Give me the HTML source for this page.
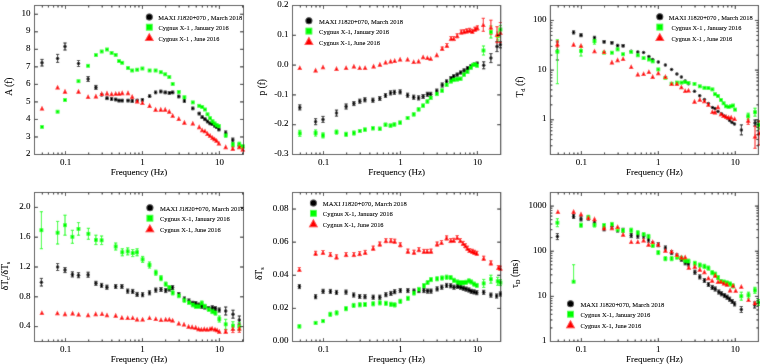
<!DOCTYPE html>
<html><head><meta charset="utf-8"><style>
html,body{margin:0;padding:0;background:#fff;}
svg{display:block;will-change:transform;}
text{font-family:"Liberation Serif", serif;fill:#000;stroke:#000;stroke-width:0.08px;}
</style></head><body>
<svg width="760" height="364" viewBox="0 0 760 364">
<defs><filter id="bl" x="0" y="0" width="760" height="364" filterUnits="userSpaceOnUse"><feConvolveMatrix order="3" kernelMatrix="0.02 0.07 0.02 0.07 0.64 0.07 0.02 0.07 0.02" edgeMode="duplicate" preserveAlpha="false"/></filter></defs>
<rect width="760" height="364" fill="#fff"/>
<g filter="url(#bl)"><rect width="760" height="364" fill="#fff"/>
<line x1="42.00" y1="59.40" x2="42.00" y2="66.00" stroke="#000" stroke-width="1"/>
<line x1="40.40" y1="59.40" x2="43.60" y2="59.40" stroke="#000" stroke-width="1"/>
<line x1="40.40" y1="66.00" x2="43.60" y2="66.00" stroke="#000" stroke-width="1"/>
<line x1="57.60" y1="54.40" x2="57.60" y2="62.40" stroke="#000" stroke-width="1"/>
<line x1="56.00" y1="54.40" x2="59.20" y2="54.40" stroke="#000" stroke-width="1"/>
<line x1="56.00" y1="62.40" x2="59.20" y2="62.40" stroke="#000" stroke-width="1"/>
<line x1="65.00" y1="43.00" x2="65.00" y2="50.00" stroke="#000" stroke-width="1"/>
<line x1="63.40" y1="43.00" x2="66.60" y2="43.00" stroke="#000" stroke-width="1"/>
<line x1="63.40" y1="50.00" x2="66.60" y2="50.00" stroke="#000" stroke-width="1"/>
<line x1="78.50" y1="60.50" x2="78.50" y2="66.50" stroke="#000" stroke-width="1"/>
<line x1="76.90" y1="60.50" x2="80.10" y2="60.50" stroke="#000" stroke-width="1"/>
<line x1="76.90" y1="66.50" x2="80.10" y2="66.50" stroke="#000" stroke-width="1"/>
<line x1="88.10" y1="76.50" x2="88.10" y2="81.50" stroke="#000" stroke-width="1"/>
<line x1="86.50" y1="76.50" x2="89.70" y2="76.50" stroke="#000" stroke-width="1"/>
<line x1="86.50" y1="81.50" x2="89.70" y2="81.50" stroke="#000" stroke-width="1"/>
<line x1="95.90" y1="85.40" x2="95.90" y2="89.40" stroke="#000" stroke-width="1"/>
<line x1="94.30" y1="85.40" x2="97.50" y2="85.40" stroke="#000" stroke-width="1"/>
<line x1="94.30" y1="89.40" x2="97.50" y2="89.40" stroke="#000" stroke-width="1"/>
<line x1="101.70" y1="93.80" x2="101.70" y2="95.80" stroke="#000" stroke-width="1"/>
<line x1="100.10" y1="93.80" x2="103.30" y2="93.80" stroke="#000" stroke-width="1"/>
<line x1="100.10" y1="95.80" x2="103.30" y2="95.80" stroke="#000" stroke-width="1"/>
<line x1="107.00" y1="97.00" x2="107.00" y2="99.60" stroke="#000" stroke-width="1"/>
<line x1="105.40" y1="97.00" x2="108.60" y2="97.00" stroke="#000" stroke-width="1"/>
<line x1="105.40" y1="99.60" x2="108.60" y2="99.60" stroke="#000" stroke-width="1"/>
<line x1="111.60" y1="97.70" x2="111.60" y2="100.30" stroke="#000" stroke-width="1"/>
<line x1="110.00" y1="97.70" x2="113.20" y2="97.70" stroke="#000" stroke-width="1"/>
<line x1="110.00" y1="100.30" x2="113.20" y2="100.30" stroke="#000" stroke-width="1"/>
<line x1="115.70" y1="98.20" x2="115.70" y2="100.80" stroke="#000" stroke-width="1"/>
<line x1="114.10" y1="98.20" x2="117.30" y2="98.20" stroke="#000" stroke-width="1"/>
<line x1="114.10" y1="100.80" x2="117.30" y2="100.80" stroke="#000" stroke-width="1"/>
<line x1="119.00" y1="99.30" x2="119.00" y2="101.90" stroke="#000" stroke-width="1"/>
<line x1="117.40" y1="99.30" x2="120.60" y2="99.30" stroke="#000" stroke-width="1"/>
<line x1="117.40" y1="101.90" x2="120.60" y2="101.90" stroke="#000" stroke-width="1"/>
<line x1="122.20" y1="99.30" x2="122.20" y2="101.90" stroke="#000" stroke-width="1"/>
<line x1="120.60" y1="99.30" x2="123.80" y2="99.30" stroke="#000" stroke-width="1"/>
<line x1="120.60" y1="101.90" x2="123.80" y2="101.90" stroke="#000" stroke-width="1"/>
<line x1="128.00" y1="99.30" x2="128.00" y2="101.90" stroke="#000" stroke-width="1"/>
<line x1="126.40" y1="99.30" x2="129.60" y2="99.30" stroke="#000" stroke-width="1"/>
<line x1="126.40" y1="101.90" x2="129.60" y2="101.90" stroke="#000" stroke-width="1"/>
<line x1="132.20" y1="99.80" x2="132.20" y2="102.40" stroke="#000" stroke-width="1"/>
<line x1="130.60" y1="99.80" x2="133.80" y2="99.80" stroke="#000" stroke-width="1"/>
<line x1="130.60" y1="102.40" x2="133.80" y2="102.40" stroke="#000" stroke-width="1"/>
<line x1="137.20" y1="99.30" x2="137.20" y2="101.90" stroke="#000" stroke-width="1"/>
<line x1="135.60" y1="99.30" x2="138.80" y2="99.30" stroke="#000" stroke-width="1"/>
<line x1="135.60" y1="101.90" x2="138.80" y2="101.90" stroke="#000" stroke-width="1"/>
<line x1="142.40" y1="98.50" x2="142.40" y2="101.10" stroke="#000" stroke-width="1"/>
<line x1="140.80" y1="98.50" x2="144.00" y2="98.50" stroke="#000" stroke-width="1"/>
<line x1="140.80" y1="101.10" x2="144.00" y2="101.10" stroke="#000" stroke-width="1"/>
<line x1="149.60" y1="94.90" x2="149.60" y2="97.50" stroke="#000" stroke-width="1"/>
<line x1="148.00" y1="94.90" x2="151.20" y2="94.90" stroke="#000" stroke-width="1"/>
<line x1="148.00" y1="97.50" x2="151.20" y2="97.50" stroke="#000" stroke-width="1"/>
<line x1="155.60" y1="91.10" x2="155.60" y2="93.70" stroke="#000" stroke-width="1"/>
<line x1="154.00" y1="91.10" x2="157.20" y2="91.10" stroke="#000" stroke-width="1"/>
<line x1="154.00" y1="93.70" x2="157.20" y2="93.70" stroke="#000" stroke-width="1"/>
<line x1="160.80" y1="90.20" x2="160.80" y2="92.80" stroke="#000" stroke-width="1"/>
<line x1="159.20" y1="90.20" x2="162.40" y2="90.20" stroke="#000" stroke-width="1"/>
<line x1="159.20" y1="92.80" x2="162.40" y2="92.80" stroke="#000" stroke-width="1"/>
<line x1="165.20" y1="91.10" x2="165.20" y2="93.70" stroke="#000" stroke-width="1"/>
<line x1="163.60" y1="91.10" x2="166.80" y2="91.10" stroke="#000" stroke-width="1"/>
<line x1="163.60" y1="93.70" x2="166.80" y2="93.70" stroke="#000" stroke-width="1"/>
<line x1="169.30" y1="91.60" x2="169.30" y2="94.20" stroke="#000" stroke-width="1"/>
<line x1="167.70" y1="91.60" x2="170.90" y2="91.60" stroke="#000" stroke-width="1"/>
<line x1="167.70" y1="94.20" x2="170.90" y2="94.20" stroke="#000" stroke-width="1"/>
<line x1="172.70" y1="91.10" x2="172.70" y2="93.70" stroke="#000" stroke-width="1"/>
<line x1="171.10" y1="91.10" x2="174.30" y2="91.10" stroke="#000" stroke-width="1"/>
<line x1="171.10" y1="93.70" x2="174.30" y2="93.70" stroke="#000" stroke-width="1"/>
<line x1="178.80" y1="95.20" x2="178.80" y2="97.80" stroke="#000" stroke-width="1"/>
<line x1="177.20" y1="95.20" x2="180.40" y2="95.20" stroke="#000" stroke-width="1"/>
<line x1="177.20" y1="97.80" x2="180.40" y2="97.80" stroke="#000" stroke-width="1"/>
<line x1="184.40" y1="99.70" x2="184.40" y2="102.30" stroke="#000" stroke-width="1"/>
<line x1="182.80" y1="99.70" x2="186.00" y2="99.70" stroke="#000" stroke-width="1"/>
<line x1="182.80" y1="102.30" x2="186.00" y2="102.30" stroke="#000" stroke-width="1"/>
<line x1="192.80" y1="107.10" x2="192.80" y2="109.70" stroke="#000" stroke-width="1"/>
<line x1="191.20" y1="107.10" x2="194.40" y2="107.10" stroke="#000" stroke-width="1"/>
<line x1="191.20" y1="109.70" x2="194.40" y2="109.70" stroke="#000" stroke-width="1"/>
<line x1="199.20" y1="112.30" x2="199.20" y2="114.90" stroke="#000" stroke-width="1"/>
<line x1="197.60" y1="112.30" x2="200.80" y2="112.30" stroke="#000" stroke-width="1"/>
<line x1="197.60" y1="114.90" x2="200.80" y2="114.90" stroke="#000" stroke-width="1"/>
<line x1="202.20" y1="115.90" x2="202.20" y2="118.50" stroke="#000" stroke-width="1"/>
<line x1="200.60" y1="115.90" x2="203.80" y2="115.90" stroke="#000" stroke-width="1"/>
<line x1="200.60" y1="118.50" x2="203.80" y2="118.50" stroke="#000" stroke-width="1"/>
<line x1="205.00" y1="118.00" x2="205.00" y2="120.60" stroke="#000" stroke-width="1"/>
<line x1="203.40" y1="118.00" x2="206.60" y2="118.00" stroke="#000" stroke-width="1"/>
<line x1="203.40" y1="120.60" x2="206.60" y2="120.60" stroke="#000" stroke-width="1"/>
<line x1="207.50" y1="120.20" x2="207.50" y2="122.80" stroke="#000" stroke-width="1"/>
<line x1="205.90" y1="120.20" x2="209.10" y2="120.20" stroke="#000" stroke-width="1"/>
<line x1="205.90" y1="122.80" x2="209.10" y2="122.80" stroke="#000" stroke-width="1"/>
<line x1="210.10" y1="122.10" x2="210.10" y2="124.70" stroke="#000" stroke-width="1"/>
<line x1="208.50" y1="122.10" x2="211.70" y2="122.10" stroke="#000" stroke-width="1"/>
<line x1="208.50" y1="124.70" x2="211.70" y2="124.70" stroke="#000" stroke-width="1"/>
<line x1="212.50" y1="122.90" x2="212.50" y2="125.50" stroke="#000" stroke-width="1"/>
<line x1="210.90" y1="122.90" x2="214.10" y2="122.90" stroke="#000" stroke-width="1"/>
<line x1="210.90" y1="125.50" x2="214.10" y2="125.50" stroke="#000" stroke-width="1"/>
<line x1="214.60" y1="124.40" x2="214.60" y2="127.00" stroke="#000" stroke-width="1"/>
<line x1="213.00" y1="124.40" x2="216.20" y2="124.40" stroke="#000" stroke-width="1"/>
<line x1="213.00" y1="127.00" x2="216.20" y2="127.00" stroke="#000" stroke-width="1"/>
<line x1="216.60" y1="125.90" x2="216.60" y2="128.50" stroke="#000" stroke-width="1"/>
<line x1="215.00" y1="125.90" x2="218.20" y2="125.90" stroke="#000" stroke-width="1"/>
<line x1="215.00" y1="128.50" x2="218.20" y2="128.50" stroke="#000" stroke-width="1"/>
<line x1="218.90" y1="128.20" x2="218.90" y2="130.80" stroke="#000" stroke-width="1"/>
<line x1="217.30" y1="128.20" x2="220.50" y2="128.20" stroke="#000" stroke-width="1"/>
<line x1="217.30" y1="130.80" x2="220.50" y2="130.80" stroke="#000" stroke-width="1"/>
<line x1="225.70" y1="131.00" x2="225.70" y2="135.00" stroke="#000" stroke-width="1"/>
<line x1="224.10" y1="131.00" x2="227.30" y2="131.00" stroke="#000" stroke-width="1"/>
<line x1="224.10" y1="135.00" x2="227.30" y2="135.00" stroke="#000" stroke-width="1"/>
<line x1="232.80" y1="138.10" x2="232.80" y2="142.10" stroke="#000" stroke-width="1"/>
<line x1="231.20" y1="138.10" x2="234.40" y2="138.10" stroke="#000" stroke-width="1"/>
<line x1="231.20" y1="142.10" x2="234.40" y2="142.10" stroke="#000" stroke-width="1"/>
<line x1="239.30" y1="143.90" x2="239.30" y2="146.90" stroke="#000" stroke-width="1"/>
<line x1="237.70" y1="143.90" x2="240.90" y2="143.90" stroke="#000" stroke-width="1"/>
<line x1="237.70" y1="146.90" x2="240.90" y2="146.90" stroke="#000" stroke-width="1"/>
<line x1="65.00" y1="98.50" x2="65.00" y2="101.50" stroke="#00ff00" stroke-width="1"/>
<line x1="63.40" y1="98.50" x2="66.60" y2="98.50" stroke="#00ff00" stroke-width="1"/>
<line x1="63.40" y1="101.50" x2="66.60" y2="101.50" stroke="#00ff00" stroke-width="1"/>
<line x1="225.70" y1="133.30" x2="225.70" y2="137.30" stroke="#00ff00" stroke-width="1"/>
<line x1="224.10" y1="133.30" x2="227.30" y2="133.30" stroke="#00ff00" stroke-width="1"/>
<line x1="224.10" y1="137.30" x2="227.30" y2="137.30" stroke="#00ff00" stroke-width="1"/>
<line x1="232.80" y1="142.70" x2="232.80" y2="146.70" stroke="#00ff00" stroke-width="1"/>
<line x1="231.20" y1="142.70" x2="234.40" y2="142.70" stroke="#00ff00" stroke-width="1"/>
<line x1="231.20" y1="146.70" x2="234.40" y2="146.70" stroke="#00ff00" stroke-width="1"/>
<line x1="239.30" y1="142.20" x2="239.30" y2="146.20" stroke="#00ff00" stroke-width="1"/>
<line x1="237.70" y1="142.20" x2="240.90" y2="142.20" stroke="#00ff00" stroke-width="1"/>
<line x1="237.70" y1="146.20" x2="240.90" y2="146.20" stroke="#00ff00" stroke-width="1"/>
<line x1="242.80" y1="145.00" x2="242.80" y2="148.00" stroke="#00ff00" stroke-width="1"/>
<line x1="241.20" y1="145.00" x2="244.40" y2="145.00" stroke="#00ff00" stroke-width="1"/>
<line x1="241.20" y1="148.00" x2="244.40" y2="148.00" stroke="#00ff00" stroke-width="1"/>
<line x1="232.80" y1="147.00" x2="232.80" y2="150.00" stroke="#ff0000" stroke-width="1"/>
<line x1="231.20" y1="147.00" x2="234.40" y2="147.00" stroke="#ff0000" stroke-width="1"/>
<line x1="231.20" y1="150.00" x2="234.40" y2="150.00" stroke="#ff0000" stroke-width="1"/>
<line x1="239.30" y1="145.50" x2="239.30" y2="148.50" stroke="#ff0000" stroke-width="1"/>
<line x1="237.70" y1="145.50" x2="240.90" y2="145.50" stroke="#ff0000" stroke-width="1"/>
<line x1="237.70" y1="148.50" x2="240.90" y2="148.50" stroke="#ff0000" stroke-width="1"/>
<line x1="242.80" y1="147.70" x2="242.80" y2="150.70" stroke="#ff0000" stroke-width="1"/>
<line x1="241.20" y1="147.70" x2="244.40" y2="147.70" stroke="#ff0000" stroke-width="1"/>
<line x1="241.20" y1="150.70" x2="244.40" y2="150.70" stroke="#ff0000" stroke-width="1"/>
<circle cx="42.00" cy="62.70" r="1.75" fill="#000"/>
<circle cx="57.60" cy="58.40" r="1.75" fill="#000"/>
<circle cx="65.00" cy="46.50" r="1.75" fill="#000"/>
<circle cx="78.50" cy="63.50" r="1.75" fill="#000"/>
<circle cx="88.10" cy="79.00" r="1.75" fill="#000"/>
<circle cx="95.90" cy="87.40" r="1.75" fill="#000"/>
<circle cx="101.70" cy="94.80" r="1.75" fill="#000"/>
<circle cx="107.00" cy="98.30" r="1.75" fill="#000"/>
<circle cx="111.60" cy="99.00" r="1.75" fill="#000"/>
<circle cx="115.70" cy="99.50" r="1.75" fill="#000"/>
<circle cx="119.00" cy="100.60" r="1.75" fill="#000"/>
<circle cx="122.20" cy="100.60" r="1.75" fill="#000"/>
<circle cx="128.00" cy="100.60" r="1.75" fill="#000"/>
<circle cx="132.20" cy="101.10" r="1.75" fill="#000"/>
<circle cx="137.20" cy="100.60" r="1.75" fill="#000"/>
<circle cx="142.40" cy="99.80" r="1.75" fill="#000"/>
<circle cx="149.60" cy="96.20" r="1.75" fill="#000"/>
<circle cx="155.60" cy="92.40" r="1.75" fill="#000"/>
<circle cx="160.80" cy="91.50" r="1.75" fill="#000"/>
<circle cx="165.20" cy="92.40" r="1.75" fill="#000"/>
<circle cx="169.30" cy="92.90" r="1.75" fill="#000"/>
<circle cx="172.70" cy="92.40" r="1.75" fill="#000"/>
<circle cx="178.80" cy="96.50" r="1.75" fill="#000"/>
<circle cx="184.40" cy="101.00" r="1.75" fill="#000"/>
<circle cx="192.80" cy="108.40" r="1.75" fill="#000"/>
<circle cx="199.20" cy="113.60" r="1.75" fill="#000"/>
<circle cx="202.20" cy="117.20" r="1.75" fill="#000"/>
<circle cx="205.00" cy="119.30" r="1.75" fill="#000"/>
<circle cx="207.50" cy="121.50" r="1.75" fill="#000"/>
<circle cx="210.10" cy="123.40" r="1.75" fill="#000"/>
<circle cx="212.50" cy="124.20" r="1.75" fill="#000"/>
<circle cx="214.60" cy="125.70" r="1.75" fill="#000"/>
<circle cx="216.60" cy="127.20" r="1.75" fill="#000"/>
<circle cx="218.90" cy="129.50" r="1.75" fill="#000"/>
<circle cx="225.70" cy="133.00" r="1.75" fill="#000"/>
<circle cx="232.80" cy="140.10" r="1.75" fill="#000"/>
<circle cx="239.30" cy="145.40" r="1.75" fill="#000"/>
<rect x="40.10" y="125.00" width="3.80" height="3.80" fill="#00ff00"/>
<rect x="55.70" y="109.80" width="3.80" height="3.80" fill="#00ff00"/>
<rect x="63.10" y="98.10" width="3.80" height="3.80" fill="#00ff00"/>
<rect x="76.60" y="79.30" width="3.80" height="3.80" fill="#00ff00"/>
<rect x="86.20" y="63.90" width="3.80" height="3.80" fill="#00ff00"/>
<rect x="94.00" y="53.20" width="3.80" height="3.80" fill="#00ff00"/>
<rect x="99.80" y="49.60" width="3.80" height="3.80" fill="#00ff00"/>
<rect x="105.10" y="47.60" width="3.80" height="3.80" fill="#00ff00"/>
<rect x="109.70" y="51.00" width="3.80" height="3.80" fill="#00ff00"/>
<rect x="113.80" y="53.00" width="3.80" height="3.80" fill="#00ff00"/>
<rect x="117.10" y="59.20" width="3.80" height="3.80" fill="#00ff00"/>
<rect x="120.30" y="60.90" width="3.80" height="3.80" fill="#00ff00"/>
<rect x="126.10" y="66.10" width="3.80" height="3.80" fill="#00ff00"/>
<rect x="130.30" y="68.60" width="3.80" height="3.80" fill="#00ff00"/>
<rect x="135.30" y="67.80" width="3.80" height="3.80" fill="#00ff00"/>
<rect x="140.50" y="66.60" width="3.80" height="3.80" fill="#00ff00"/>
<rect x="147.70" y="68.60" width="3.80" height="3.80" fill="#00ff00"/>
<rect x="153.70" y="68.60" width="3.80" height="3.80" fill="#00ff00"/>
<rect x="158.90" y="70.30" width="3.80" height="3.80" fill="#00ff00"/>
<rect x="163.30" y="72.40" width="3.80" height="3.80" fill="#00ff00"/>
<rect x="167.40" y="75.20" width="3.80" height="3.80" fill="#00ff00"/>
<rect x="170.80" y="82.10" width="3.80" height="3.80" fill="#00ff00"/>
<rect x="176.90" y="90.00" width="3.80" height="3.80" fill="#00ff00"/>
<rect x="182.50" y="95.30" width="3.80" height="3.80" fill="#00ff00"/>
<rect x="190.90" y="100.50" width="3.80" height="3.80" fill="#00ff00"/>
<rect x="197.30" y="103.90" width="3.80" height="3.80" fill="#00ff00"/>
<rect x="200.30" y="105.10" width="3.80" height="3.80" fill="#00ff00"/>
<rect x="203.10" y="107.60" width="3.80" height="3.80" fill="#00ff00"/>
<rect x="205.60" y="112.40" width="3.80" height="3.80" fill="#00ff00"/>
<rect x="208.20" y="116.30" width="3.80" height="3.80" fill="#00ff00"/>
<rect x="210.60" y="119.30" width="3.80" height="3.80" fill="#00ff00"/>
<rect x="212.70" y="121.50" width="3.80" height="3.80" fill="#00ff00"/>
<rect x="214.70" y="123.10" width="3.80" height="3.80" fill="#00ff00"/>
<rect x="217.00" y="124.10" width="3.80" height="3.80" fill="#00ff00"/>
<rect x="223.80" y="133.40" width="3.80" height="3.80" fill="#00ff00"/>
<rect x="230.90" y="142.80" width="3.80" height="3.80" fill="#00ff00"/>
<rect x="237.40" y="142.30" width="3.80" height="3.80" fill="#00ff00"/>
<rect x="240.90" y="144.60" width="3.80" height="3.80" fill="#00ff00"/>
<path d="M39.60,110.60L44.40,110.60L42.00,105.77Z" fill="#ff0000"/>
<path d="M55.20,89.60L60.00,89.60L57.60,84.77Z" fill="#ff0000"/>
<path d="M62.60,93.70L67.40,93.70L65.00,88.87Z" fill="#ff0000"/>
<path d="M76.10,93.70L80.90,93.70L78.50,88.87Z" fill="#ff0000"/>
<path d="M85.70,99.00L90.50,99.00L88.10,94.17Z" fill="#ff0000"/>
<path d="M93.50,98.40L98.30,98.40L95.90,93.57Z" fill="#ff0000"/>
<path d="M99.30,95.90L104.10,95.90L101.70,91.07Z" fill="#ff0000"/>
<path d="M104.60,95.40L109.40,95.40L107.00,90.57Z" fill="#ff0000"/>
<path d="M109.20,96.20L114.00,96.20L111.60,91.37Z" fill="#ff0000"/>
<path d="M113.30,95.80L118.10,95.80L115.70,90.97Z" fill="#ff0000"/>
<path d="M116.60,95.80L121.40,95.80L119.00,90.97Z" fill="#ff0000"/>
<path d="M119.80,95.20L124.60,95.20L122.20,90.37Z" fill="#ff0000"/>
<path d="M125.60,95.20L130.40,95.20L128.00,90.37Z" fill="#ff0000"/>
<path d="M129.80,98.80L134.60,98.80L132.20,93.97Z" fill="#ff0000"/>
<path d="M134.80,103.40L139.60,103.40L137.20,98.57Z" fill="#ff0000"/>
<path d="M140.00,105.10L144.80,105.10L142.40,100.27Z" fill="#ff0000"/>
<path d="M147.20,107.90L152.00,107.90L149.60,103.07Z" fill="#ff0000"/>
<path d="M153.20,111.70L158.00,111.70L155.60,106.87Z" fill="#ff0000"/>
<path d="M158.40,111.70L163.20,111.70L160.80,106.87Z" fill="#ff0000"/>
<path d="M162.80,111.70L167.60,111.70L165.20,106.87Z" fill="#ff0000"/>
<path d="M166.90,113.70L171.70,113.70L169.30,108.87Z" fill="#ff0000"/>
<path d="M170.30,117.80L175.10,117.80L172.70,112.97Z" fill="#ff0000"/>
<path d="M176.40,120.90L181.20,120.90L178.80,116.07Z" fill="#ff0000"/>
<path d="M182.00,124.70L186.80,124.70L184.40,119.87Z" fill="#ff0000"/>
<path d="M190.40,125.60L195.20,125.60L192.80,120.77Z" fill="#ff0000"/>
<path d="M196.80,129.20L201.60,129.20L199.20,124.37Z" fill="#ff0000"/>
<path d="M199.80,132.30L204.60,132.30L202.20,127.47Z" fill="#ff0000"/>
<path d="M202.60,133.30L207.40,133.30L205.00,128.47Z" fill="#ff0000"/>
<path d="M205.10,135.90L209.90,135.90L207.50,131.07Z" fill="#ff0000"/>
<path d="M207.70,137.80L212.50,137.80L210.10,132.97Z" fill="#ff0000"/>
<path d="M210.10,139.80L214.90,139.80L212.50,134.97Z" fill="#ff0000"/>
<path d="M212.20,141.30L217.00,141.30L214.60,136.47Z" fill="#ff0000"/>
<path d="M214.20,142.80L219.00,142.80L216.60,137.97Z" fill="#ff0000"/>
<path d="M216.50,145.40L221.30,145.40L218.90,140.57Z" fill="#ff0000"/>
<path d="M223.30,149.20L228.10,149.20L225.70,144.37Z" fill="#ff0000"/>
<path d="M230.40,150.80L235.20,150.80L232.80,145.97Z" fill="#ff0000"/>
<path d="M236.90,149.30L241.70,149.30L239.30,144.47Z" fill="#ff0000"/>
<path d="M240.40,151.50L245.20,151.50L242.80,146.67Z" fill="#ff0000"/>
<rect x="34.50" y="5.50" width="209.00" height="149.00" fill="none" stroke="#000" stroke-width="1"/>
<line x1="42.34" y1="154.50" x2="42.34" y2="152.50" stroke="#000" stroke-width="1"/>
<line x1="42.34" y1="5.50" x2="42.34" y2="7.50" stroke="#000" stroke-width="1"/>
<line x1="48.43" y1="154.50" x2="48.43" y2="152.50" stroke="#000" stroke-width="1"/>
<line x1="48.43" y1="5.50" x2="48.43" y2="7.50" stroke="#000" stroke-width="1"/>
<line x1="53.58" y1="154.50" x2="53.58" y2="152.50" stroke="#000" stroke-width="1"/>
<line x1="53.58" y1="5.50" x2="53.58" y2="7.50" stroke="#000" stroke-width="1"/>
<line x1="58.04" y1="154.50" x2="58.04" y2="152.50" stroke="#000" stroke-width="1"/>
<line x1="58.04" y1="5.50" x2="58.04" y2="7.50" stroke="#000" stroke-width="1"/>
<line x1="61.98" y1="154.50" x2="61.98" y2="152.50" stroke="#000" stroke-width="1"/>
<line x1="61.98" y1="5.50" x2="61.98" y2="7.50" stroke="#000" stroke-width="1"/>
<line x1="65.50" y1="154.50" x2="65.50" y2="151.00" stroke="#000" stroke-width="1"/>
<line x1="65.50" y1="5.50" x2="65.50" y2="9.00" stroke="#000" stroke-width="1"/>
<line x1="88.66" y1="154.50" x2="88.66" y2="152.50" stroke="#000" stroke-width="1"/>
<line x1="88.66" y1="5.50" x2="88.66" y2="7.50" stroke="#000" stroke-width="1"/>
<line x1="102.21" y1="154.50" x2="102.21" y2="152.50" stroke="#000" stroke-width="1"/>
<line x1="102.21" y1="5.50" x2="102.21" y2="7.50" stroke="#000" stroke-width="1"/>
<line x1="111.83" y1="154.50" x2="111.83" y2="152.50" stroke="#000" stroke-width="1"/>
<line x1="111.83" y1="5.50" x2="111.83" y2="7.50" stroke="#000" stroke-width="1"/>
<line x1="119.29" y1="154.50" x2="119.29" y2="152.50" stroke="#000" stroke-width="1"/>
<line x1="119.29" y1="5.50" x2="119.29" y2="7.50" stroke="#000" stroke-width="1"/>
<line x1="125.38" y1="154.50" x2="125.38" y2="152.50" stroke="#000" stroke-width="1"/>
<line x1="125.38" y1="5.50" x2="125.38" y2="7.50" stroke="#000" stroke-width="1"/>
<line x1="130.53" y1="154.50" x2="130.53" y2="152.50" stroke="#000" stroke-width="1"/>
<line x1="130.53" y1="5.50" x2="130.53" y2="7.50" stroke="#000" stroke-width="1"/>
<line x1="134.99" y1="154.50" x2="134.99" y2="152.50" stroke="#000" stroke-width="1"/>
<line x1="134.99" y1="5.50" x2="134.99" y2="7.50" stroke="#000" stroke-width="1"/>
<line x1="138.93" y1="154.50" x2="138.93" y2="152.50" stroke="#000" stroke-width="1"/>
<line x1="138.93" y1="5.50" x2="138.93" y2="7.50" stroke="#000" stroke-width="1"/>
<line x1="142.45" y1="154.50" x2="142.45" y2="151.00" stroke="#000" stroke-width="1"/>
<line x1="142.45" y1="5.50" x2="142.45" y2="9.00" stroke="#000" stroke-width="1"/>
<line x1="165.61" y1="154.50" x2="165.61" y2="152.50" stroke="#000" stroke-width="1"/>
<line x1="165.61" y1="5.50" x2="165.61" y2="7.50" stroke="#000" stroke-width="1"/>
<line x1="179.16" y1="154.50" x2="179.16" y2="152.50" stroke="#000" stroke-width="1"/>
<line x1="179.16" y1="5.50" x2="179.16" y2="7.50" stroke="#000" stroke-width="1"/>
<line x1="188.78" y1="154.50" x2="188.78" y2="152.50" stroke="#000" stroke-width="1"/>
<line x1="188.78" y1="5.50" x2="188.78" y2="7.50" stroke="#000" stroke-width="1"/>
<line x1="196.24" y1="154.50" x2="196.24" y2="152.50" stroke="#000" stroke-width="1"/>
<line x1="196.24" y1="5.50" x2="196.24" y2="7.50" stroke="#000" stroke-width="1"/>
<line x1="202.33" y1="154.50" x2="202.33" y2="152.50" stroke="#000" stroke-width="1"/>
<line x1="202.33" y1="5.50" x2="202.33" y2="7.50" stroke="#000" stroke-width="1"/>
<line x1="207.48" y1="154.50" x2="207.48" y2="152.50" stroke="#000" stroke-width="1"/>
<line x1="207.48" y1="5.50" x2="207.48" y2="7.50" stroke="#000" stroke-width="1"/>
<line x1="211.94" y1="154.50" x2="211.94" y2="152.50" stroke="#000" stroke-width="1"/>
<line x1="211.94" y1="5.50" x2="211.94" y2="7.50" stroke="#000" stroke-width="1"/>
<line x1="215.88" y1="154.50" x2="215.88" y2="152.50" stroke="#000" stroke-width="1"/>
<line x1="215.88" y1="5.50" x2="215.88" y2="7.50" stroke="#000" stroke-width="1"/>
<line x1="219.40" y1="154.50" x2="219.40" y2="151.00" stroke="#000" stroke-width="1"/>
<line x1="219.40" y1="5.50" x2="219.40" y2="9.00" stroke="#000" stroke-width="1"/>
<line x1="242.56" y1="154.50" x2="242.56" y2="152.50" stroke="#000" stroke-width="1"/>
<line x1="242.56" y1="5.50" x2="242.56" y2="7.50" stroke="#000" stroke-width="1"/>
<line x1="34.50" y1="154.50" x2="38.00" y2="154.50" stroke="#000" stroke-width="1"/>
<line x1="243.50" y1="154.50" x2="240.00" y2="154.50" stroke="#000" stroke-width="1"/>
<line x1="34.50" y1="136.97" x2="38.00" y2="136.97" stroke="#000" stroke-width="1"/>
<line x1="243.50" y1="136.97" x2="240.00" y2="136.97" stroke="#000" stroke-width="1"/>
<line x1="34.50" y1="119.44" x2="38.00" y2="119.44" stroke="#000" stroke-width="1"/>
<line x1="243.50" y1="119.44" x2="240.00" y2="119.44" stroke="#000" stroke-width="1"/>
<line x1="34.50" y1="101.91" x2="38.00" y2="101.91" stroke="#000" stroke-width="1"/>
<line x1="243.50" y1="101.91" x2="240.00" y2="101.91" stroke="#000" stroke-width="1"/>
<line x1="34.50" y1="84.38" x2="38.00" y2="84.38" stroke="#000" stroke-width="1"/>
<line x1="243.50" y1="84.38" x2="240.00" y2="84.38" stroke="#000" stroke-width="1"/>
<line x1="34.50" y1="66.85" x2="38.00" y2="66.85" stroke="#000" stroke-width="1"/>
<line x1="243.50" y1="66.85" x2="240.00" y2="66.85" stroke="#000" stroke-width="1"/>
<line x1="34.50" y1="49.32" x2="38.00" y2="49.32" stroke="#000" stroke-width="1"/>
<line x1="243.50" y1="49.32" x2="240.00" y2="49.32" stroke="#000" stroke-width="1"/>
<line x1="34.50" y1="31.79" x2="38.00" y2="31.79" stroke="#000" stroke-width="1"/>
<line x1="243.50" y1="31.79" x2="240.00" y2="31.79" stroke="#000" stroke-width="1"/>
<line x1="34.50" y1="14.26" x2="38.00" y2="14.26" stroke="#000" stroke-width="1"/>
<line x1="243.50" y1="14.26" x2="240.00" y2="14.26" stroke="#000" stroke-width="1"/>
<circle cx="149.30" cy="16.90" r="3.5" fill="#000"/>
<rect x="145.90" y="23.80" width="6.8" height="6.8" fill="#00ff00"/>
<path d="M144.60,41.10L154.00,41.10L149.30,32.70Z" fill="#ff0000"/>
<line x1="299.80" y1="104.90" x2="299.80" y2="109.90" stroke="#000" stroke-width="1"/>
<line x1="298.20" y1="104.90" x2="301.40" y2="104.90" stroke="#000" stroke-width="1"/>
<line x1="298.20" y1="109.90" x2="301.40" y2="109.90" stroke="#000" stroke-width="1"/>
<line x1="315.60" y1="118.70" x2="315.60" y2="124.70" stroke="#000" stroke-width="1"/>
<line x1="314.00" y1="118.70" x2="317.20" y2="118.70" stroke="#000" stroke-width="1"/>
<line x1="314.00" y1="124.70" x2="317.20" y2="124.70" stroke="#000" stroke-width="1"/>
<line x1="323.00" y1="116.40" x2="323.00" y2="122.40" stroke="#000" stroke-width="1"/>
<line x1="321.40" y1="116.40" x2="324.60" y2="116.40" stroke="#000" stroke-width="1"/>
<line x1="321.40" y1="122.40" x2="324.60" y2="122.40" stroke="#000" stroke-width="1"/>
<line x1="336.50" y1="110.10" x2="336.50" y2="116.10" stroke="#000" stroke-width="1"/>
<line x1="334.90" y1="110.10" x2="338.10" y2="110.10" stroke="#000" stroke-width="1"/>
<line x1="334.90" y1="116.10" x2="338.10" y2="116.10" stroke="#000" stroke-width="1"/>
<line x1="346.10" y1="104.00" x2="346.10" y2="109.00" stroke="#000" stroke-width="1"/>
<line x1="344.50" y1="104.00" x2="347.70" y2="104.00" stroke="#000" stroke-width="1"/>
<line x1="344.50" y1="109.00" x2="347.70" y2="109.00" stroke="#000" stroke-width="1"/>
<line x1="353.90" y1="101.60" x2="353.90" y2="105.60" stroke="#000" stroke-width="1"/>
<line x1="352.30" y1="101.60" x2="355.50" y2="101.60" stroke="#000" stroke-width="1"/>
<line x1="352.30" y1="105.60" x2="355.50" y2="105.60" stroke="#000" stroke-width="1"/>
<line x1="359.80" y1="99.20" x2="359.80" y2="103.20" stroke="#000" stroke-width="1"/>
<line x1="358.20" y1="99.20" x2="361.40" y2="99.20" stroke="#000" stroke-width="1"/>
<line x1="358.20" y1="103.20" x2="361.40" y2="103.20" stroke="#000" stroke-width="1"/>
<line x1="364.90" y1="97.80" x2="364.90" y2="101.80" stroke="#000" stroke-width="1"/>
<line x1="363.30" y1="97.80" x2="366.50" y2="97.80" stroke="#000" stroke-width="1"/>
<line x1="363.30" y1="101.80" x2="366.50" y2="101.80" stroke="#000" stroke-width="1"/>
<line x1="372.90" y1="98.20" x2="372.90" y2="102.20" stroke="#000" stroke-width="1"/>
<line x1="371.30" y1="98.20" x2="374.50" y2="98.20" stroke="#000" stroke-width="1"/>
<line x1="371.30" y1="102.20" x2="374.50" y2="102.20" stroke="#000" stroke-width="1"/>
<line x1="379.80" y1="96.50" x2="379.80" y2="100.50" stroke="#000" stroke-width="1"/>
<line x1="378.20" y1="96.50" x2="381.40" y2="96.50" stroke="#000" stroke-width="1"/>
<line x1="378.20" y1="100.50" x2="381.40" y2="100.50" stroke="#000" stroke-width="1"/>
<line x1="385.50" y1="93.50" x2="385.50" y2="97.50" stroke="#000" stroke-width="1"/>
<line x1="383.90" y1="93.50" x2="387.10" y2="93.50" stroke="#000" stroke-width="1"/>
<line x1="383.90" y1="97.50" x2="387.10" y2="97.50" stroke="#000" stroke-width="1"/>
<line x1="390.50" y1="90.90" x2="390.50" y2="94.90" stroke="#000" stroke-width="1"/>
<line x1="388.90" y1="90.90" x2="392.10" y2="90.90" stroke="#000" stroke-width="1"/>
<line x1="388.90" y1="94.90" x2="392.10" y2="94.90" stroke="#000" stroke-width="1"/>
<line x1="394.40" y1="90.30" x2="394.40" y2="94.30" stroke="#000" stroke-width="1"/>
<line x1="392.80" y1="90.30" x2="396.00" y2="90.30" stroke="#000" stroke-width="1"/>
<line x1="392.80" y1="94.30" x2="396.00" y2="94.30" stroke="#000" stroke-width="1"/>
<line x1="400.10" y1="89.90" x2="400.10" y2="93.90" stroke="#000" stroke-width="1"/>
<line x1="398.50" y1="89.90" x2="401.70" y2="89.90" stroke="#000" stroke-width="1"/>
<line x1="398.50" y1="93.90" x2="401.70" y2="93.90" stroke="#000" stroke-width="1"/>
<line x1="407.60" y1="93.20" x2="407.60" y2="97.20" stroke="#000" stroke-width="1"/>
<line x1="406.00" y1="93.20" x2="409.20" y2="93.20" stroke="#000" stroke-width="1"/>
<line x1="406.00" y1="97.20" x2="409.20" y2="97.20" stroke="#000" stroke-width="1"/>
<line x1="413.70" y1="95.20" x2="413.70" y2="99.20" stroke="#000" stroke-width="1"/>
<line x1="412.10" y1="95.20" x2="415.30" y2="95.20" stroke="#000" stroke-width="1"/>
<line x1="412.10" y1="99.20" x2="415.30" y2="99.20" stroke="#000" stroke-width="1"/>
<line x1="418.60" y1="95.90" x2="418.60" y2="99.90" stroke="#000" stroke-width="1"/>
<line x1="417.00" y1="95.90" x2="420.20" y2="95.90" stroke="#000" stroke-width="1"/>
<line x1="417.00" y1="99.90" x2="420.20" y2="99.90" stroke="#000" stroke-width="1"/>
<line x1="423.10" y1="94.50" x2="423.10" y2="98.50" stroke="#000" stroke-width="1"/>
<line x1="421.50" y1="94.50" x2="424.70" y2="94.50" stroke="#000" stroke-width="1"/>
<line x1="421.50" y1="98.50" x2="424.70" y2="98.50" stroke="#000" stroke-width="1"/>
<line x1="427.40" y1="92.30" x2="427.40" y2="96.30" stroke="#000" stroke-width="1"/>
<line x1="425.80" y1="92.30" x2="429.00" y2="92.30" stroke="#000" stroke-width="1"/>
<line x1="425.80" y1="96.30" x2="429.00" y2="96.30" stroke="#000" stroke-width="1"/>
<line x1="430.70" y1="92.30" x2="430.70" y2="96.30" stroke="#000" stroke-width="1"/>
<line x1="429.10" y1="92.30" x2="432.30" y2="92.30" stroke="#000" stroke-width="1"/>
<line x1="429.10" y1="96.30" x2="432.30" y2="96.30" stroke="#000" stroke-width="1"/>
<line x1="436.80" y1="89.10" x2="436.80" y2="93.10" stroke="#000" stroke-width="1"/>
<line x1="435.20" y1="89.10" x2="438.40" y2="89.10" stroke="#000" stroke-width="1"/>
<line x1="435.20" y1="93.10" x2="438.40" y2="93.10" stroke="#000" stroke-width="1"/>
<line x1="442.20" y1="83.00" x2="442.20" y2="87.00" stroke="#000" stroke-width="1"/>
<line x1="440.60" y1="83.00" x2="443.80" y2="83.00" stroke="#000" stroke-width="1"/>
<line x1="440.60" y1="87.00" x2="443.80" y2="87.00" stroke="#000" stroke-width="1"/>
<line x1="446.60" y1="79.90" x2="446.60" y2="82.90" stroke="#000" stroke-width="1"/>
<line x1="445.00" y1="79.90" x2="448.20" y2="79.90" stroke="#000" stroke-width="1"/>
<line x1="445.00" y1="82.90" x2="448.20" y2="82.90" stroke="#000" stroke-width="1"/>
<line x1="451.00" y1="76.50" x2="451.00" y2="79.50" stroke="#000" stroke-width="1"/>
<line x1="449.40" y1="76.50" x2="452.60" y2="76.50" stroke="#000" stroke-width="1"/>
<line x1="449.40" y1="79.50" x2="452.60" y2="79.50" stroke="#000" stroke-width="1"/>
<line x1="453.70" y1="74.80" x2="453.70" y2="77.80" stroke="#000" stroke-width="1"/>
<line x1="452.10" y1="74.80" x2="455.30" y2="74.80" stroke="#000" stroke-width="1"/>
<line x1="452.10" y1="77.80" x2="455.30" y2="77.80" stroke="#000" stroke-width="1"/>
<line x1="457.20" y1="73.10" x2="457.20" y2="76.10" stroke="#000" stroke-width="1"/>
<line x1="455.60" y1="73.10" x2="458.80" y2="73.10" stroke="#000" stroke-width="1"/>
<line x1="455.60" y1="76.10" x2="458.80" y2="76.10" stroke="#000" stroke-width="1"/>
<line x1="460.60" y1="71.00" x2="460.60" y2="74.00" stroke="#000" stroke-width="1"/>
<line x1="459.00" y1="71.00" x2="462.20" y2="71.00" stroke="#000" stroke-width="1"/>
<line x1="459.00" y1="74.00" x2="462.20" y2="74.00" stroke="#000" stroke-width="1"/>
<line x1="464.10" y1="68.90" x2="464.10" y2="71.90" stroke="#000" stroke-width="1"/>
<line x1="462.50" y1="68.90" x2="465.70" y2="68.90" stroke="#000" stroke-width="1"/>
<line x1="462.50" y1="71.90" x2="465.70" y2="71.90" stroke="#000" stroke-width="1"/>
<line x1="467.50" y1="66.60" x2="467.50" y2="69.60" stroke="#000" stroke-width="1"/>
<line x1="465.90" y1="66.60" x2="469.10" y2="66.60" stroke="#000" stroke-width="1"/>
<line x1="465.90" y1="69.60" x2="469.10" y2="69.60" stroke="#000" stroke-width="1"/>
<line x1="470.90" y1="64.80" x2="470.90" y2="67.80" stroke="#000" stroke-width="1"/>
<line x1="469.30" y1="64.80" x2="472.50" y2="64.80" stroke="#000" stroke-width="1"/>
<line x1="469.30" y1="67.80" x2="472.50" y2="67.80" stroke="#000" stroke-width="1"/>
<line x1="474.40" y1="62.70" x2="474.40" y2="65.70" stroke="#000" stroke-width="1"/>
<line x1="472.80" y1="62.70" x2="476.00" y2="62.70" stroke="#000" stroke-width="1"/>
<line x1="472.80" y1="65.70" x2="476.00" y2="65.70" stroke="#000" stroke-width="1"/>
<line x1="477.10" y1="62.10" x2="477.10" y2="65.10" stroke="#000" stroke-width="1"/>
<line x1="475.50" y1="62.10" x2="478.70" y2="62.10" stroke="#000" stroke-width="1"/>
<line x1="475.50" y1="65.10" x2="478.70" y2="65.10" stroke="#000" stroke-width="1"/>
<line x1="483.70" y1="61.80" x2="483.70" y2="68.80" stroke="#000" stroke-width="1"/>
<line x1="482.10" y1="61.80" x2="485.30" y2="61.80" stroke="#000" stroke-width="1"/>
<line x1="482.10" y1="68.80" x2="485.30" y2="68.80" stroke="#000" stroke-width="1"/>
<line x1="490.90" y1="53.60" x2="490.90" y2="62.60" stroke="#000" stroke-width="1"/>
<line x1="489.30" y1="53.60" x2="492.50" y2="53.60" stroke="#000" stroke-width="1"/>
<line x1="489.30" y1="62.60" x2="492.50" y2="62.60" stroke="#000" stroke-width="1"/>
<line x1="497.00" y1="41.60" x2="497.00" y2="51.60" stroke="#000" stroke-width="1"/>
<line x1="495.40" y1="41.60" x2="498.60" y2="41.60" stroke="#000" stroke-width="1"/>
<line x1="495.40" y1="51.60" x2="498.60" y2="51.60" stroke="#000" stroke-width="1"/>
<line x1="500.40" y1="41.80" x2="500.40" y2="47.80" stroke="#000" stroke-width="1"/>
<line x1="498.80" y1="41.80" x2="502.00" y2="41.80" stroke="#000" stroke-width="1"/>
<line x1="498.80" y1="47.80" x2="502.00" y2="47.80" stroke="#000" stroke-width="1"/>
<line x1="299.80" y1="130.30" x2="299.80" y2="136.30" stroke="#00ff00" stroke-width="1"/>
<line x1="298.20" y1="130.30" x2="301.40" y2="130.30" stroke="#00ff00" stroke-width="1"/>
<line x1="298.20" y1="136.30" x2="301.40" y2="136.30" stroke="#00ff00" stroke-width="1"/>
<line x1="315.60" y1="130.00" x2="315.60" y2="136.00" stroke="#00ff00" stroke-width="1"/>
<line x1="314.00" y1="130.00" x2="317.20" y2="130.00" stroke="#00ff00" stroke-width="1"/>
<line x1="314.00" y1="136.00" x2="317.20" y2="136.00" stroke="#00ff00" stroke-width="1"/>
<line x1="323.00" y1="132.90" x2="323.00" y2="137.90" stroke="#00ff00" stroke-width="1"/>
<line x1="321.40" y1="132.90" x2="324.60" y2="132.90" stroke="#00ff00" stroke-width="1"/>
<line x1="321.40" y1="137.90" x2="324.60" y2="137.90" stroke="#00ff00" stroke-width="1"/>
<line x1="336.50" y1="130.10" x2="336.50" y2="134.10" stroke="#00ff00" stroke-width="1"/>
<line x1="334.90" y1="130.10" x2="338.10" y2="130.10" stroke="#00ff00" stroke-width="1"/>
<line x1="334.90" y1="134.10" x2="338.10" y2="134.10" stroke="#00ff00" stroke-width="1"/>
<line x1="346.10" y1="132.30" x2="346.10" y2="136.30" stroke="#00ff00" stroke-width="1"/>
<line x1="344.50" y1="132.30" x2="347.70" y2="132.30" stroke="#00ff00" stroke-width="1"/>
<line x1="344.50" y1="136.30" x2="347.70" y2="136.30" stroke="#00ff00" stroke-width="1"/>
<line x1="353.90" y1="131.00" x2="353.90" y2="135.00" stroke="#00ff00" stroke-width="1"/>
<line x1="352.30" y1="131.00" x2="355.50" y2="131.00" stroke="#00ff00" stroke-width="1"/>
<line x1="352.30" y1="135.00" x2="355.50" y2="135.00" stroke="#00ff00" stroke-width="1"/>
<line x1="359.80" y1="129.50" x2="359.80" y2="132.50" stroke="#00ff00" stroke-width="1"/>
<line x1="358.20" y1="129.50" x2="361.40" y2="129.50" stroke="#00ff00" stroke-width="1"/>
<line x1="358.20" y1="132.50" x2="361.40" y2="132.50" stroke="#00ff00" stroke-width="1"/>
<line x1="364.90" y1="128.10" x2="364.90" y2="131.10" stroke="#00ff00" stroke-width="1"/>
<line x1="363.30" y1="128.10" x2="366.50" y2="128.10" stroke="#00ff00" stroke-width="1"/>
<line x1="363.30" y1="131.10" x2="366.50" y2="131.10" stroke="#00ff00" stroke-width="1"/>
<line x1="372.90" y1="126.80" x2="372.90" y2="129.80" stroke="#00ff00" stroke-width="1"/>
<line x1="371.30" y1="126.80" x2="374.50" y2="126.80" stroke="#00ff00" stroke-width="1"/>
<line x1="371.30" y1="129.80" x2="374.50" y2="129.80" stroke="#00ff00" stroke-width="1"/>
<line x1="379.80" y1="127.20" x2="379.80" y2="130.20" stroke="#00ff00" stroke-width="1"/>
<line x1="378.20" y1="127.20" x2="381.40" y2="127.20" stroke="#00ff00" stroke-width="1"/>
<line x1="378.20" y1="130.20" x2="381.40" y2="130.20" stroke="#00ff00" stroke-width="1"/>
<line x1="385.50" y1="123.20" x2="385.50" y2="126.20" stroke="#00ff00" stroke-width="1"/>
<line x1="383.90" y1="123.20" x2="387.10" y2="123.20" stroke="#00ff00" stroke-width="1"/>
<line x1="383.90" y1="126.20" x2="387.10" y2="126.20" stroke="#00ff00" stroke-width="1"/>
<line x1="390.50" y1="124.10" x2="390.50" y2="127.10" stroke="#00ff00" stroke-width="1"/>
<line x1="388.90" y1="124.10" x2="392.10" y2="124.10" stroke="#00ff00" stroke-width="1"/>
<line x1="388.90" y1="127.10" x2="392.10" y2="127.10" stroke="#00ff00" stroke-width="1"/>
<line x1="394.40" y1="123.00" x2="394.40" y2="126.00" stroke="#00ff00" stroke-width="1"/>
<line x1="392.80" y1="123.00" x2="396.00" y2="123.00" stroke="#00ff00" stroke-width="1"/>
<line x1="392.80" y1="126.00" x2="396.00" y2="126.00" stroke="#00ff00" stroke-width="1"/>
<line x1="400.10" y1="121.10" x2="400.10" y2="124.10" stroke="#00ff00" stroke-width="1"/>
<line x1="398.50" y1="121.10" x2="401.70" y2="121.10" stroke="#00ff00" stroke-width="1"/>
<line x1="398.50" y1="124.10" x2="401.70" y2="124.10" stroke="#00ff00" stroke-width="1"/>
<line x1="407.60" y1="116.50" x2="407.60" y2="119.50" stroke="#00ff00" stroke-width="1"/>
<line x1="406.00" y1="116.50" x2="409.20" y2="116.50" stroke="#00ff00" stroke-width="1"/>
<line x1="406.00" y1="119.50" x2="409.20" y2="119.50" stroke="#00ff00" stroke-width="1"/>
<line x1="413.70" y1="112.90" x2="413.70" y2="115.90" stroke="#00ff00" stroke-width="1"/>
<line x1="412.10" y1="112.90" x2="415.30" y2="112.90" stroke="#00ff00" stroke-width="1"/>
<line x1="412.10" y1="115.90" x2="415.30" y2="115.90" stroke="#00ff00" stroke-width="1"/>
<line x1="418.60" y1="107.90" x2="418.60" y2="110.90" stroke="#00ff00" stroke-width="1"/>
<line x1="417.00" y1="107.90" x2="420.20" y2="107.90" stroke="#00ff00" stroke-width="1"/>
<line x1="417.00" y1="110.90" x2="420.20" y2="110.90" stroke="#00ff00" stroke-width="1"/>
<line x1="423.10" y1="104.10" x2="423.10" y2="107.10" stroke="#00ff00" stroke-width="1"/>
<line x1="421.50" y1="104.10" x2="424.70" y2="104.10" stroke="#00ff00" stroke-width="1"/>
<line x1="421.50" y1="107.10" x2="424.70" y2="107.10" stroke="#00ff00" stroke-width="1"/>
<line x1="427.40" y1="100.00" x2="427.40" y2="103.00" stroke="#00ff00" stroke-width="1"/>
<line x1="425.80" y1="100.00" x2="429.00" y2="100.00" stroke="#00ff00" stroke-width="1"/>
<line x1="425.80" y1="103.00" x2="429.00" y2="103.00" stroke="#00ff00" stroke-width="1"/>
<line x1="430.70" y1="96.40" x2="430.70" y2="99.40" stroke="#00ff00" stroke-width="1"/>
<line x1="429.10" y1="96.40" x2="432.30" y2="96.40" stroke="#00ff00" stroke-width="1"/>
<line x1="429.10" y1="99.40" x2="432.30" y2="99.40" stroke="#00ff00" stroke-width="1"/>
<line x1="436.80" y1="92.60" x2="436.80" y2="95.60" stroke="#00ff00" stroke-width="1"/>
<line x1="435.20" y1="92.60" x2="438.40" y2="92.60" stroke="#00ff00" stroke-width="1"/>
<line x1="435.20" y1="95.60" x2="438.40" y2="95.60" stroke="#00ff00" stroke-width="1"/>
<line x1="442.10" y1="89.10" x2="442.10" y2="92.10" stroke="#00ff00" stroke-width="1"/>
<line x1="440.50" y1="89.10" x2="443.70" y2="89.10" stroke="#00ff00" stroke-width="1"/>
<line x1="440.50" y1="92.10" x2="443.70" y2="92.10" stroke="#00ff00" stroke-width="1"/>
<line x1="446.60" y1="83.40" x2="446.60" y2="86.40" stroke="#00ff00" stroke-width="1"/>
<line x1="445.00" y1="83.40" x2="448.20" y2="83.40" stroke="#00ff00" stroke-width="1"/>
<line x1="445.00" y1="86.40" x2="448.20" y2="86.40" stroke="#00ff00" stroke-width="1"/>
<line x1="451.00" y1="79.90" x2="451.00" y2="82.90" stroke="#00ff00" stroke-width="1"/>
<line x1="449.40" y1="79.90" x2="452.60" y2="79.90" stroke="#00ff00" stroke-width="1"/>
<line x1="449.40" y1="82.90" x2="452.60" y2="82.90" stroke="#00ff00" stroke-width="1"/>
<line x1="453.70" y1="78.60" x2="453.70" y2="81.60" stroke="#00ff00" stroke-width="1"/>
<line x1="452.10" y1="78.60" x2="455.30" y2="78.60" stroke="#00ff00" stroke-width="1"/>
<line x1="452.10" y1="81.60" x2="455.30" y2="81.60" stroke="#00ff00" stroke-width="1"/>
<line x1="457.20" y1="77.90" x2="457.20" y2="80.90" stroke="#00ff00" stroke-width="1"/>
<line x1="455.60" y1="77.90" x2="458.80" y2="77.90" stroke="#00ff00" stroke-width="1"/>
<line x1="455.60" y1="80.90" x2="458.80" y2="80.90" stroke="#00ff00" stroke-width="1"/>
<line x1="460.60" y1="77.20" x2="460.60" y2="80.20" stroke="#00ff00" stroke-width="1"/>
<line x1="459.00" y1="77.20" x2="462.20" y2="77.20" stroke="#00ff00" stroke-width="1"/>
<line x1="459.00" y1="80.20" x2="462.20" y2="80.20" stroke="#00ff00" stroke-width="1"/>
<line x1="464.10" y1="73.10" x2="464.10" y2="76.10" stroke="#00ff00" stroke-width="1"/>
<line x1="462.50" y1="73.10" x2="465.70" y2="73.10" stroke="#00ff00" stroke-width="1"/>
<line x1="462.50" y1="76.10" x2="465.70" y2="76.10" stroke="#00ff00" stroke-width="1"/>
<line x1="467.50" y1="70.30" x2="467.50" y2="73.30" stroke="#00ff00" stroke-width="1"/>
<line x1="465.90" y1="70.30" x2="469.10" y2="70.30" stroke="#00ff00" stroke-width="1"/>
<line x1="465.90" y1="73.30" x2="469.10" y2="73.30" stroke="#00ff00" stroke-width="1"/>
<line x1="470.90" y1="66.20" x2="470.90" y2="69.20" stroke="#00ff00" stroke-width="1"/>
<line x1="469.30" y1="66.20" x2="472.50" y2="66.20" stroke="#00ff00" stroke-width="1"/>
<line x1="469.30" y1="69.20" x2="472.50" y2="69.20" stroke="#00ff00" stroke-width="1"/>
<line x1="473.00" y1="63.40" x2="473.00" y2="66.40" stroke="#00ff00" stroke-width="1"/>
<line x1="471.40" y1="63.40" x2="474.60" y2="63.40" stroke="#00ff00" stroke-width="1"/>
<line x1="471.40" y1="66.40" x2="474.60" y2="66.40" stroke="#00ff00" stroke-width="1"/>
<line x1="475.00" y1="62.70" x2="475.00" y2="65.70" stroke="#00ff00" stroke-width="1"/>
<line x1="473.40" y1="62.70" x2="476.60" y2="62.70" stroke="#00ff00" stroke-width="1"/>
<line x1="473.40" y1="65.70" x2="476.60" y2="65.70" stroke="#00ff00" stroke-width="1"/>
<line x1="477.10" y1="64.10" x2="477.10" y2="67.10" stroke="#00ff00" stroke-width="1"/>
<line x1="475.50" y1="64.10" x2="478.70" y2="64.10" stroke="#00ff00" stroke-width="1"/>
<line x1="475.50" y1="67.10" x2="478.70" y2="67.10" stroke="#00ff00" stroke-width="1"/>
<line x1="483.50" y1="46.00" x2="483.50" y2="55.00" stroke="#00ff00" stroke-width="1"/>
<line x1="481.90" y1="46.00" x2="485.10" y2="46.00" stroke="#00ff00" stroke-width="1"/>
<line x1="481.90" y1="55.00" x2="485.10" y2="55.00" stroke="#00ff00" stroke-width="1"/>
<line x1="490.90" y1="26.00" x2="490.90" y2="38.00" stroke="#00ff00" stroke-width="1"/>
<line x1="489.30" y1="26.00" x2="492.50" y2="26.00" stroke="#00ff00" stroke-width="1"/>
<line x1="489.30" y1="38.00" x2="492.50" y2="38.00" stroke="#00ff00" stroke-width="1"/>
<line x1="497.70" y1="32.00" x2="497.70" y2="40.00" stroke="#00ff00" stroke-width="1"/>
<line x1="496.10" y1="32.00" x2="499.30" y2="32.00" stroke="#00ff00" stroke-width="1"/>
<line x1="496.10" y1="40.00" x2="499.30" y2="40.00" stroke="#00ff00" stroke-width="1"/>
<line x1="500.40" y1="25.50" x2="500.40" y2="33.50" stroke="#00ff00" stroke-width="1"/>
<line x1="498.80" y1="25.50" x2="502.00" y2="25.50" stroke="#00ff00" stroke-width="1"/>
<line x1="498.80" y1="33.50" x2="502.00" y2="33.50" stroke="#00ff00" stroke-width="1"/>
<line x1="442.20" y1="47.00" x2="442.20" y2="50.00" stroke="#ff0000" stroke-width="1"/>
<line x1="440.60" y1="47.00" x2="443.80" y2="47.00" stroke="#ff0000" stroke-width="1"/>
<line x1="440.60" y1="50.00" x2="443.80" y2="50.00" stroke="#ff0000" stroke-width="1"/>
<line x1="446.90" y1="43.50" x2="446.90" y2="47.50" stroke="#ff0000" stroke-width="1"/>
<line x1="445.30" y1="43.50" x2="448.50" y2="43.50" stroke="#ff0000" stroke-width="1"/>
<line x1="445.30" y1="47.50" x2="448.50" y2="47.50" stroke="#ff0000" stroke-width="1"/>
<line x1="451.00" y1="36.60" x2="451.00" y2="40.60" stroke="#ff0000" stroke-width="1"/>
<line x1="449.40" y1="36.60" x2="452.60" y2="36.60" stroke="#ff0000" stroke-width="1"/>
<line x1="449.40" y1="40.60" x2="452.60" y2="40.60" stroke="#ff0000" stroke-width="1"/>
<line x1="453.70" y1="36.60" x2="453.70" y2="40.60" stroke="#ff0000" stroke-width="1"/>
<line x1="452.10" y1="36.60" x2="455.30" y2="36.60" stroke="#ff0000" stroke-width="1"/>
<line x1="452.10" y1="40.60" x2="455.30" y2="40.60" stroke="#ff0000" stroke-width="1"/>
<line x1="457.20" y1="33.80" x2="457.20" y2="37.80" stroke="#ff0000" stroke-width="1"/>
<line x1="455.60" y1="33.80" x2="458.80" y2="33.80" stroke="#ff0000" stroke-width="1"/>
<line x1="455.60" y1="37.80" x2="458.80" y2="37.80" stroke="#ff0000" stroke-width="1"/>
<line x1="461.30" y1="30.00" x2="461.30" y2="34.00" stroke="#ff0000" stroke-width="1"/>
<line x1="459.70" y1="30.00" x2="462.90" y2="30.00" stroke="#ff0000" stroke-width="1"/>
<line x1="459.70" y1="34.00" x2="462.90" y2="34.00" stroke="#ff0000" stroke-width="1"/>
<line x1="464.10" y1="29.70" x2="464.10" y2="33.70" stroke="#ff0000" stroke-width="1"/>
<line x1="462.50" y1="29.70" x2="465.70" y2="29.70" stroke="#ff0000" stroke-width="1"/>
<line x1="462.50" y1="33.70" x2="465.70" y2="33.70" stroke="#ff0000" stroke-width="1"/>
<line x1="466.80" y1="28.90" x2="466.80" y2="32.90" stroke="#ff0000" stroke-width="1"/>
<line x1="465.20" y1="28.90" x2="468.40" y2="28.90" stroke="#ff0000" stroke-width="1"/>
<line x1="465.20" y1="32.90" x2="468.40" y2="32.90" stroke="#ff0000" stroke-width="1"/>
<line x1="469.60" y1="28.30" x2="469.60" y2="32.30" stroke="#ff0000" stroke-width="1"/>
<line x1="468.00" y1="28.30" x2="471.20" y2="28.30" stroke="#ff0000" stroke-width="1"/>
<line x1="468.00" y1="32.30" x2="471.20" y2="32.30" stroke="#ff0000" stroke-width="1"/>
<line x1="472.30" y1="29.30" x2="472.30" y2="33.30" stroke="#ff0000" stroke-width="1"/>
<line x1="470.70" y1="29.30" x2="473.90" y2="29.30" stroke="#ff0000" stroke-width="1"/>
<line x1="470.70" y1="33.30" x2="473.90" y2="33.30" stroke="#ff0000" stroke-width="1"/>
<line x1="475.00" y1="27.20" x2="475.00" y2="31.20" stroke="#ff0000" stroke-width="1"/>
<line x1="473.40" y1="27.20" x2="476.60" y2="27.20" stroke="#ff0000" stroke-width="1"/>
<line x1="473.40" y1="31.20" x2="476.60" y2="31.20" stroke="#ff0000" stroke-width="1"/>
<line x1="477.40" y1="25.90" x2="477.40" y2="29.90" stroke="#ff0000" stroke-width="1"/>
<line x1="475.80" y1="25.90" x2="479.00" y2="25.90" stroke="#ff0000" stroke-width="1"/>
<line x1="475.80" y1="29.90" x2="479.00" y2="29.90" stroke="#ff0000" stroke-width="1"/>
<line x1="483.30" y1="18.30" x2="483.30" y2="31.30" stroke="#ff0000" stroke-width="1"/>
<line x1="481.70" y1="18.30" x2="484.90" y2="18.30" stroke="#ff0000" stroke-width="1"/>
<line x1="481.70" y1="31.30" x2="484.90" y2="31.30" stroke="#ff0000" stroke-width="1"/>
<line x1="490.90" y1="20.20" x2="490.90" y2="34.20" stroke="#ff0000" stroke-width="1"/>
<line x1="489.30" y1="20.20" x2="492.50" y2="20.20" stroke="#ff0000" stroke-width="1"/>
<line x1="489.30" y1="34.20" x2="492.50" y2="34.20" stroke="#ff0000" stroke-width="1"/>
<line x1="497.00" y1="26.70" x2="497.00" y2="42.70" stroke="#ff0000" stroke-width="1"/>
<line x1="495.40" y1="26.70" x2="498.60" y2="26.70" stroke="#ff0000" stroke-width="1"/>
<line x1="495.40" y1="42.70" x2="498.60" y2="42.70" stroke="#ff0000" stroke-width="1"/>
<line x1="500.40" y1="22.50" x2="500.40" y2="42.50" stroke="#ff0000" stroke-width="1"/>
<line x1="498.80" y1="22.50" x2="502.00" y2="22.50" stroke="#ff0000" stroke-width="1"/>
<line x1="498.80" y1="42.50" x2="502.00" y2="42.50" stroke="#ff0000" stroke-width="1"/>
<circle cx="299.80" cy="107.40" r="1.75" fill="#000"/>
<circle cx="315.60" cy="121.70" r="1.75" fill="#000"/>
<circle cx="323.00" cy="119.40" r="1.75" fill="#000"/>
<circle cx="336.50" cy="113.10" r="1.75" fill="#000"/>
<circle cx="346.10" cy="106.50" r="1.75" fill="#000"/>
<circle cx="353.90" cy="103.60" r="1.75" fill="#000"/>
<circle cx="359.80" cy="101.20" r="1.75" fill="#000"/>
<circle cx="364.90" cy="99.80" r="1.75" fill="#000"/>
<circle cx="372.90" cy="100.20" r="1.75" fill="#000"/>
<circle cx="379.80" cy="98.50" r="1.75" fill="#000"/>
<circle cx="385.50" cy="95.50" r="1.75" fill="#000"/>
<circle cx="390.50" cy="92.90" r="1.75" fill="#000"/>
<circle cx="394.40" cy="92.30" r="1.75" fill="#000"/>
<circle cx="400.10" cy="91.90" r="1.75" fill="#000"/>
<circle cx="407.60" cy="95.20" r="1.75" fill="#000"/>
<circle cx="413.70" cy="97.20" r="1.75" fill="#000"/>
<circle cx="418.60" cy="97.90" r="1.75" fill="#000"/>
<circle cx="423.10" cy="96.50" r="1.75" fill="#000"/>
<circle cx="427.40" cy="94.30" r="1.75" fill="#000"/>
<circle cx="430.70" cy="94.30" r="1.75" fill="#000"/>
<circle cx="436.80" cy="91.10" r="1.75" fill="#000"/>
<circle cx="442.20" cy="85.00" r="1.75" fill="#000"/>
<circle cx="446.60" cy="81.40" r="1.75" fill="#000"/>
<circle cx="451.00" cy="78.00" r="1.75" fill="#000"/>
<circle cx="453.70" cy="76.30" r="1.75" fill="#000"/>
<circle cx="457.20" cy="74.60" r="1.75" fill="#000"/>
<circle cx="460.60" cy="72.50" r="1.75" fill="#000"/>
<circle cx="464.10" cy="70.40" r="1.75" fill="#000"/>
<circle cx="467.50" cy="68.10" r="1.75" fill="#000"/>
<circle cx="470.90" cy="66.30" r="1.75" fill="#000"/>
<circle cx="474.40" cy="64.20" r="1.75" fill="#000"/>
<circle cx="477.10" cy="63.60" r="1.75" fill="#000"/>
<circle cx="483.70" cy="65.30" r="1.75" fill="#000"/>
<circle cx="490.90" cy="58.10" r="1.75" fill="#000"/>
<circle cx="497.00" cy="46.60" r="1.75" fill="#000"/>
<circle cx="500.40" cy="44.80" r="1.75" fill="#000"/>
<rect x="297.90" y="131.40" width="3.80" height="3.80" fill="#00ff00"/>
<rect x="313.70" y="131.10" width="3.80" height="3.80" fill="#00ff00"/>
<rect x="321.10" y="133.50" width="3.80" height="3.80" fill="#00ff00"/>
<rect x="334.60" y="130.20" width="3.80" height="3.80" fill="#00ff00"/>
<rect x="344.20" y="132.40" width="3.80" height="3.80" fill="#00ff00"/>
<rect x="352.00" y="131.10" width="3.80" height="3.80" fill="#00ff00"/>
<rect x="357.90" y="129.10" width="3.80" height="3.80" fill="#00ff00"/>
<rect x="363.00" y="127.70" width="3.80" height="3.80" fill="#00ff00"/>
<rect x="371.00" y="126.40" width="3.80" height="3.80" fill="#00ff00"/>
<rect x="377.90" y="126.80" width="3.80" height="3.80" fill="#00ff00"/>
<rect x="383.60" y="122.80" width="3.80" height="3.80" fill="#00ff00"/>
<rect x="388.60" y="123.70" width="3.80" height="3.80" fill="#00ff00"/>
<rect x="392.50" y="122.60" width="3.80" height="3.80" fill="#00ff00"/>
<rect x="398.20" y="120.70" width="3.80" height="3.80" fill="#00ff00"/>
<rect x="405.70" y="116.10" width="3.80" height="3.80" fill="#00ff00"/>
<rect x="411.80" y="112.50" width="3.80" height="3.80" fill="#00ff00"/>
<rect x="416.70" y="107.50" width="3.80" height="3.80" fill="#00ff00"/>
<rect x="421.20" y="103.70" width="3.80" height="3.80" fill="#00ff00"/>
<rect x="425.50" y="99.60" width="3.80" height="3.80" fill="#00ff00"/>
<rect x="428.80" y="96.00" width="3.80" height="3.80" fill="#00ff00"/>
<rect x="434.90" y="92.20" width="3.80" height="3.80" fill="#00ff00"/>
<rect x="440.20" y="88.70" width="3.80" height="3.80" fill="#00ff00"/>
<rect x="444.70" y="83.00" width="3.80" height="3.80" fill="#00ff00"/>
<rect x="449.10" y="79.50" width="3.80" height="3.80" fill="#00ff00"/>
<rect x="451.80" y="78.20" width="3.80" height="3.80" fill="#00ff00"/>
<rect x="455.30" y="77.50" width="3.80" height="3.80" fill="#00ff00"/>
<rect x="458.70" y="76.80" width="3.80" height="3.80" fill="#00ff00"/>
<rect x="462.20" y="72.70" width="3.80" height="3.80" fill="#00ff00"/>
<rect x="465.60" y="69.90" width="3.80" height="3.80" fill="#00ff00"/>
<rect x="469.00" y="65.80" width="3.80" height="3.80" fill="#00ff00"/>
<rect x="471.10" y="63.00" width="3.80" height="3.80" fill="#00ff00"/>
<rect x="473.10" y="62.30" width="3.80" height="3.80" fill="#00ff00"/>
<rect x="475.20" y="63.70" width="3.80" height="3.80" fill="#00ff00"/>
<rect x="481.60" y="48.60" width="3.80" height="3.80" fill="#00ff00"/>
<rect x="489.00" y="30.10" width="3.80" height="3.80" fill="#00ff00"/>
<rect x="495.80" y="34.10" width="3.80" height="3.80" fill="#00ff00"/>
<rect x="498.50" y="27.60" width="3.80" height="3.80" fill="#00ff00"/>
<path d="M297.40,70.10L302.20,70.10L299.80,65.27Z" fill="#ff0000"/>
<path d="M313.20,72.40L318.00,72.40L315.60,67.57Z" fill="#ff0000"/>
<path d="M320.60,69.30L325.40,69.30L323.00,64.47Z" fill="#ff0000"/>
<path d="M334.10,70.90L338.90,70.90L336.50,66.07Z" fill="#ff0000"/>
<path d="M343.70,70.10L348.50,70.10L346.10,65.27Z" fill="#ff0000"/>
<path d="M351.50,68.50L356.30,68.50L353.90,63.67Z" fill="#ff0000"/>
<path d="M357.30,70.10L362.10,70.10L359.70,65.27Z" fill="#ff0000"/>
<path d="M362.70,70.10L367.50,70.10L365.10,65.27Z" fill="#ff0000"/>
<path d="M371.20,68.40L376.00,68.40L373.60,63.57Z" fill="#ff0000"/>
<path d="M377.50,66.70L382.30,66.70L379.90,61.87Z" fill="#ff0000"/>
<path d="M383.20,64.60L388.00,64.60L385.60,59.77Z" fill="#ff0000"/>
<path d="M388.20,63.40L393.00,63.40L390.60,58.57Z" fill="#ff0000"/>
<path d="M392.30,62.90L397.10,62.90L394.70,58.07Z" fill="#ff0000"/>
<path d="M397.70,61.60L402.50,61.60L400.10,56.77Z" fill="#ff0000"/>
<path d="M405.20,61.60L410.00,61.60L407.60,56.77Z" fill="#ff0000"/>
<path d="M411.30,64.10L416.10,64.10L413.70,59.27Z" fill="#ff0000"/>
<path d="M416.20,63.40L421.00,63.40L418.60,58.57Z" fill="#ff0000"/>
<path d="M420.70,59.30L425.50,59.30L423.10,54.47Z" fill="#ff0000"/>
<path d="M425.00,60.10L429.80,60.10L427.40,55.27Z" fill="#ff0000"/>
<path d="M428.30,60.80L433.10,60.80L430.70,55.97Z" fill="#ff0000"/>
<path d="M434.40,57.20L439.20,57.20L436.80,52.37Z" fill="#ff0000"/>
<path d="M439.80,50.80L444.60,50.80L442.20,45.97Z" fill="#ff0000"/>
<path d="M444.50,47.80L449.30,47.80L446.90,42.97Z" fill="#ff0000"/>
<path d="M448.60,40.90L453.40,40.90L451.00,36.07Z" fill="#ff0000"/>
<path d="M451.30,40.90L456.10,40.90L453.70,36.07Z" fill="#ff0000"/>
<path d="M454.80,38.10L459.60,38.10L457.20,33.27Z" fill="#ff0000"/>
<path d="M458.90,34.30L463.70,34.30L461.30,29.47Z" fill="#ff0000"/>
<path d="M461.70,34.00L466.50,34.00L464.10,29.17Z" fill="#ff0000"/>
<path d="M464.40,33.20L469.20,33.20L466.80,28.37Z" fill="#ff0000"/>
<path d="M467.20,32.60L472.00,32.60L469.60,27.77Z" fill="#ff0000"/>
<path d="M469.90,33.60L474.70,33.60L472.30,28.77Z" fill="#ff0000"/>
<path d="M472.60,31.50L477.40,31.50L475.00,26.67Z" fill="#ff0000"/>
<path d="M475.00,30.20L479.80,30.20L477.40,25.37Z" fill="#ff0000"/>
<path d="M480.90,27.10L485.70,27.10L483.30,22.27Z" fill="#ff0000"/>
<path d="M488.50,29.50L493.30,29.50L490.90,24.67Z" fill="#ff0000"/>
<path d="M494.60,37.00L499.40,37.00L497.00,32.17Z" fill="#ff0000"/>
<path d="M498.00,34.80L502.80,34.80L500.40,29.97Z" fill="#ff0000"/>
<rect x="292.50" y="5.50" width="208.20" height="149.00" fill="none" stroke="#000" stroke-width="1"/>
<line x1="300.34" y1="154.50" x2="300.34" y2="152.50" stroke="#000" stroke-width="1"/>
<line x1="300.34" y1="5.50" x2="300.34" y2="7.50" stroke="#000" stroke-width="1"/>
<line x1="306.43" y1="154.50" x2="306.43" y2="152.50" stroke="#000" stroke-width="1"/>
<line x1="306.43" y1="5.50" x2="306.43" y2="7.50" stroke="#000" stroke-width="1"/>
<line x1="311.58" y1="154.50" x2="311.58" y2="152.50" stroke="#000" stroke-width="1"/>
<line x1="311.58" y1="5.50" x2="311.58" y2="7.50" stroke="#000" stroke-width="1"/>
<line x1="316.04" y1="154.50" x2="316.04" y2="152.50" stroke="#000" stroke-width="1"/>
<line x1="316.04" y1="5.50" x2="316.04" y2="7.50" stroke="#000" stroke-width="1"/>
<line x1="319.98" y1="154.50" x2="319.98" y2="152.50" stroke="#000" stroke-width="1"/>
<line x1="319.98" y1="5.50" x2="319.98" y2="7.50" stroke="#000" stroke-width="1"/>
<line x1="323.50" y1="154.50" x2="323.50" y2="151.00" stroke="#000" stroke-width="1"/>
<line x1="323.50" y1="5.50" x2="323.50" y2="9.00" stroke="#000" stroke-width="1"/>
<line x1="346.66" y1="154.50" x2="346.66" y2="152.50" stroke="#000" stroke-width="1"/>
<line x1="346.66" y1="5.50" x2="346.66" y2="7.50" stroke="#000" stroke-width="1"/>
<line x1="360.21" y1="154.50" x2="360.21" y2="152.50" stroke="#000" stroke-width="1"/>
<line x1="360.21" y1="5.50" x2="360.21" y2="7.50" stroke="#000" stroke-width="1"/>
<line x1="369.83" y1="154.50" x2="369.83" y2="152.50" stroke="#000" stroke-width="1"/>
<line x1="369.83" y1="5.50" x2="369.83" y2="7.50" stroke="#000" stroke-width="1"/>
<line x1="377.29" y1="154.50" x2="377.29" y2="152.50" stroke="#000" stroke-width="1"/>
<line x1="377.29" y1="5.50" x2="377.29" y2="7.50" stroke="#000" stroke-width="1"/>
<line x1="383.38" y1="154.50" x2="383.38" y2="152.50" stroke="#000" stroke-width="1"/>
<line x1="383.38" y1="5.50" x2="383.38" y2="7.50" stroke="#000" stroke-width="1"/>
<line x1="388.53" y1="154.50" x2="388.53" y2="152.50" stroke="#000" stroke-width="1"/>
<line x1="388.53" y1="5.50" x2="388.53" y2="7.50" stroke="#000" stroke-width="1"/>
<line x1="392.99" y1="154.50" x2="392.99" y2="152.50" stroke="#000" stroke-width="1"/>
<line x1="392.99" y1="5.50" x2="392.99" y2="7.50" stroke="#000" stroke-width="1"/>
<line x1="396.93" y1="154.50" x2="396.93" y2="152.50" stroke="#000" stroke-width="1"/>
<line x1="396.93" y1="5.50" x2="396.93" y2="7.50" stroke="#000" stroke-width="1"/>
<line x1="400.45" y1="154.50" x2="400.45" y2="151.00" stroke="#000" stroke-width="1"/>
<line x1="400.45" y1="5.50" x2="400.45" y2="9.00" stroke="#000" stroke-width="1"/>
<line x1="423.61" y1="154.50" x2="423.61" y2="152.50" stroke="#000" stroke-width="1"/>
<line x1="423.61" y1="5.50" x2="423.61" y2="7.50" stroke="#000" stroke-width="1"/>
<line x1="437.16" y1="154.50" x2="437.16" y2="152.50" stroke="#000" stroke-width="1"/>
<line x1="437.16" y1="5.50" x2="437.16" y2="7.50" stroke="#000" stroke-width="1"/>
<line x1="446.78" y1="154.50" x2="446.78" y2="152.50" stroke="#000" stroke-width="1"/>
<line x1="446.78" y1="5.50" x2="446.78" y2="7.50" stroke="#000" stroke-width="1"/>
<line x1="454.24" y1="154.50" x2="454.24" y2="152.50" stroke="#000" stroke-width="1"/>
<line x1="454.24" y1="5.50" x2="454.24" y2="7.50" stroke="#000" stroke-width="1"/>
<line x1="460.33" y1="154.50" x2="460.33" y2="152.50" stroke="#000" stroke-width="1"/>
<line x1="460.33" y1="5.50" x2="460.33" y2="7.50" stroke="#000" stroke-width="1"/>
<line x1="465.48" y1="154.50" x2="465.48" y2="152.50" stroke="#000" stroke-width="1"/>
<line x1="465.48" y1="5.50" x2="465.48" y2="7.50" stroke="#000" stroke-width="1"/>
<line x1="469.94" y1="154.50" x2="469.94" y2="152.50" stroke="#000" stroke-width="1"/>
<line x1="469.94" y1="5.50" x2="469.94" y2="7.50" stroke="#000" stroke-width="1"/>
<line x1="473.88" y1="154.50" x2="473.88" y2="152.50" stroke="#000" stroke-width="1"/>
<line x1="473.88" y1="5.50" x2="473.88" y2="7.50" stroke="#000" stroke-width="1"/>
<line x1="477.40" y1="154.50" x2="477.40" y2="151.00" stroke="#000" stroke-width="1"/>
<line x1="477.40" y1="5.50" x2="477.40" y2="9.00" stroke="#000" stroke-width="1"/>
<line x1="292.50" y1="5.50" x2="296.00" y2="5.50" stroke="#000" stroke-width="1"/>
<line x1="500.70" y1="5.50" x2="497.20" y2="5.50" stroke="#000" stroke-width="1"/>
<line x1="292.50" y1="35.30" x2="296.00" y2="35.30" stroke="#000" stroke-width="1"/>
<line x1="500.70" y1="35.30" x2="497.20" y2="35.30" stroke="#000" stroke-width="1"/>
<line x1="292.50" y1="65.10" x2="296.00" y2="65.10" stroke="#000" stroke-width="1"/>
<line x1="500.70" y1="65.10" x2="497.20" y2="65.10" stroke="#000" stroke-width="1"/>
<line x1="292.50" y1="94.90" x2="296.00" y2="94.90" stroke="#000" stroke-width="1"/>
<line x1="500.70" y1="94.90" x2="497.20" y2="94.90" stroke="#000" stroke-width="1"/>
<line x1="292.50" y1="124.70" x2="296.00" y2="124.70" stroke="#000" stroke-width="1"/>
<line x1="500.70" y1="124.70" x2="497.20" y2="124.70" stroke="#000" stroke-width="1"/>
<line x1="292.50" y1="154.50" x2="296.00" y2="154.50" stroke="#000" stroke-width="1"/>
<line x1="500.70" y1="154.50" x2="497.20" y2="154.50" stroke="#000" stroke-width="1"/>
<circle cx="308.90" cy="20.80" r="3.5" fill="#000"/>
<rect x="305.50" y="27.70" width="6.8" height="6.8" fill="#00ff00"/>
<path d="M304.20,45.00L313.60,45.00L308.90,36.60Z" fill="#ff0000"/>
<line x1="557.40" y1="42.00" x2="557.40" y2="60.00" stroke="#000" stroke-width="1"/>
<line x1="555.80" y1="42.00" x2="559.00" y2="42.00" stroke="#000" stroke-width="1"/>
<line x1="555.80" y1="60.00" x2="559.00" y2="60.00" stroke="#000" stroke-width="1"/>
<line x1="573.60" y1="30.90" x2="573.60" y2="33.90" stroke="#000" stroke-width="1"/>
<line x1="572.00" y1="30.90" x2="575.20" y2="30.90" stroke="#000" stroke-width="1"/>
<line x1="572.00" y1="33.90" x2="575.20" y2="33.90" stroke="#000" stroke-width="1"/>
<line x1="581.00" y1="33.70" x2="581.00" y2="36.70" stroke="#000" stroke-width="1"/>
<line x1="579.40" y1="33.70" x2="582.60" y2="33.70" stroke="#000" stroke-width="1"/>
<line x1="579.40" y1="36.70" x2="582.60" y2="36.70" stroke="#000" stroke-width="1"/>
<line x1="594.50" y1="36.30" x2="594.50" y2="39.30" stroke="#000" stroke-width="1"/>
<line x1="592.90" y1="36.30" x2="596.10" y2="36.30" stroke="#000" stroke-width="1"/>
<line x1="592.90" y1="39.30" x2="596.10" y2="39.30" stroke="#000" stroke-width="1"/>
<line x1="604.10" y1="40.60" x2="604.10" y2="43.00" stroke="#000" stroke-width="1"/>
<line x1="602.50" y1="40.60" x2="605.70" y2="40.60" stroke="#000" stroke-width="1"/>
<line x1="602.50" y1="43.00" x2="605.70" y2="43.00" stroke="#000" stroke-width="1"/>
<line x1="611.90" y1="41.60" x2="611.90" y2="44.00" stroke="#000" stroke-width="1"/>
<line x1="610.30" y1="41.60" x2="613.50" y2="41.60" stroke="#000" stroke-width="1"/>
<line x1="610.30" y1="44.00" x2="613.50" y2="44.00" stroke="#000" stroke-width="1"/>
<line x1="617.60" y1="44.40" x2="617.60" y2="46.80" stroke="#000" stroke-width="1"/>
<line x1="616.00" y1="44.40" x2="619.20" y2="44.40" stroke="#000" stroke-width="1"/>
<line x1="616.00" y1="46.80" x2="619.20" y2="46.80" stroke="#000" stroke-width="1"/>
<line x1="623.10" y1="44.50" x2="623.10" y2="46.90" stroke="#000" stroke-width="1"/>
<line x1="621.50" y1="44.50" x2="624.70" y2="44.50" stroke="#000" stroke-width="1"/>
<line x1="621.50" y1="46.90" x2="624.70" y2="46.90" stroke="#000" stroke-width="1"/>
<line x1="741.40" y1="124.90" x2="741.40" y2="134.90" stroke="#000" stroke-width="1"/>
<line x1="739.80" y1="124.90" x2="743.00" y2="124.90" stroke="#000" stroke-width="1"/>
<line x1="739.80" y1="134.90" x2="743.00" y2="134.90" stroke="#000" stroke-width="1"/>
<line x1="755.00" y1="120.00" x2="755.00" y2="126.00" stroke="#000" stroke-width="1"/>
<line x1="753.40" y1="120.00" x2="756.60" y2="120.00" stroke="#000" stroke-width="1"/>
<line x1="753.40" y1="126.00" x2="756.60" y2="126.00" stroke="#000" stroke-width="1"/>
<line x1="557.40" y1="39.70" x2="557.40" y2="83.70" stroke="#00ff00" stroke-width="1"/>
<line x1="555.80" y1="39.70" x2="559.00" y2="39.70" stroke="#00ff00" stroke-width="1"/>
<line x1="555.80" y1="83.70" x2="559.00" y2="83.70" stroke="#00ff00" stroke-width="1"/>
<line x1="581.00" y1="46.00" x2="581.00" y2="56.00" stroke="#00ff00" stroke-width="1"/>
<line x1="579.40" y1="46.00" x2="582.60" y2="46.00" stroke="#00ff00" stroke-width="1"/>
<line x1="579.40" y1="56.00" x2="582.60" y2="56.00" stroke="#00ff00" stroke-width="1"/>
<line x1="594.50" y1="38.10" x2="594.50" y2="44.10" stroke="#00ff00" stroke-width="1"/>
<line x1="592.90" y1="38.10" x2="596.10" y2="38.10" stroke="#00ff00" stroke-width="1"/>
<line x1="592.90" y1="44.10" x2="596.10" y2="44.10" stroke="#00ff00" stroke-width="1"/>
<line x1="748.20" y1="113.20" x2="748.20" y2="119.20" stroke="#00ff00" stroke-width="1"/>
<line x1="746.60" y1="113.20" x2="749.80" y2="113.20" stroke="#00ff00" stroke-width="1"/>
<line x1="746.60" y1="119.20" x2="749.80" y2="119.20" stroke="#00ff00" stroke-width="1"/>
<line x1="755.00" y1="108.20" x2="755.00" y2="116.20" stroke="#00ff00" stroke-width="1"/>
<line x1="753.40" y1="108.20" x2="756.60" y2="108.20" stroke="#00ff00" stroke-width="1"/>
<line x1="753.40" y1="116.20" x2="756.60" y2="116.20" stroke="#00ff00" stroke-width="1"/>
<line x1="758.80" y1="121.00" x2="758.80" y2="129.00" stroke="#00ff00" stroke-width="1"/>
<line x1="757.20" y1="121.00" x2="760.40" y2="121.00" stroke="#00ff00" stroke-width="1"/>
<line x1="757.20" y1="129.00" x2="760.40" y2="129.00" stroke="#00ff00" stroke-width="1"/>
<line x1="557.40" y1="40.90" x2="557.40" y2="46.90" stroke="#ff0000" stroke-width="1"/>
<line x1="555.80" y1="40.90" x2="559.00" y2="40.90" stroke="#ff0000" stroke-width="1"/>
<line x1="555.80" y1="46.90" x2="559.00" y2="46.90" stroke="#ff0000" stroke-width="1"/>
<line x1="748.20" y1="116.40" x2="748.20" y2="124.40" stroke="#ff0000" stroke-width="1"/>
<line x1="746.60" y1="116.40" x2="749.80" y2="116.40" stroke="#ff0000" stroke-width="1"/>
<line x1="746.60" y1="124.40" x2="749.80" y2="124.40" stroke="#ff0000" stroke-width="1"/>
<line x1="755.00" y1="126.30" x2="755.00" y2="148.30" stroke="#ff0000" stroke-width="1"/>
<line x1="753.40" y1="126.30" x2="756.60" y2="126.30" stroke="#ff0000" stroke-width="1"/>
<line x1="753.40" y1="148.30" x2="756.60" y2="148.30" stroke="#ff0000" stroke-width="1"/>
<line x1="758.80" y1="121.00" x2="758.80" y2="145.00" stroke="#ff0000" stroke-width="1"/>
<line x1="757.20" y1="121.00" x2="760.40" y2="121.00" stroke="#ff0000" stroke-width="1"/>
<line x1="757.20" y1="145.00" x2="760.40" y2="145.00" stroke="#ff0000" stroke-width="1"/>
<circle cx="557.40" cy="51.00" r="1.75" fill="#000"/>
<circle cx="573.60" cy="32.40" r="1.75" fill="#000"/>
<circle cx="581.00" cy="35.20" r="1.75" fill="#000"/>
<circle cx="594.50" cy="37.80" r="1.75" fill="#000"/>
<circle cx="604.10" cy="41.80" r="1.75" fill="#000"/>
<circle cx="611.90" cy="42.80" r="1.75" fill="#000"/>
<circle cx="617.60" cy="45.60" r="1.75" fill="#000"/>
<circle cx="623.10" cy="45.70" r="1.75" fill="#000"/>
<circle cx="631.20" cy="51.20" r="1.75" fill="#000"/>
<circle cx="637.80" cy="52.00" r="1.75" fill="#000"/>
<circle cx="643.60" cy="52.40" r="1.75" fill="#000"/>
<circle cx="648.90" cy="56.50" r="1.75" fill="#000"/>
<circle cx="652.70" cy="59.50" r="1.75" fill="#000"/>
<circle cx="658.30" cy="61.90" r="1.75" fill="#000"/>
<circle cx="665.40" cy="65.10" r="1.75" fill="#000"/>
<circle cx="671.60" cy="69.40" r="1.75" fill="#000"/>
<circle cx="676.90" cy="74.10" r="1.75" fill="#000"/>
<circle cx="681.40" cy="77.10" r="1.75" fill="#000"/>
<circle cx="685.20" cy="80.90" r="1.75" fill="#000"/>
<circle cx="688.50" cy="83.70" r="1.75" fill="#000"/>
<circle cx="694.50" cy="91.20" r="1.75" fill="#000"/>
<circle cx="699.70" cy="95.80" r="1.75" fill="#000"/>
<circle cx="704.40" cy="99.50" r="1.75" fill="#000"/>
<circle cx="708.40" cy="103.60" r="1.75" fill="#000"/>
<circle cx="712.50" cy="107.40" r="1.75" fill="#000"/>
<circle cx="715.00" cy="108.50" r="1.75" fill="#000"/>
<circle cx="718.00" cy="111.50" r="1.75" fill="#000"/>
<circle cx="721.40" cy="113.80" r="1.75" fill="#000"/>
<circle cx="724.20" cy="116.00" r="1.75" fill="#000"/>
<circle cx="727.00" cy="118.00" r="1.75" fill="#000"/>
<circle cx="729.60" cy="120.40" r="1.75" fill="#000"/>
<circle cx="732.00" cy="122.50" r="1.75" fill="#000"/>
<circle cx="734.50" cy="124.00" r="1.75" fill="#000"/>
<circle cx="741.40" cy="129.90" r="1.75" fill="#000"/>
<circle cx="755.00" cy="123.00" r="1.75" fill="#000"/>
<rect x="555.50" y="49.80" width="3.80" height="3.80" fill="#00ff00"/>
<rect x="579.10" y="49.10" width="3.80" height="3.80" fill="#00ff00"/>
<rect x="592.60" y="39.20" width="3.80" height="3.80" fill="#00ff00"/>
<rect x="602.20" y="50.80" width="3.80" height="3.80" fill="#00ff00"/>
<rect x="610.00" y="50.80" width="3.80" height="3.80" fill="#00ff00"/>
<rect x="615.70" y="47.50" width="3.80" height="3.80" fill="#00ff00"/>
<rect x="621.20" y="52.30" width="3.80" height="3.80" fill="#00ff00"/>
<rect x="629.30" y="50.00" width="3.80" height="3.80" fill="#00ff00"/>
<rect x="635.90" y="53.40" width="3.80" height="3.80" fill="#00ff00"/>
<rect x="641.70" y="56.20" width="3.80" height="3.80" fill="#00ff00"/>
<rect x="647.00" y="57.60" width="3.80" height="3.80" fill="#00ff00"/>
<rect x="650.80" y="59.50" width="3.80" height="3.80" fill="#00ff00"/>
<rect x="656.40" y="67.50" width="3.80" height="3.80" fill="#00ff00"/>
<rect x="663.50" y="76.00" width="3.80" height="3.80" fill="#00ff00"/>
<rect x="669.70" y="81.80" width="3.80" height="3.80" fill="#00ff00"/>
<rect x="675.00" y="80.70" width="3.80" height="3.80" fill="#00ff00"/>
<rect x="679.50" y="80.70" width="3.80" height="3.80" fill="#00ff00"/>
<rect x="683.30" y="80.20" width="3.80" height="3.80" fill="#00ff00"/>
<rect x="686.60" y="81.00" width="3.80" height="3.80" fill="#00ff00"/>
<rect x="692.60" y="82.00" width="3.80" height="3.80" fill="#00ff00"/>
<rect x="697.90" y="84.40" width="3.80" height="3.80" fill="#00ff00"/>
<rect x="702.50" y="85.90" width="3.80" height="3.80" fill="#00ff00"/>
<rect x="706.50" y="86.20" width="3.80" height="3.80" fill="#00ff00"/>
<rect x="710.50" y="87.50" width="3.80" height="3.80" fill="#00ff00"/>
<rect x="713.10" y="92.30" width="3.80" height="3.80" fill="#00ff00"/>
<rect x="716.10" y="94.10" width="3.80" height="3.80" fill="#00ff00"/>
<rect x="719.10" y="98.00" width="3.80" height="3.80" fill="#00ff00"/>
<rect x="721.70" y="101.40" width="3.80" height="3.80" fill="#00ff00"/>
<rect x="724.10" y="104.40" width="3.80" height="3.80" fill="#00ff00"/>
<rect x="726.70" y="105.10" width="3.80" height="3.80" fill="#00ff00"/>
<rect x="728.90" y="104.40" width="3.80" height="3.80" fill="#00ff00"/>
<rect x="731.20" y="103.60" width="3.80" height="3.80" fill="#00ff00"/>
<rect x="733.20" y="107.70" width="3.80" height="3.80" fill="#00ff00"/>
<rect x="746.30" y="114.30" width="3.80" height="3.80" fill="#00ff00"/>
<rect x="753.10" y="110.30" width="3.80" height="3.80" fill="#00ff00"/>
<rect x="756.90" y="123.10" width="3.80" height="3.80" fill="#00ff00"/>
<path d="M555.00,46.20L559.80,46.20L557.40,41.37Z" fill="#ff0000"/>
<path d="M571.20,46.70L576.00,46.70L573.60,41.87Z" fill="#ff0000"/>
<path d="M578.60,47.90L583.40,47.90L581.00,43.07Z" fill="#ff0000"/>
<path d="M592.10,53.30L596.90,53.30L594.50,48.47Z" fill="#ff0000"/>
<path d="M601.70,54.00L606.50,54.00L604.10,49.17Z" fill="#ff0000"/>
<path d="M609.50,64.40L614.30,64.40L611.90,59.57Z" fill="#ff0000"/>
<path d="M615.20,62.20L620.00,62.20L617.60,57.37Z" fill="#ff0000"/>
<path d="M620.70,61.10L625.50,61.10L623.10,56.27Z" fill="#ff0000"/>
<path d="M628.80,69.00L633.60,69.00L631.20,64.17Z" fill="#ff0000"/>
<path d="M635.40,76.60L640.20,76.60L637.80,71.77Z" fill="#ff0000"/>
<path d="M641.20,76.10L646.00,76.10L643.60,71.27Z" fill="#ff0000"/>
<path d="M646.50,74.00L651.30,74.00L648.90,69.17Z" fill="#ff0000"/>
<path d="M650.30,78.90L655.10,78.90L652.70,74.07Z" fill="#ff0000"/>
<path d="M655.90,75.30L660.70,75.30L658.30,70.47Z" fill="#ff0000"/>
<path d="M663.00,78.90L667.80,78.90L665.40,74.07Z" fill="#ff0000"/>
<path d="M669.20,86.00L674.00,86.00L671.60,81.17Z" fill="#ff0000"/>
<path d="M674.50,86.00L679.30,86.00L676.90,81.17Z" fill="#ff0000"/>
<path d="M679.00,89.30L683.80,89.30L681.40,84.47Z" fill="#ff0000"/>
<path d="M682.80,93.10L687.60,93.10L685.20,88.27Z" fill="#ff0000"/>
<path d="M686.10,92.60L690.90,92.60L688.50,87.77Z" fill="#ff0000"/>
<path d="M692.10,103.70L696.90,103.70L694.50,98.87Z" fill="#ff0000"/>
<path d="M697.40,101.80L702.20,101.80L699.80,96.97Z" fill="#ff0000"/>
<path d="M702.00,103.30L706.80,103.30L704.40,98.47Z" fill="#ff0000"/>
<path d="M706.00,106.80L710.80,106.80L708.40,101.97Z" fill="#ff0000"/>
<path d="M710.00,114.00L714.80,114.00L712.40,109.17Z" fill="#ff0000"/>
<path d="M712.60,114.60L717.40,114.60L715.00,109.77Z" fill="#ff0000"/>
<path d="M715.60,109.30L720.40,109.30L718.00,104.47Z" fill="#ff0000"/>
<path d="M718.60,116.30L723.40,116.30L721.00,111.47Z" fill="#ff0000"/>
<path d="M721.20,118.10L726.00,118.10L723.60,113.27Z" fill="#ff0000"/>
<path d="M723.80,118.90L728.60,118.90L726.20,114.07Z" fill="#ff0000"/>
<path d="M726.20,119.60L731.00,119.60L728.60,114.77Z" fill="#ff0000"/>
<path d="M728.80,119.50L733.60,119.50L731.20,114.67Z" fill="#ff0000"/>
<path d="M732.20,121.00L737.00,121.00L734.60,116.17Z" fill="#ff0000"/>
<path d="M745.80,122.70L750.60,122.70L748.20,117.87Z" fill="#ff0000"/>
<path d="M752.60,138.60L757.40,138.60L755.00,133.77Z" fill="#ff0000"/>
<path d="M756.40,135.30L761.20,135.30L758.80,130.47Z" fill="#ff0000"/>
<rect x="550.40" y="5.50" width="208.00" height="149.00" fill="none" stroke="#000" stroke-width="1"/>
<line x1="558.24" y1="154.50" x2="558.24" y2="152.50" stroke="#000" stroke-width="1"/>
<line x1="558.24" y1="5.50" x2="558.24" y2="7.50" stroke="#000" stroke-width="1"/>
<line x1="564.33" y1="154.50" x2="564.33" y2="152.50" stroke="#000" stroke-width="1"/>
<line x1="564.33" y1="5.50" x2="564.33" y2="7.50" stroke="#000" stroke-width="1"/>
<line x1="569.48" y1="154.50" x2="569.48" y2="152.50" stroke="#000" stroke-width="1"/>
<line x1="569.48" y1="5.50" x2="569.48" y2="7.50" stroke="#000" stroke-width="1"/>
<line x1="573.94" y1="154.50" x2="573.94" y2="152.50" stroke="#000" stroke-width="1"/>
<line x1="573.94" y1="5.50" x2="573.94" y2="7.50" stroke="#000" stroke-width="1"/>
<line x1="577.88" y1="154.50" x2="577.88" y2="152.50" stroke="#000" stroke-width="1"/>
<line x1="577.88" y1="5.50" x2="577.88" y2="7.50" stroke="#000" stroke-width="1"/>
<line x1="581.40" y1="154.50" x2="581.40" y2="151.00" stroke="#000" stroke-width="1"/>
<line x1="581.40" y1="5.50" x2="581.40" y2="9.00" stroke="#000" stroke-width="1"/>
<line x1="604.56" y1="154.50" x2="604.56" y2="152.50" stroke="#000" stroke-width="1"/>
<line x1="604.56" y1="5.50" x2="604.56" y2="7.50" stroke="#000" stroke-width="1"/>
<line x1="618.11" y1="154.50" x2="618.11" y2="152.50" stroke="#000" stroke-width="1"/>
<line x1="618.11" y1="5.50" x2="618.11" y2="7.50" stroke="#000" stroke-width="1"/>
<line x1="627.73" y1="154.50" x2="627.73" y2="152.50" stroke="#000" stroke-width="1"/>
<line x1="627.73" y1="5.50" x2="627.73" y2="7.50" stroke="#000" stroke-width="1"/>
<line x1="635.19" y1="154.50" x2="635.19" y2="152.50" stroke="#000" stroke-width="1"/>
<line x1="635.19" y1="5.50" x2="635.19" y2="7.50" stroke="#000" stroke-width="1"/>
<line x1="641.28" y1="154.50" x2="641.28" y2="152.50" stroke="#000" stroke-width="1"/>
<line x1="641.28" y1="5.50" x2="641.28" y2="7.50" stroke="#000" stroke-width="1"/>
<line x1="646.43" y1="154.50" x2="646.43" y2="152.50" stroke="#000" stroke-width="1"/>
<line x1="646.43" y1="5.50" x2="646.43" y2="7.50" stroke="#000" stroke-width="1"/>
<line x1="650.89" y1="154.50" x2="650.89" y2="152.50" stroke="#000" stroke-width="1"/>
<line x1="650.89" y1="5.50" x2="650.89" y2="7.50" stroke="#000" stroke-width="1"/>
<line x1="654.83" y1="154.50" x2="654.83" y2="152.50" stroke="#000" stroke-width="1"/>
<line x1="654.83" y1="5.50" x2="654.83" y2="7.50" stroke="#000" stroke-width="1"/>
<line x1="658.35" y1="154.50" x2="658.35" y2="151.00" stroke="#000" stroke-width="1"/>
<line x1="658.35" y1="5.50" x2="658.35" y2="9.00" stroke="#000" stroke-width="1"/>
<line x1="681.51" y1="154.50" x2="681.51" y2="152.50" stroke="#000" stroke-width="1"/>
<line x1="681.51" y1="5.50" x2="681.51" y2="7.50" stroke="#000" stroke-width="1"/>
<line x1="695.06" y1="154.50" x2="695.06" y2="152.50" stroke="#000" stroke-width="1"/>
<line x1="695.06" y1="5.50" x2="695.06" y2="7.50" stroke="#000" stroke-width="1"/>
<line x1="704.68" y1="154.50" x2="704.68" y2="152.50" stroke="#000" stroke-width="1"/>
<line x1="704.68" y1="5.50" x2="704.68" y2="7.50" stroke="#000" stroke-width="1"/>
<line x1="712.14" y1="154.50" x2="712.14" y2="152.50" stroke="#000" stroke-width="1"/>
<line x1="712.14" y1="5.50" x2="712.14" y2="7.50" stroke="#000" stroke-width="1"/>
<line x1="718.23" y1="154.50" x2="718.23" y2="152.50" stroke="#000" stroke-width="1"/>
<line x1="718.23" y1="5.50" x2="718.23" y2="7.50" stroke="#000" stroke-width="1"/>
<line x1="723.38" y1="154.50" x2="723.38" y2="152.50" stroke="#000" stroke-width="1"/>
<line x1="723.38" y1="5.50" x2="723.38" y2="7.50" stroke="#000" stroke-width="1"/>
<line x1="727.84" y1="154.50" x2="727.84" y2="152.50" stroke="#000" stroke-width="1"/>
<line x1="727.84" y1="5.50" x2="727.84" y2="7.50" stroke="#000" stroke-width="1"/>
<line x1="731.78" y1="154.50" x2="731.78" y2="152.50" stroke="#000" stroke-width="1"/>
<line x1="731.78" y1="5.50" x2="731.78" y2="7.50" stroke="#000" stroke-width="1"/>
<line x1="735.30" y1="154.50" x2="735.30" y2="151.00" stroke="#000" stroke-width="1"/>
<line x1="735.30" y1="5.50" x2="735.30" y2="9.00" stroke="#000" stroke-width="1"/>
<line x1="550.40" y1="154.50" x2="552.40" y2="154.50" stroke="#000" stroke-width="1"/>
<line x1="758.40" y1="154.50" x2="756.40" y2="154.50" stroke="#000" stroke-width="1"/>
<line x1="550.40" y1="145.75" x2="552.40" y2="145.75" stroke="#000" stroke-width="1"/>
<line x1="758.40" y1="145.75" x2="756.40" y2="145.75" stroke="#000" stroke-width="1"/>
<line x1="550.40" y1="139.55" x2="552.40" y2="139.55" stroke="#000" stroke-width="1"/>
<line x1="758.40" y1="139.55" x2="756.40" y2="139.55" stroke="#000" stroke-width="1"/>
<line x1="550.40" y1="134.74" x2="552.40" y2="134.74" stroke="#000" stroke-width="1"/>
<line x1="758.40" y1="134.74" x2="756.40" y2="134.74" stroke="#000" stroke-width="1"/>
<line x1="550.40" y1="130.80" x2="552.40" y2="130.80" stroke="#000" stroke-width="1"/>
<line x1="758.40" y1="130.80" x2="756.40" y2="130.80" stroke="#000" stroke-width="1"/>
<line x1="550.40" y1="127.48" x2="552.40" y2="127.48" stroke="#000" stroke-width="1"/>
<line x1="758.40" y1="127.48" x2="756.40" y2="127.48" stroke="#000" stroke-width="1"/>
<line x1="550.40" y1="124.60" x2="552.40" y2="124.60" stroke="#000" stroke-width="1"/>
<line x1="758.40" y1="124.60" x2="756.40" y2="124.60" stroke="#000" stroke-width="1"/>
<line x1="550.40" y1="122.06" x2="552.40" y2="122.06" stroke="#000" stroke-width="1"/>
<line x1="758.40" y1="122.06" x2="756.40" y2="122.06" stroke="#000" stroke-width="1"/>
<line x1="550.40" y1="119.78" x2="553.90" y2="119.78" stroke="#000" stroke-width="1"/>
<line x1="758.40" y1="119.78" x2="754.90" y2="119.78" stroke="#000" stroke-width="1"/>
<line x1="550.40" y1="104.83" x2="552.40" y2="104.83" stroke="#000" stroke-width="1"/>
<line x1="758.40" y1="104.83" x2="756.40" y2="104.83" stroke="#000" stroke-width="1"/>
<line x1="550.40" y1="96.09" x2="552.40" y2="96.09" stroke="#000" stroke-width="1"/>
<line x1="758.40" y1="96.09" x2="756.40" y2="96.09" stroke="#000" stroke-width="1"/>
<line x1="550.40" y1="89.88" x2="552.40" y2="89.88" stroke="#000" stroke-width="1"/>
<line x1="758.40" y1="89.88" x2="756.40" y2="89.88" stroke="#000" stroke-width="1"/>
<line x1="550.40" y1="85.07" x2="552.40" y2="85.07" stroke="#000" stroke-width="1"/>
<line x1="758.40" y1="85.07" x2="756.40" y2="85.07" stroke="#000" stroke-width="1"/>
<line x1="550.40" y1="81.14" x2="552.40" y2="81.14" stroke="#000" stroke-width="1"/>
<line x1="758.40" y1="81.14" x2="756.40" y2="81.14" stroke="#000" stroke-width="1"/>
<line x1="550.40" y1="77.81" x2="552.40" y2="77.81" stroke="#000" stroke-width="1"/>
<line x1="758.40" y1="77.81" x2="756.40" y2="77.81" stroke="#000" stroke-width="1"/>
<line x1="550.40" y1="74.93" x2="552.40" y2="74.93" stroke="#000" stroke-width="1"/>
<line x1="758.40" y1="74.93" x2="756.40" y2="74.93" stroke="#000" stroke-width="1"/>
<line x1="550.40" y1="72.39" x2="552.40" y2="72.39" stroke="#000" stroke-width="1"/>
<line x1="758.40" y1="72.39" x2="756.40" y2="72.39" stroke="#000" stroke-width="1"/>
<line x1="550.40" y1="70.12" x2="553.90" y2="70.12" stroke="#000" stroke-width="1"/>
<line x1="758.40" y1="70.12" x2="754.90" y2="70.12" stroke="#000" stroke-width="1"/>
<line x1="550.40" y1="55.17" x2="552.40" y2="55.17" stroke="#000" stroke-width="1"/>
<line x1="758.40" y1="55.17" x2="756.40" y2="55.17" stroke="#000" stroke-width="1"/>
<line x1="550.40" y1="46.42" x2="552.40" y2="46.42" stroke="#000" stroke-width="1"/>
<line x1="758.40" y1="46.42" x2="756.40" y2="46.42" stroke="#000" stroke-width="1"/>
<line x1="550.40" y1="40.22" x2="552.40" y2="40.22" stroke="#000" stroke-width="1"/>
<line x1="758.40" y1="40.22" x2="756.40" y2="40.22" stroke="#000" stroke-width="1"/>
<line x1="550.40" y1="35.40" x2="552.40" y2="35.40" stroke="#000" stroke-width="1"/>
<line x1="758.40" y1="35.40" x2="756.40" y2="35.40" stroke="#000" stroke-width="1"/>
<line x1="550.40" y1="31.47" x2="552.40" y2="31.47" stroke="#000" stroke-width="1"/>
<line x1="758.40" y1="31.47" x2="756.40" y2="31.47" stroke="#000" stroke-width="1"/>
<line x1="550.40" y1="28.14" x2="552.40" y2="28.14" stroke="#000" stroke-width="1"/>
<line x1="758.40" y1="28.14" x2="756.40" y2="28.14" stroke="#000" stroke-width="1"/>
<line x1="550.40" y1="25.26" x2="552.40" y2="25.26" stroke="#000" stroke-width="1"/>
<line x1="758.40" y1="25.26" x2="756.40" y2="25.26" stroke="#000" stroke-width="1"/>
<line x1="550.40" y1="22.72" x2="552.40" y2="22.72" stroke="#000" stroke-width="1"/>
<line x1="758.40" y1="22.72" x2="756.40" y2="22.72" stroke="#000" stroke-width="1"/>
<line x1="550.40" y1="20.45" x2="553.90" y2="20.45" stroke="#000" stroke-width="1"/>
<line x1="758.40" y1="20.45" x2="754.90" y2="20.45" stroke="#000" stroke-width="1"/>
<line x1="550.40" y1="5.50" x2="552.40" y2="5.50" stroke="#000" stroke-width="1"/>
<line x1="758.40" y1="5.50" x2="756.40" y2="5.50" stroke="#000" stroke-width="1"/>
<circle cx="659.80" cy="16.70" r="3.5" fill="#000"/>
<rect x="656.40" y="23.70" width="6.8" height="6.8" fill="#00ff00"/>
<path d="M655.10,41.10L664.50,41.10L659.80,32.70Z" fill="#ff0000"/>
<line x1="41.40" y1="278.40" x2="41.40" y2="286.00" stroke="#000" stroke-width="1"/>
<line x1="39.80" y1="278.40" x2="43.00" y2="278.40" stroke="#000" stroke-width="1"/>
<line x1="39.80" y1="286.00" x2="43.00" y2="286.00" stroke="#000" stroke-width="1"/>
<line x1="57.60" y1="263.50" x2="57.60" y2="270.50" stroke="#000" stroke-width="1"/>
<line x1="56.00" y1="263.50" x2="59.20" y2="263.50" stroke="#000" stroke-width="1"/>
<line x1="56.00" y1="270.50" x2="59.20" y2="270.50" stroke="#000" stroke-width="1"/>
<line x1="65.00" y1="267.60" x2="65.00" y2="272.60" stroke="#000" stroke-width="1"/>
<line x1="63.40" y1="267.60" x2="66.60" y2="267.60" stroke="#000" stroke-width="1"/>
<line x1="63.40" y1="272.60" x2="66.60" y2="272.60" stroke="#000" stroke-width="1"/>
<line x1="72.40" y1="271.90" x2="72.40" y2="276.90" stroke="#000" stroke-width="1"/>
<line x1="70.80" y1="271.90" x2="74.00" y2="271.90" stroke="#000" stroke-width="1"/>
<line x1="70.80" y1="276.90" x2="74.00" y2="276.90" stroke="#000" stroke-width="1"/>
<line x1="78.50" y1="272.70" x2="78.50" y2="277.70" stroke="#000" stroke-width="1"/>
<line x1="76.90" y1="272.70" x2="80.10" y2="272.70" stroke="#000" stroke-width="1"/>
<line x1="76.90" y1="277.70" x2="80.10" y2="277.70" stroke="#000" stroke-width="1"/>
<line x1="88.10" y1="272.20" x2="88.10" y2="277.20" stroke="#000" stroke-width="1"/>
<line x1="86.50" y1="272.20" x2="89.70" y2="272.20" stroke="#000" stroke-width="1"/>
<line x1="86.50" y1="277.20" x2="89.70" y2="277.20" stroke="#000" stroke-width="1"/>
<line x1="95.90" y1="281.30" x2="95.90" y2="285.30" stroke="#000" stroke-width="1"/>
<line x1="94.30" y1="281.30" x2="97.50" y2="281.30" stroke="#000" stroke-width="1"/>
<line x1="94.30" y1="285.30" x2="97.50" y2="285.30" stroke="#000" stroke-width="1"/>
<line x1="101.60" y1="283.40" x2="101.60" y2="287.40" stroke="#000" stroke-width="1"/>
<line x1="100.00" y1="283.40" x2="103.20" y2="283.40" stroke="#000" stroke-width="1"/>
<line x1="100.00" y1="287.40" x2="103.20" y2="287.40" stroke="#000" stroke-width="1"/>
<line x1="106.90" y1="285.20" x2="106.90" y2="289.20" stroke="#000" stroke-width="1"/>
<line x1="105.30" y1="285.20" x2="108.50" y2="285.20" stroke="#000" stroke-width="1"/>
<line x1="105.30" y1="289.20" x2="108.50" y2="289.20" stroke="#000" stroke-width="1"/>
<line x1="115.70" y1="284.50" x2="115.70" y2="288.50" stroke="#000" stroke-width="1"/>
<line x1="114.10" y1="284.50" x2="117.30" y2="284.50" stroke="#000" stroke-width="1"/>
<line x1="114.10" y1="288.50" x2="117.30" y2="288.50" stroke="#000" stroke-width="1"/>
<line x1="121.90" y1="284.50" x2="121.90" y2="288.50" stroke="#000" stroke-width="1"/>
<line x1="120.30" y1="284.50" x2="123.50" y2="284.50" stroke="#000" stroke-width="1"/>
<line x1="120.30" y1="288.50" x2="123.50" y2="288.50" stroke="#000" stroke-width="1"/>
<line x1="127.70" y1="289.10" x2="127.70" y2="293.10" stroke="#000" stroke-width="1"/>
<line x1="126.10" y1="289.10" x2="129.30" y2="289.10" stroke="#000" stroke-width="1"/>
<line x1="126.10" y1="293.10" x2="129.30" y2="293.10" stroke="#000" stroke-width="1"/>
<line x1="132.70" y1="289.40" x2="132.70" y2="293.40" stroke="#000" stroke-width="1"/>
<line x1="131.10" y1="289.40" x2="134.30" y2="289.40" stroke="#000" stroke-width="1"/>
<line x1="131.10" y1="293.40" x2="134.30" y2="293.40" stroke="#000" stroke-width="1"/>
<line x1="137.10" y1="292.40" x2="137.10" y2="296.40" stroke="#000" stroke-width="1"/>
<line x1="135.50" y1="292.40" x2="138.70" y2="292.40" stroke="#000" stroke-width="1"/>
<line x1="135.50" y1="296.40" x2="138.70" y2="296.40" stroke="#000" stroke-width="1"/>
<line x1="142.60" y1="292.70" x2="142.60" y2="296.70" stroke="#000" stroke-width="1"/>
<line x1="141.00" y1="292.70" x2="144.20" y2="292.70" stroke="#000" stroke-width="1"/>
<line x1="141.00" y1="296.70" x2="144.20" y2="296.70" stroke="#000" stroke-width="1"/>
<line x1="149.50" y1="290.80" x2="149.50" y2="294.80" stroke="#000" stroke-width="1"/>
<line x1="147.90" y1="290.80" x2="151.10" y2="290.80" stroke="#000" stroke-width="1"/>
<line x1="147.90" y1="294.80" x2="151.10" y2="294.80" stroke="#000" stroke-width="1"/>
<line x1="155.80" y1="288.10" x2="155.80" y2="292.10" stroke="#000" stroke-width="1"/>
<line x1="154.20" y1="288.10" x2="157.40" y2="288.10" stroke="#000" stroke-width="1"/>
<line x1="154.20" y1="292.10" x2="157.40" y2="292.10" stroke="#000" stroke-width="1"/>
<line x1="161.00" y1="287.50" x2="161.00" y2="291.50" stroke="#000" stroke-width="1"/>
<line x1="159.40" y1="287.50" x2="162.60" y2="287.50" stroke="#000" stroke-width="1"/>
<line x1="159.40" y1="291.50" x2="162.60" y2="291.50" stroke="#000" stroke-width="1"/>
<line x1="165.70" y1="288.60" x2="165.70" y2="292.60" stroke="#000" stroke-width="1"/>
<line x1="164.10" y1="288.60" x2="167.30" y2="288.60" stroke="#000" stroke-width="1"/>
<line x1="164.10" y1="292.60" x2="167.30" y2="292.60" stroke="#000" stroke-width="1"/>
<line x1="169.30" y1="287.00" x2="169.30" y2="291.00" stroke="#000" stroke-width="1"/>
<line x1="167.70" y1="287.00" x2="170.90" y2="287.00" stroke="#000" stroke-width="1"/>
<line x1="167.70" y1="291.00" x2="170.90" y2="291.00" stroke="#000" stroke-width="1"/>
<line x1="172.60" y1="285.50" x2="172.60" y2="289.50" stroke="#000" stroke-width="1"/>
<line x1="171.00" y1="285.50" x2="174.20" y2="285.50" stroke="#000" stroke-width="1"/>
<line x1="171.00" y1="289.50" x2="174.20" y2="289.50" stroke="#000" stroke-width="1"/>
<line x1="178.80" y1="292.50" x2="178.80" y2="296.50" stroke="#000" stroke-width="1"/>
<line x1="177.20" y1="292.50" x2="180.40" y2="292.50" stroke="#000" stroke-width="1"/>
<line x1="177.20" y1="296.50" x2="180.40" y2="296.50" stroke="#000" stroke-width="1"/>
<line x1="184.40" y1="297.00" x2="184.40" y2="301.00" stroke="#000" stroke-width="1"/>
<line x1="182.80" y1="297.00" x2="186.00" y2="297.00" stroke="#000" stroke-width="1"/>
<line x1="182.80" y1="301.00" x2="186.00" y2="301.00" stroke="#000" stroke-width="1"/>
<line x1="188.90" y1="299.00" x2="188.90" y2="303.00" stroke="#000" stroke-width="1"/>
<line x1="187.30" y1="299.00" x2="190.50" y2="299.00" stroke="#000" stroke-width="1"/>
<line x1="187.30" y1="303.00" x2="190.50" y2="303.00" stroke="#000" stroke-width="1"/>
<line x1="192.70" y1="301.30" x2="192.70" y2="305.30" stroke="#000" stroke-width="1"/>
<line x1="191.10" y1="301.30" x2="194.30" y2="301.30" stroke="#000" stroke-width="1"/>
<line x1="191.10" y1="305.30" x2="194.30" y2="305.30" stroke="#000" stroke-width="1"/>
<line x1="195.70" y1="301.60" x2="195.70" y2="305.60" stroke="#000" stroke-width="1"/>
<line x1="194.10" y1="301.60" x2="197.30" y2="301.60" stroke="#000" stroke-width="1"/>
<line x1="194.10" y1="305.60" x2="197.30" y2="305.60" stroke="#000" stroke-width="1"/>
<line x1="198.70" y1="303.10" x2="198.70" y2="307.10" stroke="#000" stroke-width="1"/>
<line x1="197.10" y1="303.10" x2="200.30" y2="303.10" stroke="#000" stroke-width="1"/>
<line x1="197.10" y1="307.10" x2="200.30" y2="307.10" stroke="#000" stroke-width="1"/>
<line x1="201.80" y1="304.30" x2="201.80" y2="308.30" stroke="#000" stroke-width="1"/>
<line x1="200.20" y1="304.30" x2="203.40" y2="304.30" stroke="#000" stroke-width="1"/>
<line x1="200.20" y1="308.30" x2="203.40" y2="308.30" stroke="#000" stroke-width="1"/>
<line x1="204.80" y1="305.00" x2="204.80" y2="309.00" stroke="#000" stroke-width="1"/>
<line x1="203.20" y1="305.00" x2="206.40" y2="305.00" stroke="#000" stroke-width="1"/>
<line x1="203.20" y1="309.00" x2="206.40" y2="309.00" stroke="#000" stroke-width="1"/>
<line x1="208.60" y1="306.60" x2="208.60" y2="310.60" stroke="#000" stroke-width="1"/>
<line x1="207.00" y1="306.60" x2="210.20" y2="306.60" stroke="#000" stroke-width="1"/>
<line x1="207.00" y1="310.60" x2="210.20" y2="310.60" stroke="#000" stroke-width="1"/>
<line x1="212.30" y1="305.80" x2="212.30" y2="309.80" stroke="#000" stroke-width="1"/>
<line x1="210.70" y1="305.80" x2="213.90" y2="305.80" stroke="#000" stroke-width="1"/>
<line x1="210.70" y1="309.80" x2="213.90" y2="309.80" stroke="#000" stroke-width="1"/>
<line x1="215.40" y1="306.60" x2="215.40" y2="310.60" stroke="#000" stroke-width="1"/>
<line x1="213.80" y1="306.60" x2="217.00" y2="306.60" stroke="#000" stroke-width="1"/>
<line x1="213.80" y1="310.60" x2="217.00" y2="310.60" stroke="#000" stroke-width="1"/>
<line x1="219.20" y1="308.00" x2="219.20" y2="312.00" stroke="#000" stroke-width="1"/>
<line x1="217.60" y1="308.00" x2="220.80" y2="308.00" stroke="#000" stroke-width="1"/>
<line x1="217.60" y1="312.00" x2="220.80" y2="312.00" stroke="#000" stroke-width="1"/>
<line x1="225.70" y1="307.00" x2="225.70" y2="315.00" stroke="#000" stroke-width="1"/>
<line x1="224.10" y1="307.00" x2="227.30" y2="307.00" stroke="#000" stroke-width="1"/>
<line x1="224.10" y1="315.00" x2="227.30" y2="315.00" stroke="#000" stroke-width="1"/>
<line x1="233.00" y1="310.20" x2="233.00" y2="318.20" stroke="#000" stroke-width="1"/>
<line x1="231.40" y1="310.20" x2="234.60" y2="310.20" stroke="#000" stroke-width="1"/>
<line x1="231.40" y1="318.20" x2="234.60" y2="318.20" stroke="#000" stroke-width="1"/>
<line x1="239.30" y1="316.00" x2="239.30" y2="324.00" stroke="#000" stroke-width="1"/>
<line x1="237.70" y1="316.00" x2="240.90" y2="316.00" stroke="#000" stroke-width="1"/>
<line x1="237.70" y1="324.00" x2="240.90" y2="324.00" stroke="#000" stroke-width="1"/>
<line x1="41.40" y1="211.70" x2="41.40" y2="248.70" stroke="#00ff00" stroke-width="1"/>
<line x1="39.80" y1="211.70" x2="43.00" y2="211.70" stroke="#00ff00" stroke-width="1"/>
<line x1="39.80" y1="248.70" x2="43.00" y2="248.70" stroke="#00ff00" stroke-width="1"/>
<line x1="57.60" y1="221.40" x2="57.60" y2="244.00" stroke="#00ff00" stroke-width="1"/>
<line x1="56.00" y1="221.40" x2="59.20" y2="221.40" stroke="#00ff00" stroke-width="1"/>
<line x1="56.00" y1="244.00" x2="59.20" y2="244.00" stroke="#00ff00" stroke-width="1"/>
<line x1="65.00" y1="215.20" x2="65.00" y2="235.20" stroke="#00ff00" stroke-width="1"/>
<line x1="63.40" y1="215.20" x2="66.60" y2="215.20" stroke="#00ff00" stroke-width="1"/>
<line x1="63.40" y1="235.20" x2="66.60" y2="235.20" stroke="#00ff00" stroke-width="1"/>
<line x1="72.40" y1="230.30" x2="72.40" y2="243.30" stroke="#00ff00" stroke-width="1"/>
<line x1="70.80" y1="230.30" x2="74.00" y2="230.30" stroke="#00ff00" stroke-width="1"/>
<line x1="70.80" y1="243.30" x2="74.00" y2="243.30" stroke="#00ff00" stroke-width="1"/>
<line x1="78.50" y1="222.60" x2="78.50" y2="235.20" stroke="#00ff00" stroke-width="1"/>
<line x1="76.90" y1="222.60" x2="80.10" y2="222.60" stroke="#00ff00" stroke-width="1"/>
<line x1="76.90" y1="235.20" x2="80.10" y2="235.20" stroke="#00ff00" stroke-width="1"/>
<line x1="88.40" y1="228.30" x2="88.40" y2="239.30" stroke="#00ff00" stroke-width="1"/>
<line x1="86.80" y1="228.30" x2="90.00" y2="228.30" stroke="#00ff00" stroke-width="1"/>
<line x1="86.80" y1="239.30" x2="90.00" y2="239.30" stroke="#00ff00" stroke-width="1"/>
<line x1="95.90" y1="235.20" x2="95.90" y2="244.60" stroke="#00ff00" stroke-width="1"/>
<line x1="94.30" y1="235.20" x2="97.50" y2="235.20" stroke="#00ff00" stroke-width="1"/>
<line x1="94.30" y1="244.60" x2="97.50" y2="244.60" stroke="#00ff00" stroke-width="1"/>
<line x1="101.60" y1="236.00" x2="101.60" y2="244.60" stroke="#00ff00" stroke-width="1"/>
<line x1="100.00" y1="236.00" x2="103.20" y2="236.00" stroke="#00ff00" stroke-width="1"/>
<line x1="100.00" y1="244.60" x2="103.20" y2="244.60" stroke="#00ff00" stroke-width="1"/>
<line x1="115.70" y1="243.00" x2="115.70" y2="250.00" stroke="#00ff00" stroke-width="1"/>
<line x1="114.10" y1="243.00" x2="117.30" y2="243.00" stroke="#00ff00" stroke-width="1"/>
<line x1="114.10" y1="250.00" x2="117.30" y2="250.00" stroke="#00ff00" stroke-width="1"/>
<line x1="122.30" y1="248.80" x2="122.30" y2="255.80" stroke="#00ff00" stroke-width="1"/>
<line x1="120.70" y1="248.80" x2="123.90" y2="248.80" stroke="#00ff00" stroke-width="1"/>
<line x1="120.70" y1="255.80" x2="123.90" y2="255.80" stroke="#00ff00" stroke-width="1"/>
<line x1="127.70" y1="247.90" x2="127.70" y2="254.90" stroke="#00ff00" stroke-width="1"/>
<line x1="126.10" y1="247.90" x2="129.30" y2="247.90" stroke="#00ff00" stroke-width="1"/>
<line x1="126.10" y1="254.90" x2="129.30" y2="254.90" stroke="#00ff00" stroke-width="1"/>
<line x1="132.70" y1="249.60" x2="132.70" y2="256.60" stroke="#00ff00" stroke-width="1"/>
<line x1="131.10" y1="249.60" x2="134.30" y2="249.60" stroke="#00ff00" stroke-width="1"/>
<line x1="131.10" y1="256.60" x2="134.30" y2="256.60" stroke="#00ff00" stroke-width="1"/>
<line x1="137.10" y1="248.80" x2="137.10" y2="255.80" stroke="#00ff00" stroke-width="1"/>
<line x1="135.50" y1="248.80" x2="138.70" y2="248.80" stroke="#00ff00" stroke-width="1"/>
<line x1="135.50" y1="255.80" x2="138.70" y2="255.80" stroke="#00ff00" stroke-width="1"/>
<line x1="142.60" y1="256.40" x2="142.60" y2="262.40" stroke="#00ff00" stroke-width="1"/>
<line x1="141.00" y1="256.40" x2="144.20" y2="256.40" stroke="#00ff00" stroke-width="1"/>
<line x1="141.00" y1="262.40" x2="144.20" y2="262.40" stroke="#00ff00" stroke-width="1"/>
<line x1="149.50" y1="262.00" x2="149.50" y2="268.00" stroke="#00ff00" stroke-width="1"/>
<line x1="147.90" y1="262.00" x2="151.10" y2="262.00" stroke="#00ff00" stroke-width="1"/>
<line x1="147.90" y1="268.00" x2="151.10" y2="268.00" stroke="#00ff00" stroke-width="1"/>
<line x1="155.80" y1="270.20" x2="155.80" y2="275.20" stroke="#00ff00" stroke-width="1"/>
<line x1="154.20" y1="270.20" x2="157.40" y2="270.20" stroke="#00ff00" stroke-width="1"/>
<line x1="154.20" y1="275.20" x2="157.40" y2="275.20" stroke="#00ff00" stroke-width="1"/>
<line x1="161.00" y1="275.70" x2="161.00" y2="280.70" stroke="#00ff00" stroke-width="1"/>
<line x1="159.40" y1="275.70" x2="162.60" y2="275.70" stroke="#00ff00" stroke-width="1"/>
<line x1="159.40" y1="280.70" x2="162.60" y2="280.70" stroke="#00ff00" stroke-width="1"/>
<line x1="165.70" y1="282.10" x2="165.70" y2="286.10" stroke="#00ff00" stroke-width="1"/>
<line x1="164.10" y1="282.10" x2="167.30" y2="282.10" stroke="#00ff00" stroke-width="1"/>
<line x1="164.10" y1="286.10" x2="167.30" y2="286.10" stroke="#00ff00" stroke-width="1"/>
<line x1="169.30" y1="285.60" x2="169.30" y2="289.60" stroke="#00ff00" stroke-width="1"/>
<line x1="167.70" y1="285.60" x2="170.90" y2="285.60" stroke="#00ff00" stroke-width="1"/>
<line x1="167.70" y1="289.60" x2="170.90" y2="289.60" stroke="#00ff00" stroke-width="1"/>
<line x1="172.70" y1="290.90" x2="172.70" y2="294.90" stroke="#00ff00" stroke-width="1"/>
<line x1="171.10" y1="290.90" x2="174.30" y2="290.90" stroke="#00ff00" stroke-width="1"/>
<line x1="171.10" y1="294.90" x2="174.30" y2="294.90" stroke="#00ff00" stroke-width="1"/>
<line x1="178.80" y1="293.70" x2="178.80" y2="297.70" stroke="#00ff00" stroke-width="1"/>
<line x1="177.20" y1="293.70" x2="180.40" y2="293.70" stroke="#00ff00" stroke-width="1"/>
<line x1="177.20" y1="297.70" x2="180.40" y2="297.70" stroke="#00ff00" stroke-width="1"/>
<line x1="184.40" y1="298.20" x2="184.40" y2="302.20" stroke="#00ff00" stroke-width="1"/>
<line x1="182.80" y1="298.20" x2="186.00" y2="298.20" stroke="#00ff00" stroke-width="1"/>
<line x1="182.80" y1="302.20" x2="186.00" y2="302.20" stroke="#00ff00" stroke-width="1"/>
<line x1="188.90" y1="300.50" x2="188.90" y2="304.50" stroke="#00ff00" stroke-width="1"/>
<line x1="187.30" y1="300.50" x2="190.50" y2="300.50" stroke="#00ff00" stroke-width="1"/>
<line x1="187.30" y1="304.50" x2="190.50" y2="304.50" stroke="#00ff00" stroke-width="1"/>
<line x1="192.70" y1="302.80" x2="192.70" y2="306.80" stroke="#00ff00" stroke-width="1"/>
<line x1="191.10" y1="302.80" x2="194.30" y2="302.80" stroke="#00ff00" stroke-width="1"/>
<line x1="191.10" y1="306.80" x2="194.30" y2="306.80" stroke="#00ff00" stroke-width="1"/>
<line x1="195.70" y1="304.30" x2="195.70" y2="308.30" stroke="#00ff00" stroke-width="1"/>
<line x1="194.10" y1="304.30" x2="197.30" y2="304.30" stroke="#00ff00" stroke-width="1"/>
<line x1="194.10" y1="308.30" x2="197.30" y2="308.30" stroke="#00ff00" stroke-width="1"/>
<line x1="198.70" y1="304.30" x2="198.70" y2="308.30" stroke="#00ff00" stroke-width="1"/>
<line x1="197.10" y1="304.30" x2="200.30" y2="304.30" stroke="#00ff00" stroke-width="1"/>
<line x1="197.10" y1="308.30" x2="200.30" y2="308.30" stroke="#00ff00" stroke-width="1"/>
<line x1="201.80" y1="301.00" x2="201.80" y2="305.00" stroke="#00ff00" stroke-width="1"/>
<line x1="200.20" y1="301.00" x2="203.40" y2="301.00" stroke="#00ff00" stroke-width="1"/>
<line x1="200.20" y1="305.00" x2="203.40" y2="305.00" stroke="#00ff00" stroke-width="1"/>
<line x1="204.80" y1="304.30" x2="204.80" y2="308.30" stroke="#00ff00" stroke-width="1"/>
<line x1="203.20" y1="304.30" x2="206.40" y2="304.30" stroke="#00ff00" stroke-width="1"/>
<line x1="203.20" y1="308.30" x2="206.40" y2="308.30" stroke="#00ff00" stroke-width="1"/>
<line x1="208.60" y1="307.30" x2="208.60" y2="311.30" stroke="#00ff00" stroke-width="1"/>
<line x1="207.00" y1="307.30" x2="210.20" y2="307.30" stroke="#00ff00" stroke-width="1"/>
<line x1="207.00" y1="311.30" x2="210.20" y2="311.30" stroke="#00ff00" stroke-width="1"/>
<line x1="212.30" y1="309.60" x2="212.30" y2="313.60" stroke="#00ff00" stroke-width="1"/>
<line x1="210.70" y1="309.60" x2="213.90" y2="309.60" stroke="#00ff00" stroke-width="1"/>
<line x1="210.70" y1="313.60" x2="213.90" y2="313.60" stroke="#00ff00" stroke-width="1"/>
<line x1="215.40" y1="311.10" x2="215.40" y2="315.10" stroke="#00ff00" stroke-width="1"/>
<line x1="213.80" y1="311.10" x2="217.00" y2="311.10" stroke="#00ff00" stroke-width="1"/>
<line x1="213.80" y1="315.10" x2="217.00" y2="315.10" stroke="#00ff00" stroke-width="1"/>
<line x1="219.30" y1="316.00" x2="219.30" y2="322.00" stroke="#00ff00" stroke-width="1"/>
<line x1="217.70" y1="316.00" x2="220.90" y2="316.00" stroke="#00ff00" stroke-width="1"/>
<line x1="217.70" y1="322.00" x2="220.90" y2="322.00" stroke="#00ff00" stroke-width="1"/>
<line x1="225.70" y1="319.30" x2="225.70" y2="329.30" stroke="#00ff00" stroke-width="1"/>
<line x1="224.10" y1="319.30" x2="227.30" y2="319.30" stroke="#00ff00" stroke-width="1"/>
<line x1="224.10" y1="329.30" x2="227.30" y2="329.30" stroke="#00ff00" stroke-width="1"/>
<line x1="232.90" y1="321.70" x2="232.90" y2="329.70" stroke="#00ff00" stroke-width="1"/>
<line x1="231.30" y1="321.70" x2="234.50" y2="321.70" stroke="#00ff00" stroke-width="1"/>
<line x1="231.30" y1="329.70" x2="234.50" y2="329.70" stroke="#00ff00" stroke-width="1"/>
<line x1="239.30" y1="322.40" x2="239.30" y2="330.40" stroke="#00ff00" stroke-width="1"/>
<line x1="237.70" y1="322.40" x2="240.90" y2="322.40" stroke="#00ff00" stroke-width="1"/>
<line x1="237.70" y1="330.40" x2="240.90" y2="330.40" stroke="#00ff00" stroke-width="1"/>
<line x1="225.70" y1="329.90" x2="225.70" y2="332.90" stroke="#ff0000" stroke-width="1"/>
<line x1="224.10" y1="329.90" x2="227.30" y2="329.90" stroke="#ff0000" stroke-width="1"/>
<line x1="224.10" y1="332.90" x2="227.30" y2="332.90" stroke="#ff0000" stroke-width="1"/>
<line x1="232.90" y1="324.60" x2="232.90" y2="332.60" stroke="#ff0000" stroke-width="1"/>
<line x1="231.30" y1="324.60" x2="234.50" y2="324.60" stroke="#ff0000" stroke-width="1"/>
<line x1="231.30" y1="332.60" x2="234.50" y2="332.60" stroke="#ff0000" stroke-width="1"/>
<line x1="239.30" y1="324.30" x2="239.30" y2="332.30" stroke="#ff0000" stroke-width="1"/>
<line x1="237.70" y1="324.30" x2="240.90" y2="324.30" stroke="#ff0000" stroke-width="1"/>
<line x1="237.70" y1="332.30" x2="240.90" y2="332.30" stroke="#ff0000" stroke-width="1"/>
<circle cx="41.40" cy="282.20" r="1.75" fill="#000"/>
<circle cx="57.60" cy="267.00" r="1.75" fill="#000"/>
<circle cx="65.00" cy="270.10" r="1.75" fill="#000"/>
<circle cx="72.40" cy="274.40" r="1.75" fill="#000"/>
<circle cx="78.50" cy="275.20" r="1.75" fill="#000"/>
<circle cx="88.10" cy="274.70" r="1.75" fill="#000"/>
<circle cx="95.90" cy="283.30" r="1.75" fill="#000"/>
<circle cx="101.60" cy="285.40" r="1.75" fill="#000"/>
<circle cx="106.90" cy="287.20" r="1.75" fill="#000"/>
<circle cx="115.70" cy="286.50" r="1.75" fill="#000"/>
<circle cx="121.90" cy="286.50" r="1.75" fill="#000"/>
<circle cx="127.70" cy="291.10" r="1.75" fill="#000"/>
<circle cx="132.70" cy="291.40" r="1.75" fill="#000"/>
<circle cx="137.10" cy="294.40" r="1.75" fill="#000"/>
<circle cx="142.60" cy="294.70" r="1.75" fill="#000"/>
<circle cx="149.50" cy="292.80" r="1.75" fill="#000"/>
<circle cx="155.80" cy="290.10" r="1.75" fill="#000"/>
<circle cx="161.00" cy="289.50" r="1.75" fill="#000"/>
<circle cx="165.70" cy="290.60" r="1.75" fill="#000"/>
<circle cx="169.30" cy="289.00" r="1.75" fill="#000"/>
<circle cx="172.60" cy="287.50" r="1.75" fill="#000"/>
<circle cx="178.80" cy="294.50" r="1.75" fill="#000"/>
<circle cx="184.40" cy="299.00" r="1.75" fill="#000"/>
<circle cx="188.90" cy="301.00" r="1.75" fill="#000"/>
<circle cx="192.70" cy="303.30" r="1.75" fill="#000"/>
<circle cx="195.70" cy="303.60" r="1.75" fill="#000"/>
<circle cx="198.70" cy="305.10" r="1.75" fill="#000"/>
<circle cx="201.80" cy="306.30" r="1.75" fill="#000"/>
<circle cx="204.80" cy="307.00" r="1.75" fill="#000"/>
<circle cx="208.60" cy="308.60" r="1.75" fill="#000"/>
<circle cx="212.30" cy="307.80" r="1.75" fill="#000"/>
<circle cx="215.40" cy="308.60" r="1.75" fill="#000"/>
<circle cx="219.20" cy="310.00" r="1.75" fill="#000"/>
<circle cx="225.70" cy="311.00" r="1.75" fill="#000"/>
<circle cx="233.00" cy="314.20" r="1.75" fill="#000"/>
<circle cx="239.30" cy="320.00" r="1.75" fill="#000"/>
<rect x="39.50" y="228.30" width="3.80" height="3.80" fill="#00ff00"/>
<rect x="55.70" y="230.80" width="3.80" height="3.80" fill="#00ff00"/>
<rect x="63.10" y="223.30" width="3.80" height="3.80" fill="#00ff00"/>
<rect x="70.50" y="234.90" width="3.80" height="3.80" fill="#00ff00"/>
<rect x="76.60" y="227.00" width="3.80" height="3.80" fill="#00ff00"/>
<rect x="86.50" y="231.90" width="3.80" height="3.80" fill="#00ff00"/>
<rect x="94.00" y="238.00" width="3.80" height="3.80" fill="#00ff00"/>
<rect x="99.70" y="238.40" width="3.80" height="3.80" fill="#00ff00"/>
<rect x="113.80" y="244.60" width="3.80" height="3.80" fill="#00ff00"/>
<rect x="120.40" y="250.40" width="3.80" height="3.80" fill="#00ff00"/>
<rect x="125.80" y="249.50" width="3.80" height="3.80" fill="#00ff00"/>
<rect x="130.80" y="251.20" width="3.80" height="3.80" fill="#00ff00"/>
<rect x="135.20" y="250.40" width="3.80" height="3.80" fill="#00ff00"/>
<rect x="140.70" y="257.50" width="3.80" height="3.80" fill="#00ff00"/>
<rect x="147.60" y="263.10" width="3.80" height="3.80" fill="#00ff00"/>
<rect x="153.90" y="270.80" width="3.80" height="3.80" fill="#00ff00"/>
<rect x="159.10" y="276.30" width="3.80" height="3.80" fill="#00ff00"/>
<rect x="163.80" y="282.20" width="3.80" height="3.80" fill="#00ff00"/>
<rect x="167.40" y="285.70" width="3.80" height="3.80" fill="#00ff00"/>
<rect x="170.80" y="291.00" width="3.80" height="3.80" fill="#00ff00"/>
<rect x="176.90" y="293.80" width="3.80" height="3.80" fill="#00ff00"/>
<rect x="182.50" y="298.30" width="3.80" height="3.80" fill="#00ff00"/>
<rect x="187.00" y="300.60" width="3.80" height="3.80" fill="#00ff00"/>
<rect x="190.80" y="302.90" width="3.80" height="3.80" fill="#00ff00"/>
<rect x="193.80" y="304.40" width="3.80" height="3.80" fill="#00ff00"/>
<rect x="196.80" y="304.40" width="3.80" height="3.80" fill="#00ff00"/>
<rect x="199.90" y="301.10" width="3.80" height="3.80" fill="#00ff00"/>
<rect x="202.90" y="304.40" width="3.80" height="3.80" fill="#00ff00"/>
<rect x="206.70" y="307.40" width="3.80" height="3.80" fill="#00ff00"/>
<rect x="210.40" y="309.70" width="3.80" height="3.80" fill="#00ff00"/>
<rect x="213.50" y="311.20" width="3.80" height="3.80" fill="#00ff00"/>
<rect x="217.40" y="317.10" width="3.80" height="3.80" fill="#00ff00"/>
<rect x="223.80" y="322.40" width="3.80" height="3.80" fill="#00ff00"/>
<rect x="231.00" y="323.80" width="3.80" height="3.80" fill="#00ff00"/>
<rect x="237.40" y="324.50" width="3.80" height="3.80" fill="#00ff00"/>
<path d="M39.50,315.00L44.30,315.00L41.90,310.17Z" fill="#ff0000"/>
<path d="M55.00,315.30L59.80,315.30L57.40,310.47Z" fill="#ff0000"/>
<path d="M62.60,316.20L67.40,316.20L65.00,311.37Z" fill="#ff0000"/>
<path d="M70.20,315.40L75.00,315.40L72.60,310.57Z" fill="#ff0000"/>
<path d="M76.20,316.50L81.00,316.50L78.60,311.67Z" fill="#ff0000"/>
<path d="M85.70,317.30L90.50,317.30L88.10,312.47Z" fill="#ff0000"/>
<path d="M93.30,316.20L98.10,316.20L95.70,311.37Z" fill="#ff0000"/>
<path d="M99.60,316.10L104.40,316.10L102.00,311.27Z" fill="#ff0000"/>
<path d="M104.60,317.30L109.40,317.30L107.00,312.47Z" fill="#ff0000"/>
<path d="M113.30,317.70L118.10,317.70L115.70,312.87Z" fill="#ff0000"/>
<path d="M119.50,319.80L124.30,319.80L121.90,314.97Z" fill="#ff0000"/>
<path d="M125.30,320.10L130.10,320.10L127.70,315.27Z" fill="#ff0000"/>
<path d="M130.30,320.10L135.10,320.10L132.70,315.27Z" fill="#ff0000"/>
<path d="M134.70,321.50L139.50,321.50L137.10,316.67Z" fill="#ff0000"/>
<path d="M140.20,321.50L145.00,321.50L142.60,316.67Z" fill="#ff0000"/>
<path d="M147.10,320.10L151.90,320.10L149.50,315.27Z" fill="#ff0000"/>
<path d="M153.40,321.00L158.20,321.00L155.80,316.17Z" fill="#ff0000"/>
<path d="M158.60,322.10L163.40,322.10L161.00,317.27Z" fill="#ff0000"/>
<path d="M163.30,321.50L168.10,321.50L165.70,316.67Z" fill="#ff0000"/>
<path d="M166.90,321.50L171.70,321.50L169.30,316.67Z" fill="#ff0000"/>
<path d="M170.20,322.50L175.00,322.50L172.60,317.67Z" fill="#ff0000"/>
<path d="M176.40,325.60L181.20,325.60L178.80,320.77Z" fill="#ff0000"/>
<path d="M181.60,326.60L186.40,326.60L184.00,321.77Z" fill="#ff0000"/>
<path d="M186.20,328.70L191.00,328.70L188.60,323.87Z" fill="#ff0000"/>
<path d="M189.70,329.20L194.50,329.20L192.10,324.37Z" fill="#ff0000"/>
<path d="M193.30,329.70L198.10,329.70L195.70,324.87Z" fill="#ff0000"/>
<path d="M196.20,331.20L201.00,331.20L198.60,326.37Z" fill="#ff0000"/>
<path d="M199.00,331.60L203.80,331.60L201.40,326.77Z" fill="#ff0000"/>
<path d="M201.90,331.20L206.70,331.20L204.30,326.37Z" fill="#ff0000"/>
<path d="M204.70,331.60L209.50,331.60L207.10,326.77Z" fill="#ff0000"/>
<path d="M207.60,331.20L212.40,331.20L210.00,326.37Z" fill="#ff0000"/>
<path d="M209.70,330.60L214.50,330.60L212.10,325.77Z" fill="#ff0000"/>
<path d="M212.60,331.60L217.40,331.60L215.00,326.77Z" fill="#ff0000"/>
<path d="M214.70,332.30L219.50,332.30L217.10,327.47Z" fill="#ff0000"/>
<path d="M216.90,333.70L221.70,333.70L219.30,328.87Z" fill="#ff0000"/>
<path d="M223.30,333.70L228.10,333.70L225.70,328.87Z" fill="#ff0000"/>
<path d="M230.50,330.90L235.30,330.90L232.90,326.07Z" fill="#ff0000"/>
<path d="M236.90,330.60L241.70,330.60L239.30,325.77Z" fill="#ff0000"/>
<rect x="34.50" y="192.50" width="209.00" height="149.00" fill="none" stroke="#000" stroke-width="1"/>
<line x1="42.34" y1="341.50" x2="42.34" y2="339.50" stroke="#000" stroke-width="1"/>
<line x1="42.34" y1="192.50" x2="42.34" y2="194.50" stroke="#000" stroke-width="1"/>
<line x1="48.43" y1="341.50" x2="48.43" y2="339.50" stroke="#000" stroke-width="1"/>
<line x1="48.43" y1="192.50" x2="48.43" y2="194.50" stroke="#000" stroke-width="1"/>
<line x1="53.58" y1="341.50" x2="53.58" y2="339.50" stroke="#000" stroke-width="1"/>
<line x1="53.58" y1="192.50" x2="53.58" y2="194.50" stroke="#000" stroke-width="1"/>
<line x1="58.04" y1="341.50" x2="58.04" y2="339.50" stroke="#000" stroke-width="1"/>
<line x1="58.04" y1="192.50" x2="58.04" y2="194.50" stroke="#000" stroke-width="1"/>
<line x1="61.98" y1="341.50" x2="61.98" y2="339.50" stroke="#000" stroke-width="1"/>
<line x1="61.98" y1="192.50" x2="61.98" y2="194.50" stroke="#000" stroke-width="1"/>
<line x1="65.50" y1="341.50" x2="65.50" y2="338.00" stroke="#000" stroke-width="1"/>
<line x1="65.50" y1="192.50" x2="65.50" y2="196.00" stroke="#000" stroke-width="1"/>
<line x1="88.66" y1="341.50" x2="88.66" y2="339.50" stroke="#000" stroke-width="1"/>
<line x1="88.66" y1="192.50" x2="88.66" y2="194.50" stroke="#000" stroke-width="1"/>
<line x1="102.21" y1="341.50" x2="102.21" y2="339.50" stroke="#000" stroke-width="1"/>
<line x1="102.21" y1="192.50" x2="102.21" y2="194.50" stroke="#000" stroke-width="1"/>
<line x1="111.83" y1="341.50" x2="111.83" y2="339.50" stroke="#000" stroke-width="1"/>
<line x1="111.83" y1="192.50" x2="111.83" y2="194.50" stroke="#000" stroke-width="1"/>
<line x1="119.29" y1="341.50" x2="119.29" y2="339.50" stroke="#000" stroke-width="1"/>
<line x1="119.29" y1="192.50" x2="119.29" y2="194.50" stroke="#000" stroke-width="1"/>
<line x1="125.38" y1="341.50" x2="125.38" y2="339.50" stroke="#000" stroke-width="1"/>
<line x1="125.38" y1="192.50" x2="125.38" y2="194.50" stroke="#000" stroke-width="1"/>
<line x1="130.53" y1="341.50" x2="130.53" y2="339.50" stroke="#000" stroke-width="1"/>
<line x1="130.53" y1="192.50" x2="130.53" y2="194.50" stroke="#000" stroke-width="1"/>
<line x1="134.99" y1="341.50" x2="134.99" y2="339.50" stroke="#000" stroke-width="1"/>
<line x1="134.99" y1="192.50" x2="134.99" y2="194.50" stroke="#000" stroke-width="1"/>
<line x1="138.93" y1="341.50" x2="138.93" y2="339.50" stroke="#000" stroke-width="1"/>
<line x1="138.93" y1="192.50" x2="138.93" y2="194.50" stroke="#000" stroke-width="1"/>
<line x1="142.45" y1="341.50" x2="142.45" y2="338.00" stroke="#000" stroke-width="1"/>
<line x1="142.45" y1="192.50" x2="142.45" y2="196.00" stroke="#000" stroke-width="1"/>
<line x1="165.61" y1="341.50" x2="165.61" y2="339.50" stroke="#000" stroke-width="1"/>
<line x1="165.61" y1="192.50" x2="165.61" y2="194.50" stroke="#000" stroke-width="1"/>
<line x1="179.16" y1="341.50" x2="179.16" y2="339.50" stroke="#000" stroke-width="1"/>
<line x1="179.16" y1="192.50" x2="179.16" y2="194.50" stroke="#000" stroke-width="1"/>
<line x1="188.78" y1="341.50" x2="188.78" y2="339.50" stroke="#000" stroke-width="1"/>
<line x1="188.78" y1="192.50" x2="188.78" y2="194.50" stroke="#000" stroke-width="1"/>
<line x1="196.24" y1="341.50" x2="196.24" y2="339.50" stroke="#000" stroke-width="1"/>
<line x1="196.24" y1="192.50" x2="196.24" y2="194.50" stroke="#000" stroke-width="1"/>
<line x1="202.33" y1="341.50" x2="202.33" y2="339.50" stroke="#000" stroke-width="1"/>
<line x1="202.33" y1="192.50" x2="202.33" y2="194.50" stroke="#000" stroke-width="1"/>
<line x1="207.48" y1="341.50" x2="207.48" y2="339.50" stroke="#000" stroke-width="1"/>
<line x1="207.48" y1="192.50" x2="207.48" y2="194.50" stroke="#000" stroke-width="1"/>
<line x1="211.94" y1="341.50" x2="211.94" y2="339.50" stroke="#000" stroke-width="1"/>
<line x1="211.94" y1="192.50" x2="211.94" y2="194.50" stroke="#000" stroke-width="1"/>
<line x1="215.88" y1="341.50" x2="215.88" y2="339.50" stroke="#000" stroke-width="1"/>
<line x1="215.88" y1="192.50" x2="215.88" y2="194.50" stroke="#000" stroke-width="1"/>
<line x1="219.40" y1="341.50" x2="219.40" y2="338.00" stroke="#000" stroke-width="1"/>
<line x1="219.40" y1="192.50" x2="219.40" y2="196.00" stroke="#000" stroke-width="1"/>
<line x1="242.56" y1="341.50" x2="242.56" y2="339.50" stroke="#000" stroke-width="1"/>
<line x1="242.56" y1="192.50" x2="242.56" y2="194.50" stroke="#000" stroke-width="1"/>
<line x1="34.50" y1="326.60" x2="38.00" y2="326.60" stroke="#000" stroke-width="1"/>
<line x1="243.50" y1="326.60" x2="240.00" y2="326.60" stroke="#000" stroke-width="1"/>
<line x1="34.50" y1="296.80" x2="38.00" y2="296.80" stroke="#000" stroke-width="1"/>
<line x1="243.50" y1="296.80" x2="240.00" y2="296.80" stroke="#000" stroke-width="1"/>
<line x1="34.50" y1="267.00" x2="38.00" y2="267.00" stroke="#000" stroke-width="1"/>
<line x1="243.50" y1="267.00" x2="240.00" y2="267.00" stroke="#000" stroke-width="1"/>
<line x1="34.50" y1="237.20" x2="38.00" y2="237.20" stroke="#000" stroke-width="1"/>
<line x1="243.50" y1="237.20" x2="240.00" y2="237.20" stroke="#000" stroke-width="1"/>
<line x1="34.50" y1="207.40" x2="38.00" y2="207.40" stroke="#000" stroke-width="1"/>
<line x1="243.50" y1="207.40" x2="240.00" y2="207.40" stroke="#000" stroke-width="1"/>
<circle cx="149.90" cy="207.70" r="3.5" fill="#000"/>
<rect x="146.50" y="214.80" width="6.8" height="6.8" fill="#00ff00"/>
<path d="M145.20,232.30L154.60,232.30L149.90,223.90Z" fill="#ff0000"/>
<line x1="299.40" y1="284.60" x2="299.40" y2="288.60" stroke="#000" stroke-width="1"/>
<line x1="297.80" y1="284.60" x2="301.00" y2="284.60" stroke="#000" stroke-width="1"/>
<line x1="297.80" y1="288.60" x2="301.00" y2="288.60" stroke="#000" stroke-width="1"/>
<line x1="315.60" y1="294.70" x2="315.60" y2="298.70" stroke="#000" stroke-width="1"/>
<line x1="314.00" y1="294.70" x2="317.20" y2="294.70" stroke="#000" stroke-width="1"/>
<line x1="314.00" y1="298.70" x2="317.20" y2="298.70" stroke="#000" stroke-width="1"/>
<line x1="323.10" y1="289.30" x2="323.10" y2="293.30" stroke="#000" stroke-width="1"/>
<line x1="321.50" y1="289.30" x2="324.70" y2="289.30" stroke="#000" stroke-width="1"/>
<line x1="321.50" y1="293.30" x2="324.70" y2="293.30" stroke="#000" stroke-width="1"/>
<line x1="330.40" y1="289.40" x2="330.40" y2="293.40" stroke="#000" stroke-width="1"/>
<line x1="328.80" y1="289.40" x2="332.00" y2="289.40" stroke="#000" stroke-width="1"/>
<line x1="328.80" y1="293.40" x2="332.00" y2="293.40" stroke="#000" stroke-width="1"/>
<line x1="336.50" y1="290.40" x2="336.50" y2="294.40" stroke="#000" stroke-width="1"/>
<line x1="334.90" y1="290.40" x2="338.10" y2="290.40" stroke="#000" stroke-width="1"/>
<line x1="334.90" y1="294.40" x2="338.10" y2="294.40" stroke="#000" stroke-width="1"/>
<line x1="346.00" y1="290.10" x2="346.00" y2="294.10" stroke="#000" stroke-width="1"/>
<line x1="344.40" y1="290.10" x2="347.60" y2="290.10" stroke="#000" stroke-width="1"/>
<line x1="344.40" y1="294.10" x2="347.60" y2="294.10" stroke="#000" stroke-width="1"/>
<line x1="353.70" y1="293.00" x2="353.70" y2="297.00" stroke="#000" stroke-width="1"/>
<line x1="352.10" y1="293.00" x2="355.30" y2="293.00" stroke="#000" stroke-width="1"/>
<line x1="352.10" y1="297.00" x2="355.30" y2="297.00" stroke="#000" stroke-width="1"/>
<line x1="359.70" y1="294.50" x2="359.70" y2="298.50" stroke="#000" stroke-width="1"/>
<line x1="358.10" y1="294.50" x2="361.30" y2="294.50" stroke="#000" stroke-width="1"/>
<line x1="358.10" y1="298.50" x2="361.30" y2="298.50" stroke="#000" stroke-width="1"/>
<line x1="365.00" y1="294.70" x2="365.00" y2="298.70" stroke="#000" stroke-width="1"/>
<line x1="363.40" y1="294.70" x2="366.60" y2="294.70" stroke="#000" stroke-width="1"/>
<line x1="363.40" y1="298.70" x2="366.60" y2="298.70" stroke="#000" stroke-width="1"/>
<line x1="373.20" y1="295.20" x2="373.20" y2="299.20" stroke="#000" stroke-width="1"/>
<line x1="371.60" y1="295.20" x2="374.80" y2="295.20" stroke="#000" stroke-width="1"/>
<line x1="371.60" y1="299.20" x2="374.80" y2="299.20" stroke="#000" stroke-width="1"/>
<line x1="379.80" y1="295.20" x2="379.80" y2="299.20" stroke="#000" stroke-width="1"/>
<line x1="378.20" y1="295.20" x2="381.40" y2="295.20" stroke="#000" stroke-width="1"/>
<line x1="378.20" y1="299.20" x2="381.40" y2="299.20" stroke="#000" stroke-width="1"/>
<line x1="385.90" y1="292.70" x2="385.90" y2="296.70" stroke="#000" stroke-width="1"/>
<line x1="384.30" y1="292.70" x2="387.50" y2="292.70" stroke="#000" stroke-width="1"/>
<line x1="384.30" y1="296.70" x2="387.50" y2="296.70" stroke="#000" stroke-width="1"/>
<line x1="390.90" y1="291.40" x2="390.90" y2="295.40" stroke="#000" stroke-width="1"/>
<line x1="389.30" y1="291.40" x2="392.50" y2="291.40" stroke="#000" stroke-width="1"/>
<line x1="389.30" y1="295.40" x2="392.50" y2="295.40" stroke="#000" stroke-width="1"/>
<line x1="394.70" y1="289.70" x2="394.70" y2="293.70" stroke="#000" stroke-width="1"/>
<line x1="393.10" y1="289.70" x2="396.30" y2="289.70" stroke="#000" stroke-width="1"/>
<line x1="393.10" y1="293.70" x2="396.30" y2="293.70" stroke="#000" stroke-width="1"/>
<line x1="400.30" y1="288.60" x2="400.30" y2="292.60" stroke="#000" stroke-width="1"/>
<line x1="398.70" y1="288.60" x2="401.90" y2="288.60" stroke="#000" stroke-width="1"/>
<line x1="398.70" y1="292.60" x2="401.90" y2="292.60" stroke="#000" stroke-width="1"/>
<line x1="407.90" y1="288.60" x2="407.90" y2="292.60" stroke="#000" stroke-width="1"/>
<line x1="406.30" y1="288.60" x2="409.50" y2="288.60" stroke="#000" stroke-width="1"/>
<line x1="406.30" y1="292.60" x2="409.50" y2="292.60" stroke="#000" stroke-width="1"/>
<line x1="414.00" y1="289.10" x2="414.00" y2="293.10" stroke="#000" stroke-width="1"/>
<line x1="412.40" y1="289.10" x2="415.60" y2="289.10" stroke="#000" stroke-width="1"/>
<line x1="412.40" y1="293.10" x2="415.60" y2="293.10" stroke="#000" stroke-width="1"/>
<line x1="418.90" y1="288.60" x2="418.90" y2="292.60" stroke="#000" stroke-width="1"/>
<line x1="417.30" y1="288.60" x2="420.50" y2="288.60" stroke="#000" stroke-width="1"/>
<line x1="417.30" y1="292.60" x2="420.50" y2="292.60" stroke="#000" stroke-width="1"/>
<line x1="423.90" y1="288.60" x2="423.90" y2="292.60" stroke="#000" stroke-width="1"/>
<line x1="422.30" y1="288.60" x2="425.50" y2="288.60" stroke="#000" stroke-width="1"/>
<line x1="422.30" y1="292.60" x2="425.50" y2="292.60" stroke="#000" stroke-width="1"/>
<line x1="427.60" y1="289.10" x2="427.60" y2="293.10" stroke="#000" stroke-width="1"/>
<line x1="426.00" y1="289.10" x2="429.20" y2="289.10" stroke="#000" stroke-width="1"/>
<line x1="426.00" y1="293.10" x2="429.20" y2="293.10" stroke="#000" stroke-width="1"/>
<line x1="431.00" y1="289.10" x2="431.00" y2="293.10" stroke="#000" stroke-width="1"/>
<line x1="429.40" y1="289.10" x2="432.60" y2="289.10" stroke="#000" stroke-width="1"/>
<line x1="429.40" y1="293.10" x2="432.60" y2="293.10" stroke="#000" stroke-width="1"/>
<line x1="437.10" y1="286.90" x2="437.10" y2="290.90" stroke="#000" stroke-width="1"/>
<line x1="435.50" y1="286.90" x2="438.70" y2="286.90" stroke="#000" stroke-width="1"/>
<line x1="435.50" y1="290.90" x2="438.70" y2="290.90" stroke="#000" stroke-width="1"/>
<line x1="441.80" y1="285.20" x2="441.80" y2="289.20" stroke="#000" stroke-width="1"/>
<line x1="440.20" y1="285.20" x2="443.40" y2="285.20" stroke="#000" stroke-width="1"/>
<line x1="440.20" y1="289.20" x2="443.40" y2="289.20" stroke="#000" stroke-width="1"/>
<line x1="446.60" y1="283.40" x2="446.60" y2="287.40" stroke="#000" stroke-width="1"/>
<line x1="445.00" y1="283.40" x2="448.20" y2="283.40" stroke="#000" stroke-width="1"/>
<line x1="445.00" y1="287.40" x2="448.20" y2="287.40" stroke="#000" stroke-width="1"/>
<line x1="450.70" y1="283.80" x2="450.70" y2="287.80" stroke="#000" stroke-width="1"/>
<line x1="449.10" y1="283.80" x2="452.30" y2="283.80" stroke="#000" stroke-width="1"/>
<line x1="449.10" y1="287.80" x2="452.30" y2="287.80" stroke="#000" stroke-width="1"/>
<line x1="454.00" y1="285.20" x2="454.00" y2="289.20" stroke="#000" stroke-width="1"/>
<line x1="452.40" y1="285.20" x2="455.60" y2="285.20" stroke="#000" stroke-width="1"/>
<line x1="452.40" y1="289.20" x2="455.60" y2="289.20" stroke="#000" stroke-width="1"/>
<line x1="457.60" y1="284.40" x2="457.60" y2="288.40" stroke="#000" stroke-width="1"/>
<line x1="456.00" y1="284.40" x2="459.20" y2="284.40" stroke="#000" stroke-width="1"/>
<line x1="456.00" y1="288.40" x2="459.20" y2="288.40" stroke="#000" stroke-width="1"/>
<line x1="460.60" y1="285.20" x2="460.60" y2="289.20" stroke="#000" stroke-width="1"/>
<line x1="459.00" y1="285.20" x2="462.20" y2="285.20" stroke="#000" stroke-width="1"/>
<line x1="459.00" y1="289.20" x2="462.20" y2="289.20" stroke="#000" stroke-width="1"/>
<line x1="463.40" y1="286.20" x2="463.40" y2="290.20" stroke="#000" stroke-width="1"/>
<line x1="461.80" y1="286.20" x2="465.00" y2="286.20" stroke="#000" stroke-width="1"/>
<line x1="461.80" y1="290.20" x2="465.00" y2="290.20" stroke="#000" stroke-width="1"/>
<line x1="466.10" y1="287.10" x2="466.10" y2="291.10" stroke="#000" stroke-width="1"/>
<line x1="464.50" y1="287.10" x2="467.70" y2="287.10" stroke="#000" stroke-width="1"/>
<line x1="464.50" y1="291.10" x2="467.70" y2="291.10" stroke="#000" stroke-width="1"/>
<line x1="468.90" y1="288.00" x2="468.90" y2="292.00" stroke="#000" stroke-width="1"/>
<line x1="467.30" y1="288.00" x2="470.50" y2="288.00" stroke="#000" stroke-width="1"/>
<line x1="467.30" y1="292.00" x2="470.50" y2="292.00" stroke="#000" stroke-width="1"/>
<line x1="471.30" y1="289.30" x2="471.30" y2="293.30" stroke="#000" stroke-width="1"/>
<line x1="469.70" y1="289.30" x2="472.90" y2="289.30" stroke="#000" stroke-width="1"/>
<line x1="469.70" y1="293.30" x2="472.90" y2="293.30" stroke="#000" stroke-width="1"/>
<line x1="474.10" y1="289.90" x2="474.10" y2="293.90" stroke="#000" stroke-width="1"/>
<line x1="472.50" y1="289.90" x2="475.70" y2="289.90" stroke="#000" stroke-width="1"/>
<line x1="472.50" y1="293.90" x2="475.70" y2="293.90" stroke="#000" stroke-width="1"/>
<line x1="476.80" y1="290.70" x2="476.80" y2="294.70" stroke="#000" stroke-width="1"/>
<line x1="475.20" y1="290.70" x2="478.40" y2="290.70" stroke="#000" stroke-width="1"/>
<line x1="475.20" y1="294.70" x2="478.40" y2="294.70" stroke="#000" stroke-width="1"/>
<line x1="483.70" y1="290.30" x2="483.70" y2="294.30" stroke="#000" stroke-width="1"/>
<line x1="482.10" y1="290.30" x2="485.30" y2="290.30" stroke="#000" stroke-width="1"/>
<line x1="482.10" y1="294.30" x2="485.30" y2="294.30" stroke="#000" stroke-width="1"/>
<line x1="490.90" y1="293.10" x2="490.90" y2="297.10" stroke="#000" stroke-width="1"/>
<line x1="489.30" y1="293.10" x2="492.50" y2="293.10" stroke="#000" stroke-width="1"/>
<line x1="489.30" y1="297.10" x2="492.50" y2="297.10" stroke="#000" stroke-width="1"/>
<line x1="496.60" y1="294.00" x2="496.60" y2="298.00" stroke="#000" stroke-width="1"/>
<line x1="495.00" y1="294.00" x2="498.20" y2="294.00" stroke="#000" stroke-width="1"/>
<line x1="495.00" y1="298.00" x2="498.20" y2="298.00" stroke="#000" stroke-width="1"/>
<line x1="500.40" y1="292.00" x2="500.40" y2="296.00" stroke="#000" stroke-width="1"/>
<line x1="498.80" y1="292.00" x2="502.00" y2="292.00" stroke="#000" stroke-width="1"/>
<line x1="498.80" y1="296.00" x2="502.00" y2="296.00" stroke="#000" stroke-width="1"/>
<line x1="299.40" y1="324.90" x2="299.40" y2="327.90" stroke="#00ff00" stroke-width="1"/>
<line x1="297.80" y1="324.90" x2="301.00" y2="324.90" stroke="#00ff00" stroke-width="1"/>
<line x1="297.80" y1="327.90" x2="301.00" y2="327.90" stroke="#00ff00" stroke-width="1"/>
<line x1="315.60" y1="321.40" x2="315.60" y2="324.40" stroke="#00ff00" stroke-width="1"/>
<line x1="314.00" y1="321.40" x2="317.20" y2="321.40" stroke="#00ff00" stroke-width="1"/>
<line x1="314.00" y1="324.40" x2="317.20" y2="324.40" stroke="#00ff00" stroke-width="1"/>
<line x1="323.10" y1="319.60" x2="323.10" y2="322.60" stroke="#00ff00" stroke-width="1"/>
<line x1="321.50" y1="319.60" x2="324.70" y2="319.60" stroke="#00ff00" stroke-width="1"/>
<line x1="321.50" y1="322.60" x2="324.70" y2="322.60" stroke="#00ff00" stroke-width="1"/>
<line x1="330.30" y1="312.30" x2="330.30" y2="316.30" stroke="#00ff00" stroke-width="1"/>
<line x1="328.70" y1="312.30" x2="331.90" y2="312.30" stroke="#00ff00" stroke-width="1"/>
<line x1="328.70" y1="316.30" x2="331.90" y2="316.30" stroke="#00ff00" stroke-width="1"/>
<line x1="336.60" y1="310.90" x2="336.60" y2="314.90" stroke="#00ff00" stroke-width="1"/>
<line x1="335.00" y1="310.90" x2="338.20" y2="310.90" stroke="#00ff00" stroke-width="1"/>
<line x1="335.00" y1="314.90" x2="338.20" y2="314.90" stroke="#00ff00" stroke-width="1"/>
<line x1="346.00" y1="306.70" x2="346.00" y2="310.70" stroke="#00ff00" stroke-width="1"/>
<line x1="344.40" y1="306.70" x2="347.60" y2="306.70" stroke="#00ff00" stroke-width="1"/>
<line x1="344.40" y1="310.70" x2="347.60" y2="310.70" stroke="#00ff00" stroke-width="1"/>
<line x1="353.60" y1="303.40" x2="353.60" y2="307.40" stroke="#00ff00" stroke-width="1"/>
<line x1="352.00" y1="303.40" x2="355.20" y2="303.40" stroke="#00ff00" stroke-width="1"/>
<line x1="352.00" y1="307.40" x2="355.20" y2="307.40" stroke="#00ff00" stroke-width="1"/>
<line x1="359.80" y1="302.80" x2="359.80" y2="306.80" stroke="#00ff00" stroke-width="1"/>
<line x1="358.20" y1="302.80" x2="361.40" y2="302.80" stroke="#00ff00" stroke-width="1"/>
<line x1="358.20" y1="306.80" x2="361.40" y2="306.80" stroke="#00ff00" stroke-width="1"/>
<line x1="365.00" y1="302.50" x2="365.00" y2="306.50" stroke="#00ff00" stroke-width="1"/>
<line x1="363.40" y1="302.50" x2="366.60" y2="302.50" stroke="#00ff00" stroke-width="1"/>
<line x1="363.40" y1="306.50" x2="366.60" y2="306.50" stroke="#00ff00" stroke-width="1"/>
<line x1="373.20" y1="301.80" x2="373.20" y2="305.80" stroke="#00ff00" stroke-width="1"/>
<line x1="371.60" y1="301.80" x2="374.80" y2="301.80" stroke="#00ff00" stroke-width="1"/>
<line x1="371.60" y1="305.80" x2="374.80" y2="305.80" stroke="#00ff00" stroke-width="1"/>
<line x1="379.80" y1="300.90" x2="379.80" y2="304.90" stroke="#00ff00" stroke-width="1"/>
<line x1="378.20" y1="300.90" x2="381.40" y2="300.90" stroke="#00ff00" stroke-width="1"/>
<line x1="378.20" y1="304.90" x2="381.40" y2="304.90" stroke="#00ff00" stroke-width="1"/>
<line x1="385.90" y1="301.30" x2="385.90" y2="305.30" stroke="#00ff00" stroke-width="1"/>
<line x1="384.30" y1="301.30" x2="387.50" y2="301.30" stroke="#00ff00" stroke-width="1"/>
<line x1="384.30" y1="305.30" x2="387.50" y2="305.30" stroke="#00ff00" stroke-width="1"/>
<line x1="390.90" y1="302.30" x2="390.90" y2="306.30" stroke="#00ff00" stroke-width="1"/>
<line x1="389.30" y1="302.30" x2="392.50" y2="302.30" stroke="#00ff00" stroke-width="1"/>
<line x1="389.30" y1="306.30" x2="392.50" y2="306.30" stroke="#00ff00" stroke-width="1"/>
<line x1="394.70" y1="302.90" x2="394.70" y2="306.90" stroke="#00ff00" stroke-width="1"/>
<line x1="393.10" y1="302.90" x2="396.30" y2="302.90" stroke="#00ff00" stroke-width="1"/>
<line x1="393.10" y1="306.90" x2="396.30" y2="306.90" stroke="#00ff00" stroke-width="1"/>
<line x1="400.30" y1="299.30" x2="400.30" y2="303.30" stroke="#00ff00" stroke-width="1"/>
<line x1="398.70" y1="299.30" x2="401.90" y2="299.30" stroke="#00ff00" stroke-width="1"/>
<line x1="398.70" y1="303.30" x2="401.90" y2="303.30" stroke="#00ff00" stroke-width="1"/>
<line x1="407.90" y1="296.30" x2="407.90" y2="300.30" stroke="#00ff00" stroke-width="1"/>
<line x1="406.30" y1="296.30" x2="409.50" y2="296.30" stroke="#00ff00" stroke-width="1"/>
<line x1="406.30" y1="300.30" x2="409.50" y2="300.30" stroke="#00ff00" stroke-width="1"/>
<line x1="414.00" y1="291.00" x2="414.00" y2="295.00" stroke="#00ff00" stroke-width="1"/>
<line x1="412.40" y1="291.00" x2="415.60" y2="291.00" stroke="#00ff00" stroke-width="1"/>
<line x1="412.40" y1="295.00" x2="415.60" y2="295.00" stroke="#00ff00" stroke-width="1"/>
<line x1="418.90" y1="287.40" x2="418.90" y2="291.40" stroke="#00ff00" stroke-width="1"/>
<line x1="417.30" y1="287.40" x2="420.50" y2="287.40" stroke="#00ff00" stroke-width="1"/>
<line x1="417.30" y1="291.40" x2="420.50" y2="291.40" stroke="#00ff00" stroke-width="1"/>
<line x1="423.90" y1="283.60" x2="423.90" y2="287.60" stroke="#00ff00" stroke-width="1"/>
<line x1="422.30" y1="283.60" x2="425.50" y2="283.60" stroke="#00ff00" stroke-width="1"/>
<line x1="422.30" y1="287.60" x2="425.50" y2="287.60" stroke="#00ff00" stroke-width="1"/>
<line x1="427.60" y1="280.50" x2="427.60" y2="284.50" stroke="#00ff00" stroke-width="1"/>
<line x1="426.00" y1="280.50" x2="429.20" y2="280.50" stroke="#00ff00" stroke-width="1"/>
<line x1="426.00" y1="284.50" x2="429.20" y2="284.50" stroke="#00ff00" stroke-width="1"/>
<line x1="431.00" y1="277.60" x2="431.00" y2="281.60" stroke="#00ff00" stroke-width="1"/>
<line x1="429.40" y1="277.60" x2="432.60" y2="277.60" stroke="#00ff00" stroke-width="1"/>
<line x1="429.40" y1="281.60" x2="432.60" y2="281.60" stroke="#00ff00" stroke-width="1"/>
<line x1="437.10" y1="276.80" x2="437.10" y2="280.80" stroke="#00ff00" stroke-width="1"/>
<line x1="435.50" y1="276.80" x2="438.70" y2="276.80" stroke="#00ff00" stroke-width="1"/>
<line x1="435.50" y1="280.80" x2="438.70" y2="280.80" stroke="#00ff00" stroke-width="1"/>
<line x1="442.00" y1="276.00" x2="442.00" y2="280.00" stroke="#00ff00" stroke-width="1"/>
<line x1="440.40" y1="276.00" x2="443.60" y2="276.00" stroke="#00ff00" stroke-width="1"/>
<line x1="440.40" y1="280.00" x2="443.60" y2="280.00" stroke="#00ff00" stroke-width="1"/>
<line x1="446.60" y1="275.20" x2="446.60" y2="279.20" stroke="#00ff00" stroke-width="1"/>
<line x1="445.00" y1="275.20" x2="448.20" y2="275.20" stroke="#00ff00" stroke-width="1"/>
<line x1="445.00" y1="279.20" x2="448.20" y2="279.20" stroke="#00ff00" stroke-width="1"/>
<line x1="450.70" y1="275.60" x2="450.70" y2="279.60" stroke="#00ff00" stroke-width="1"/>
<line x1="449.10" y1="275.60" x2="452.30" y2="275.60" stroke="#00ff00" stroke-width="1"/>
<line x1="449.10" y1="279.60" x2="452.30" y2="279.60" stroke="#00ff00" stroke-width="1"/>
<line x1="454.00" y1="278.30" x2="454.00" y2="282.30" stroke="#00ff00" stroke-width="1"/>
<line x1="452.40" y1="278.30" x2="455.60" y2="278.30" stroke="#00ff00" stroke-width="1"/>
<line x1="452.40" y1="282.30" x2="455.60" y2="282.30" stroke="#00ff00" stroke-width="1"/>
<line x1="457.60" y1="280.00" x2="457.60" y2="284.00" stroke="#00ff00" stroke-width="1"/>
<line x1="456.00" y1="280.00" x2="459.20" y2="280.00" stroke="#00ff00" stroke-width="1"/>
<line x1="456.00" y1="284.00" x2="459.20" y2="284.00" stroke="#00ff00" stroke-width="1"/>
<line x1="460.60" y1="280.70" x2="460.60" y2="284.70" stroke="#00ff00" stroke-width="1"/>
<line x1="459.00" y1="280.70" x2="462.20" y2="280.70" stroke="#00ff00" stroke-width="1"/>
<line x1="459.00" y1="284.70" x2="462.20" y2="284.70" stroke="#00ff00" stroke-width="1"/>
<line x1="463.40" y1="280.70" x2="463.40" y2="284.70" stroke="#00ff00" stroke-width="1"/>
<line x1="461.80" y1="280.70" x2="465.00" y2="280.70" stroke="#00ff00" stroke-width="1"/>
<line x1="461.80" y1="284.70" x2="465.00" y2="284.70" stroke="#00ff00" stroke-width="1"/>
<line x1="466.10" y1="280.30" x2="466.10" y2="284.30" stroke="#00ff00" stroke-width="1"/>
<line x1="464.50" y1="280.30" x2="467.70" y2="280.30" stroke="#00ff00" stroke-width="1"/>
<line x1="464.50" y1="284.30" x2="467.70" y2="284.30" stroke="#00ff00" stroke-width="1"/>
<line x1="468.90" y1="278.90" x2="468.90" y2="282.90" stroke="#00ff00" stroke-width="1"/>
<line x1="467.30" y1="278.90" x2="470.50" y2="278.90" stroke="#00ff00" stroke-width="1"/>
<line x1="467.30" y1="282.90" x2="470.50" y2="282.90" stroke="#00ff00" stroke-width="1"/>
<line x1="471.30" y1="280.00" x2="471.30" y2="284.00" stroke="#00ff00" stroke-width="1"/>
<line x1="469.70" y1="280.00" x2="472.90" y2="280.00" stroke="#00ff00" stroke-width="1"/>
<line x1="469.70" y1="284.00" x2="472.90" y2="284.00" stroke="#00ff00" stroke-width="1"/>
<line x1="474.10" y1="282.10" x2="474.10" y2="286.10" stroke="#00ff00" stroke-width="1"/>
<line x1="472.50" y1="282.10" x2="475.70" y2="282.10" stroke="#00ff00" stroke-width="1"/>
<line x1="472.50" y1="286.10" x2="475.70" y2="286.10" stroke="#00ff00" stroke-width="1"/>
<line x1="476.80" y1="283.40" x2="476.80" y2="287.40" stroke="#00ff00" stroke-width="1"/>
<line x1="475.20" y1="283.40" x2="478.40" y2="283.40" stroke="#00ff00" stroke-width="1"/>
<line x1="475.20" y1="287.40" x2="478.40" y2="287.40" stroke="#00ff00" stroke-width="1"/>
<line x1="483.70" y1="279.40" x2="483.70" y2="287.40" stroke="#00ff00" stroke-width="1"/>
<line x1="482.10" y1="279.40" x2="485.30" y2="279.40" stroke="#00ff00" stroke-width="1"/>
<line x1="482.10" y1="287.40" x2="485.30" y2="287.40" stroke="#00ff00" stroke-width="1"/>
<line x1="490.90" y1="275.20" x2="490.90" y2="283.20" stroke="#00ff00" stroke-width="1"/>
<line x1="489.30" y1="275.20" x2="492.50" y2="275.20" stroke="#00ff00" stroke-width="1"/>
<line x1="489.30" y1="283.20" x2="492.50" y2="283.20" stroke="#00ff00" stroke-width="1"/>
<line x1="497.70" y1="277.30" x2="497.70" y2="285.30" stroke="#00ff00" stroke-width="1"/>
<line x1="496.10" y1="277.30" x2="499.30" y2="277.30" stroke="#00ff00" stroke-width="1"/>
<line x1="496.10" y1="285.30" x2="499.30" y2="285.30" stroke="#00ff00" stroke-width="1"/>
<line x1="500.40" y1="279.60" x2="500.40" y2="285.60" stroke="#00ff00" stroke-width="1"/>
<line x1="498.80" y1="279.60" x2="502.00" y2="279.60" stroke="#00ff00" stroke-width="1"/>
<line x1="498.80" y1="285.60" x2="502.00" y2="285.60" stroke="#00ff00" stroke-width="1"/>
<line x1="299.40" y1="267.50" x2="299.40" y2="271.50" stroke="#ff0000" stroke-width="1"/>
<line x1="297.80" y1="267.50" x2="301.00" y2="267.50" stroke="#ff0000" stroke-width="1"/>
<line x1="297.80" y1="271.50" x2="301.00" y2="271.50" stroke="#ff0000" stroke-width="1"/>
<line x1="315.60" y1="251.30" x2="315.60" y2="255.30" stroke="#ff0000" stroke-width="1"/>
<line x1="314.00" y1="251.30" x2="317.20" y2="251.30" stroke="#ff0000" stroke-width="1"/>
<line x1="314.00" y1="255.30" x2="317.20" y2="255.30" stroke="#ff0000" stroke-width="1"/>
<line x1="323.00" y1="250.50" x2="323.00" y2="254.50" stroke="#ff0000" stroke-width="1"/>
<line x1="321.40" y1="250.50" x2="324.60" y2="250.50" stroke="#ff0000" stroke-width="1"/>
<line x1="321.40" y1="254.50" x2="324.60" y2="254.50" stroke="#ff0000" stroke-width="1"/>
<line x1="330.40" y1="252.60" x2="330.40" y2="256.60" stroke="#ff0000" stroke-width="1"/>
<line x1="328.80" y1="252.60" x2="332.00" y2="252.60" stroke="#ff0000" stroke-width="1"/>
<line x1="328.80" y1="256.60" x2="332.00" y2="256.60" stroke="#ff0000" stroke-width="1"/>
<line x1="336.50" y1="254.90" x2="336.50" y2="258.90" stroke="#ff0000" stroke-width="1"/>
<line x1="334.90" y1="254.90" x2="338.10" y2="254.90" stroke="#ff0000" stroke-width="1"/>
<line x1="334.90" y1="258.90" x2="338.10" y2="258.90" stroke="#ff0000" stroke-width="1"/>
<line x1="346.10" y1="252.60" x2="346.10" y2="256.60" stroke="#ff0000" stroke-width="1"/>
<line x1="344.50" y1="252.60" x2="347.70" y2="252.60" stroke="#ff0000" stroke-width="1"/>
<line x1="344.50" y1="256.60" x2="347.70" y2="256.60" stroke="#ff0000" stroke-width="1"/>
<line x1="353.90" y1="252.60" x2="353.90" y2="256.60" stroke="#ff0000" stroke-width="1"/>
<line x1="352.30" y1="252.60" x2="355.50" y2="252.60" stroke="#ff0000" stroke-width="1"/>
<line x1="352.30" y1="256.60" x2="355.50" y2="256.60" stroke="#ff0000" stroke-width="1"/>
<line x1="359.60" y1="251.60" x2="359.60" y2="255.60" stroke="#ff0000" stroke-width="1"/>
<line x1="358.00" y1="251.60" x2="361.20" y2="251.60" stroke="#ff0000" stroke-width="1"/>
<line x1="358.00" y1="255.60" x2="361.20" y2="255.60" stroke="#ff0000" stroke-width="1"/>
<line x1="365.20" y1="250.40" x2="365.20" y2="254.40" stroke="#ff0000" stroke-width="1"/>
<line x1="363.60" y1="250.40" x2="366.80" y2="250.40" stroke="#ff0000" stroke-width="1"/>
<line x1="363.60" y1="254.40" x2="366.80" y2="254.40" stroke="#ff0000" stroke-width="1"/>
<line x1="373.20" y1="246.10" x2="373.20" y2="250.10" stroke="#ff0000" stroke-width="1"/>
<line x1="371.60" y1="246.10" x2="374.80" y2="246.10" stroke="#ff0000" stroke-width="1"/>
<line x1="371.60" y1="250.10" x2="374.80" y2="250.10" stroke="#ff0000" stroke-width="1"/>
<line x1="379.80" y1="242.00" x2="379.80" y2="246.00" stroke="#ff0000" stroke-width="1"/>
<line x1="378.20" y1="242.00" x2="381.40" y2="242.00" stroke="#ff0000" stroke-width="1"/>
<line x1="378.20" y1="246.00" x2="381.40" y2="246.00" stroke="#ff0000" stroke-width="1"/>
<line x1="385.90" y1="238.70" x2="385.90" y2="242.70" stroke="#ff0000" stroke-width="1"/>
<line x1="384.30" y1="238.70" x2="387.50" y2="238.70" stroke="#ff0000" stroke-width="1"/>
<line x1="384.30" y1="242.70" x2="387.50" y2="242.70" stroke="#ff0000" stroke-width="1"/>
<line x1="390.90" y1="238.70" x2="390.90" y2="242.70" stroke="#ff0000" stroke-width="1"/>
<line x1="389.30" y1="238.70" x2="392.50" y2="238.70" stroke="#ff0000" stroke-width="1"/>
<line x1="389.30" y1="242.70" x2="392.50" y2="242.70" stroke="#ff0000" stroke-width="1"/>
<line x1="394.70" y1="239.20" x2="394.70" y2="243.20" stroke="#ff0000" stroke-width="1"/>
<line x1="393.10" y1="239.20" x2="396.30" y2="239.20" stroke="#ff0000" stroke-width="1"/>
<line x1="393.10" y1="243.20" x2="396.30" y2="243.20" stroke="#ff0000" stroke-width="1"/>
<line x1="400.30" y1="242.80" x2="400.30" y2="246.80" stroke="#ff0000" stroke-width="1"/>
<line x1="398.70" y1="242.80" x2="401.90" y2="242.80" stroke="#ff0000" stroke-width="1"/>
<line x1="398.70" y1="246.80" x2="401.90" y2="246.80" stroke="#ff0000" stroke-width="1"/>
<line x1="407.90" y1="249.10" x2="407.90" y2="253.10" stroke="#ff0000" stroke-width="1"/>
<line x1="406.30" y1="249.10" x2="409.50" y2="249.10" stroke="#ff0000" stroke-width="1"/>
<line x1="406.30" y1="253.10" x2="409.50" y2="253.10" stroke="#ff0000" stroke-width="1"/>
<line x1="414.00" y1="250.20" x2="414.00" y2="254.20" stroke="#ff0000" stroke-width="1"/>
<line x1="412.40" y1="250.20" x2="415.60" y2="250.20" stroke="#ff0000" stroke-width="1"/>
<line x1="412.40" y1="254.20" x2="415.60" y2="254.20" stroke="#ff0000" stroke-width="1"/>
<line x1="418.90" y1="247.70" x2="418.90" y2="251.70" stroke="#ff0000" stroke-width="1"/>
<line x1="417.30" y1="247.70" x2="420.50" y2="247.70" stroke="#ff0000" stroke-width="1"/>
<line x1="417.30" y1="251.70" x2="420.50" y2="251.70" stroke="#ff0000" stroke-width="1"/>
<line x1="423.90" y1="249.40" x2="423.90" y2="253.40" stroke="#ff0000" stroke-width="1"/>
<line x1="422.30" y1="249.40" x2="425.50" y2="249.40" stroke="#ff0000" stroke-width="1"/>
<line x1="422.30" y1="253.40" x2="425.50" y2="253.40" stroke="#ff0000" stroke-width="1"/>
<line x1="427.20" y1="249.40" x2="427.20" y2="253.40" stroke="#ff0000" stroke-width="1"/>
<line x1="425.60" y1="249.40" x2="428.80" y2="249.40" stroke="#ff0000" stroke-width="1"/>
<line x1="425.60" y1="253.40" x2="428.80" y2="253.40" stroke="#ff0000" stroke-width="1"/>
<line x1="431.00" y1="249.10" x2="431.00" y2="253.10" stroke="#ff0000" stroke-width="1"/>
<line x1="429.40" y1="249.10" x2="432.60" y2="249.10" stroke="#ff0000" stroke-width="1"/>
<line x1="429.40" y1="253.10" x2="432.60" y2="253.10" stroke="#ff0000" stroke-width="1"/>
<line x1="437.10" y1="242.00" x2="437.10" y2="246.00" stroke="#ff0000" stroke-width="1"/>
<line x1="435.50" y1="242.00" x2="438.70" y2="242.00" stroke="#ff0000" stroke-width="1"/>
<line x1="435.50" y1="246.00" x2="438.70" y2="246.00" stroke="#ff0000" stroke-width="1"/>
<line x1="441.50" y1="240.50" x2="441.50" y2="244.50" stroke="#ff0000" stroke-width="1"/>
<line x1="439.90" y1="240.50" x2="443.10" y2="240.50" stroke="#ff0000" stroke-width="1"/>
<line x1="439.90" y1="244.50" x2="443.10" y2="244.50" stroke="#ff0000" stroke-width="1"/>
<line x1="446.60" y1="235.90" x2="446.60" y2="239.90" stroke="#ff0000" stroke-width="1"/>
<line x1="445.00" y1="235.90" x2="448.20" y2="235.90" stroke="#ff0000" stroke-width="1"/>
<line x1="445.00" y1="239.90" x2="448.20" y2="239.90" stroke="#ff0000" stroke-width="1"/>
<line x1="450.70" y1="238.60" x2="450.70" y2="242.60" stroke="#ff0000" stroke-width="1"/>
<line x1="449.10" y1="238.60" x2="452.30" y2="238.60" stroke="#ff0000" stroke-width="1"/>
<line x1="449.10" y1="242.60" x2="452.30" y2="242.60" stroke="#ff0000" stroke-width="1"/>
<line x1="453.70" y1="238.30" x2="453.70" y2="242.30" stroke="#ff0000" stroke-width="1"/>
<line x1="452.10" y1="238.30" x2="455.30" y2="238.30" stroke="#ff0000" stroke-width="1"/>
<line x1="452.10" y1="242.30" x2="455.30" y2="242.30" stroke="#ff0000" stroke-width="1"/>
<line x1="457.20" y1="235.60" x2="457.20" y2="239.60" stroke="#ff0000" stroke-width="1"/>
<line x1="455.60" y1="235.60" x2="458.80" y2="235.60" stroke="#ff0000" stroke-width="1"/>
<line x1="455.60" y1="239.60" x2="458.80" y2="239.60" stroke="#ff0000" stroke-width="1"/>
<line x1="460.30" y1="238.60" x2="460.30" y2="242.60" stroke="#ff0000" stroke-width="1"/>
<line x1="458.70" y1="238.60" x2="461.90" y2="238.60" stroke="#ff0000" stroke-width="1"/>
<line x1="458.70" y1="242.60" x2="461.90" y2="242.60" stroke="#ff0000" stroke-width="1"/>
<line x1="463.10" y1="241.40" x2="463.10" y2="245.40" stroke="#ff0000" stroke-width="1"/>
<line x1="461.50" y1="241.40" x2="464.70" y2="241.40" stroke="#ff0000" stroke-width="1"/>
<line x1="461.50" y1="245.40" x2="464.70" y2="245.40" stroke="#ff0000" stroke-width="1"/>
<line x1="465.40" y1="243.80" x2="465.40" y2="247.80" stroke="#ff0000" stroke-width="1"/>
<line x1="463.80" y1="243.80" x2="467.00" y2="243.80" stroke="#ff0000" stroke-width="1"/>
<line x1="463.80" y1="247.80" x2="467.00" y2="247.80" stroke="#ff0000" stroke-width="1"/>
<line x1="467.50" y1="246.20" x2="467.50" y2="250.20" stroke="#ff0000" stroke-width="1"/>
<line x1="465.90" y1="246.20" x2="469.10" y2="246.20" stroke="#ff0000" stroke-width="1"/>
<line x1="465.90" y1="250.20" x2="469.10" y2="250.20" stroke="#ff0000" stroke-width="1"/>
<line x1="469.60" y1="248.50" x2="469.60" y2="252.50" stroke="#ff0000" stroke-width="1"/>
<line x1="468.00" y1="248.50" x2="471.20" y2="248.50" stroke="#ff0000" stroke-width="1"/>
<line x1="468.00" y1="252.50" x2="471.20" y2="252.50" stroke="#ff0000" stroke-width="1"/>
<line x1="472.30" y1="249.30" x2="472.30" y2="253.30" stroke="#ff0000" stroke-width="1"/>
<line x1="470.70" y1="249.30" x2="473.90" y2="249.30" stroke="#ff0000" stroke-width="1"/>
<line x1="470.70" y1="253.30" x2="473.90" y2="253.30" stroke="#ff0000" stroke-width="1"/>
<line x1="474.40" y1="250.30" x2="474.40" y2="254.30" stroke="#ff0000" stroke-width="1"/>
<line x1="472.80" y1="250.30" x2="476.00" y2="250.30" stroke="#ff0000" stroke-width="1"/>
<line x1="472.80" y1="254.30" x2="476.00" y2="254.30" stroke="#ff0000" stroke-width="1"/>
<line x1="476.80" y1="251.30" x2="476.80" y2="255.30" stroke="#ff0000" stroke-width="1"/>
<line x1="475.20" y1="251.30" x2="478.40" y2="251.30" stroke="#ff0000" stroke-width="1"/>
<line x1="475.20" y1="255.30" x2="478.40" y2="255.30" stroke="#ff0000" stroke-width="1"/>
<line x1="483.70" y1="256.20" x2="483.70" y2="260.20" stroke="#ff0000" stroke-width="1"/>
<line x1="482.10" y1="256.20" x2="485.30" y2="256.20" stroke="#ff0000" stroke-width="1"/>
<line x1="482.10" y1="260.20" x2="485.30" y2="260.20" stroke="#ff0000" stroke-width="1"/>
<line x1="490.90" y1="260.90" x2="490.90" y2="264.90" stroke="#ff0000" stroke-width="1"/>
<line x1="489.30" y1="260.90" x2="492.50" y2="260.90" stroke="#ff0000" stroke-width="1"/>
<line x1="489.30" y1="264.90" x2="492.50" y2="264.90" stroke="#ff0000" stroke-width="1"/>
<line x1="498.40" y1="265.60" x2="498.40" y2="269.60" stroke="#ff0000" stroke-width="1"/>
<line x1="496.80" y1="265.60" x2="500.00" y2="265.60" stroke="#ff0000" stroke-width="1"/>
<line x1="496.80" y1="269.60" x2="500.00" y2="269.60" stroke="#ff0000" stroke-width="1"/>
<line x1="500.40" y1="266.20" x2="500.40" y2="270.20" stroke="#ff0000" stroke-width="1"/>
<line x1="498.80" y1="266.20" x2="502.00" y2="266.20" stroke="#ff0000" stroke-width="1"/>
<line x1="498.80" y1="270.20" x2="502.00" y2="270.20" stroke="#ff0000" stroke-width="1"/>
<circle cx="299.40" cy="286.60" r="1.75" fill="#000"/>
<circle cx="315.60" cy="296.70" r="1.75" fill="#000"/>
<circle cx="323.10" cy="291.30" r="1.75" fill="#000"/>
<circle cx="330.40" cy="291.40" r="1.75" fill="#000"/>
<circle cx="336.50" cy="292.40" r="1.75" fill="#000"/>
<circle cx="346.00" cy="292.10" r="1.75" fill="#000"/>
<circle cx="353.70" cy="295.00" r="1.75" fill="#000"/>
<circle cx="359.70" cy="296.50" r="1.75" fill="#000"/>
<circle cx="365.00" cy="296.70" r="1.75" fill="#000"/>
<circle cx="373.20" cy="297.20" r="1.75" fill="#000"/>
<circle cx="379.80" cy="297.20" r="1.75" fill="#000"/>
<circle cx="385.90" cy="294.70" r="1.75" fill="#000"/>
<circle cx="390.90" cy="293.40" r="1.75" fill="#000"/>
<circle cx="394.70" cy="291.70" r="1.75" fill="#000"/>
<circle cx="400.30" cy="290.60" r="1.75" fill="#000"/>
<circle cx="407.90" cy="290.60" r="1.75" fill="#000"/>
<circle cx="414.00" cy="291.10" r="1.75" fill="#000"/>
<circle cx="418.90" cy="290.60" r="1.75" fill="#000"/>
<circle cx="423.90" cy="290.60" r="1.75" fill="#000"/>
<circle cx="427.60" cy="291.10" r="1.75" fill="#000"/>
<circle cx="431.00" cy="291.10" r="1.75" fill="#000"/>
<circle cx="437.10" cy="288.90" r="1.75" fill="#000"/>
<circle cx="441.80" cy="287.20" r="1.75" fill="#000"/>
<circle cx="446.60" cy="285.40" r="1.75" fill="#000"/>
<circle cx="450.70" cy="285.80" r="1.75" fill="#000"/>
<circle cx="454.00" cy="287.20" r="1.75" fill="#000"/>
<circle cx="457.60" cy="286.40" r="1.75" fill="#000"/>
<circle cx="460.60" cy="287.20" r="1.75" fill="#000"/>
<circle cx="463.40" cy="288.20" r="1.75" fill="#000"/>
<circle cx="466.10" cy="289.10" r="1.75" fill="#000"/>
<circle cx="468.90" cy="290.00" r="1.75" fill="#000"/>
<circle cx="471.30" cy="291.30" r="1.75" fill="#000"/>
<circle cx="474.10" cy="291.90" r="1.75" fill="#000"/>
<circle cx="476.80" cy="292.70" r="1.75" fill="#000"/>
<circle cx="483.70" cy="292.30" r="1.75" fill="#000"/>
<circle cx="490.90" cy="295.10" r="1.75" fill="#000"/>
<circle cx="496.60" cy="296.00" r="1.75" fill="#000"/>
<circle cx="500.40" cy="294.00" r="1.75" fill="#000"/>
<rect x="297.50" y="324.50" width="3.80" height="3.80" fill="#00ff00"/>
<rect x="313.70" y="321.00" width="3.80" height="3.80" fill="#00ff00"/>
<rect x="321.20" y="319.20" width="3.80" height="3.80" fill="#00ff00"/>
<rect x="328.40" y="312.40" width="3.80" height="3.80" fill="#00ff00"/>
<rect x="334.70" y="311.00" width="3.80" height="3.80" fill="#00ff00"/>
<rect x="344.10" y="306.80" width="3.80" height="3.80" fill="#00ff00"/>
<rect x="351.70" y="303.50" width="3.80" height="3.80" fill="#00ff00"/>
<rect x="357.90" y="302.90" width="3.80" height="3.80" fill="#00ff00"/>
<rect x="363.10" y="302.60" width="3.80" height="3.80" fill="#00ff00"/>
<rect x="371.30" y="301.90" width="3.80" height="3.80" fill="#00ff00"/>
<rect x="377.90" y="301.00" width="3.80" height="3.80" fill="#00ff00"/>
<rect x="384.00" y="301.40" width="3.80" height="3.80" fill="#00ff00"/>
<rect x="389.00" y="302.40" width="3.80" height="3.80" fill="#00ff00"/>
<rect x="392.80" y="303.00" width="3.80" height="3.80" fill="#00ff00"/>
<rect x="398.40" y="299.40" width="3.80" height="3.80" fill="#00ff00"/>
<rect x="406.00" y="296.40" width="3.80" height="3.80" fill="#00ff00"/>
<rect x="412.10" y="291.10" width="3.80" height="3.80" fill="#00ff00"/>
<rect x="417.00" y="287.50" width="3.80" height="3.80" fill="#00ff00"/>
<rect x="422.00" y="283.70" width="3.80" height="3.80" fill="#00ff00"/>
<rect x="425.70" y="280.60" width="3.80" height="3.80" fill="#00ff00"/>
<rect x="429.10" y="277.70" width="3.80" height="3.80" fill="#00ff00"/>
<rect x="435.20" y="276.90" width="3.80" height="3.80" fill="#00ff00"/>
<rect x="440.10" y="276.10" width="3.80" height="3.80" fill="#00ff00"/>
<rect x="444.70" y="275.30" width="3.80" height="3.80" fill="#00ff00"/>
<rect x="448.80" y="275.70" width="3.80" height="3.80" fill="#00ff00"/>
<rect x="452.10" y="278.40" width="3.80" height="3.80" fill="#00ff00"/>
<rect x="455.70" y="280.10" width="3.80" height="3.80" fill="#00ff00"/>
<rect x="458.70" y="280.80" width="3.80" height="3.80" fill="#00ff00"/>
<rect x="461.50" y="280.80" width="3.80" height="3.80" fill="#00ff00"/>
<rect x="464.20" y="280.40" width="3.80" height="3.80" fill="#00ff00"/>
<rect x="467.00" y="279.00" width="3.80" height="3.80" fill="#00ff00"/>
<rect x="469.40" y="280.10" width="3.80" height="3.80" fill="#00ff00"/>
<rect x="472.20" y="282.20" width="3.80" height="3.80" fill="#00ff00"/>
<rect x="474.90" y="283.50" width="3.80" height="3.80" fill="#00ff00"/>
<rect x="481.80" y="281.50" width="3.80" height="3.80" fill="#00ff00"/>
<rect x="489.00" y="277.30" width="3.80" height="3.80" fill="#00ff00"/>
<rect x="495.80" y="279.40" width="3.80" height="3.80" fill="#00ff00"/>
<rect x="498.50" y="280.70" width="3.80" height="3.80" fill="#00ff00"/>
<path d="M297.00,271.80L301.80,271.80L299.40,266.97Z" fill="#ff0000"/>
<path d="M313.20,255.60L318.00,255.60L315.60,250.77Z" fill="#ff0000"/>
<path d="M320.60,254.80L325.40,254.80L323.00,249.97Z" fill="#ff0000"/>
<path d="M328.00,256.90L332.80,256.90L330.40,252.07Z" fill="#ff0000"/>
<path d="M334.10,259.20L338.90,259.20L336.50,254.37Z" fill="#ff0000"/>
<path d="M343.70,256.90L348.50,256.90L346.10,252.07Z" fill="#ff0000"/>
<path d="M351.50,256.90L356.30,256.90L353.90,252.07Z" fill="#ff0000"/>
<path d="M357.20,255.90L362.00,255.90L359.60,251.07Z" fill="#ff0000"/>
<path d="M362.80,254.70L367.60,254.70L365.20,249.87Z" fill="#ff0000"/>
<path d="M370.80,250.40L375.60,250.40L373.20,245.57Z" fill="#ff0000"/>
<path d="M377.40,246.30L382.20,246.30L379.80,241.47Z" fill="#ff0000"/>
<path d="M383.50,243.00L388.30,243.00L385.90,238.17Z" fill="#ff0000"/>
<path d="M388.50,243.00L393.30,243.00L390.90,238.17Z" fill="#ff0000"/>
<path d="M392.30,243.50L397.10,243.50L394.70,238.67Z" fill="#ff0000"/>
<path d="M397.90,247.10L402.70,247.10L400.30,242.27Z" fill="#ff0000"/>
<path d="M405.50,253.40L410.30,253.40L407.90,248.57Z" fill="#ff0000"/>
<path d="M411.60,254.50L416.40,254.50L414.00,249.67Z" fill="#ff0000"/>
<path d="M416.50,252.00L421.30,252.00L418.90,247.17Z" fill="#ff0000"/>
<path d="M421.50,253.70L426.30,253.70L423.90,248.87Z" fill="#ff0000"/>
<path d="M424.80,253.70L429.60,253.70L427.20,248.87Z" fill="#ff0000"/>
<path d="M428.60,253.40L433.40,253.40L431.00,248.57Z" fill="#ff0000"/>
<path d="M434.70,246.30L439.50,246.30L437.10,241.47Z" fill="#ff0000"/>
<path d="M439.10,244.80L443.90,244.80L441.50,239.97Z" fill="#ff0000"/>
<path d="M444.20,240.20L449.00,240.20L446.60,235.37Z" fill="#ff0000"/>
<path d="M448.30,242.90L453.10,242.90L450.70,238.07Z" fill="#ff0000"/>
<path d="M451.30,242.60L456.10,242.60L453.70,237.77Z" fill="#ff0000"/>
<path d="M454.80,239.90L459.60,239.90L457.20,235.07Z" fill="#ff0000"/>
<path d="M457.90,242.90L462.70,242.90L460.30,238.07Z" fill="#ff0000"/>
<path d="M460.70,245.70L465.50,245.70L463.10,240.87Z" fill="#ff0000"/>
<path d="M463.00,248.10L467.80,248.10L465.40,243.27Z" fill="#ff0000"/>
<path d="M465.10,250.50L469.90,250.50L467.50,245.67Z" fill="#ff0000"/>
<path d="M467.20,252.80L472.00,252.80L469.60,247.97Z" fill="#ff0000"/>
<path d="M469.90,253.60L474.70,253.60L472.30,248.77Z" fill="#ff0000"/>
<path d="M472.00,254.60L476.80,254.60L474.40,249.77Z" fill="#ff0000"/>
<path d="M474.40,255.60L479.20,255.60L476.80,250.77Z" fill="#ff0000"/>
<path d="M481.30,260.50L486.10,260.50L483.70,255.67Z" fill="#ff0000"/>
<path d="M488.50,265.20L493.30,265.20L490.90,260.37Z" fill="#ff0000"/>
<path d="M496.00,269.90L500.80,269.90L498.40,265.07Z" fill="#ff0000"/>
<path d="M498.00,270.50L502.80,270.50L500.40,265.67Z" fill="#ff0000"/>
<rect x="292.50" y="192.50" width="208.20" height="149.00" fill="none" stroke="#000" stroke-width="1"/>
<line x1="300.34" y1="341.50" x2="300.34" y2="339.50" stroke="#000" stroke-width="1"/>
<line x1="300.34" y1="192.50" x2="300.34" y2="194.50" stroke="#000" stroke-width="1"/>
<line x1="306.43" y1="341.50" x2="306.43" y2="339.50" stroke="#000" stroke-width="1"/>
<line x1="306.43" y1="192.50" x2="306.43" y2="194.50" stroke="#000" stroke-width="1"/>
<line x1="311.58" y1="341.50" x2="311.58" y2="339.50" stroke="#000" stroke-width="1"/>
<line x1="311.58" y1="192.50" x2="311.58" y2="194.50" stroke="#000" stroke-width="1"/>
<line x1="316.04" y1="341.50" x2="316.04" y2="339.50" stroke="#000" stroke-width="1"/>
<line x1="316.04" y1="192.50" x2="316.04" y2="194.50" stroke="#000" stroke-width="1"/>
<line x1="319.98" y1="341.50" x2="319.98" y2="339.50" stroke="#000" stroke-width="1"/>
<line x1="319.98" y1="192.50" x2="319.98" y2="194.50" stroke="#000" stroke-width="1"/>
<line x1="323.50" y1="341.50" x2="323.50" y2="338.00" stroke="#000" stroke-width="1"/>
<line x1="323.50" y1="192.50" x2="323.50" y2="196.00" stroke="#000" stroke-width="1"/>
<line x1="346.66" y1="341.50" x2="346.66" y2="339.50" stroke="#000" stroke-width="1"/>
<line x1="346.66" y1="192.50" x2="346.66" y2="194.50" stroke="#000" stroke-width="1"/>
<line x1="360.21" y1="341.50" x2="360.21" y2="339.50" stroke="#000" stroke-width="1"/>
<line x1="360.21" y1="192.50" x2="360.21" y2="194.50" stroke="#000" stroke-width="1"/>
<line x1="369.83" y1="341.50" x2="369.83" y2="339.50" stroke="#000" stroke-width="1"/>
<line x1="369.83" y1="192.50" x2="369.83" y2="194.50" stroke="#000" stroke-width="1"/>
<line x1="377.29" y1="341.50" x2="377.29" y2="339.50" stroke="#000" stroke-width="1"/>
<line x1="377.29" y1="192.50" x2="377.29" y2="194.50" stroke="#000" stroke-width="1"/>
<line x1="383.38" y1="341.50" x2="383.38" y2="339.50" stroke="#000" stroke-width="1"/>
<line x1="383.38" y1="192.50" x2="383.38" y2="194.50" stroke="#000" stroke-width="1"/>
<line x1="388.53" y1="341.50" x2="388.53" y2="339.50" stroke="#000" stroke-width="1"/>
<line x1="388.53" y1="192.50" x2="388.53" y2="194.50" stroke="#000" stroke-width="1"/>
<line x1="392.99" y1="341.50" x2="392.99" y2="339.50" stroke="#000" stroke-width="1"/>
<line x1="392.99" y1="192.50" x2="392.99" y2="194.50" stroke="#000" stroke-width="1"/>
<line x1="396.93" y1="341.50" x2="396.93" y2="339.50" stroke="#000" stroke-width="1"/>
<line x1="396.93" y1="192.50" x2="396.93" y2="194.50" stroke="#000" stroke-width="1"/>
<line x1="400.45" y1="341.50" x2="400.45" y2="338.00" stroke="#000" stroke-width="1"/>
<line x1="400.45" y1="192.50" x2="400.45" y2="196.00" stroke="#000" stroke-width="1"/>
<line x1="423.61" y1="341.50" x2="423.61" y2="339.50" stroke="#000" stroke-width="1"/>
<line x1="423.61" y1="192.50" x2="423.61" y2="194.50" stroke="#000" stroke-width="1"/>
<line x1="437.16" y1="341.50" x2="437.16" y2="339.50" stroke="#000" stroke-width="1"/>
<line x1="437.16" y1="192.50" x2="437.16" y2="194.50" stroke="#000" stroke-width="1"/>
<line x1="446.78" y1="341.50" x2="446.78" y2="339.50" stroke="#000" stroke-width="1"/>
<line x1="446.78" y1="192.50" x2="446.78" y2="194.50" stroke="#000" stroke-width="1"/>
<line x1="454.24" y1="341.50" x2="454.24" y2="339.50" stroke="#000" stroke-width="1"/>
<line x1="454.24" y1="192.50" x2="454.24" y2="194.50" stroke="#000" stroke-width="1"/>
<line x1="460.33" y1="341.50" x2="460.33" y2="339.50" stroke="#000" stroke-width="1"/>
<line x1="460.33" y1="192.50" x2="460.33" y2="194.50" stroke="#000" stroke-width="1"/>
<line x1="465.48" y1="341.50" x2="465.48" y2="339.50" stroke="#000" stroke-width="1"/>
<line x1="465.48" y1="192.50" x2="465.48" y2="194.50" stroke="#000" stroke-width="1"/>
<line x1="469.94" y1="341.50" x2="469.94" y2="339.50" stroke="#000" stroke-width="1"/>
<line x1="469.94" y1="192.50" x2="469.94" y2="194.50" stroke="#000" stroke-width="1"/>
<line x1="473.88" y1="341.50" x2="473.88" y2="339.50" stroke="#000" stroke-width="1"/>
<line x1="473.88" y1="192.50" x2="473.88" y2="194.50" stroke="#000" stroke-width="1"/>
<line x1="477.40" y1="341.50" x2="477.40" y2="338.00" stroke="#000" stroke-width="1"/>
<line x1="477.40" y1="192.50" x2="477.40" y2="196.00" stroke="#000" stroke-width="1"/>
<line x1="292.50" y1="341.50" x2="296.00" y2="341.50" stroke="#000" stroke-width="1"/>
<line x1="500.70" y1="341.50" x2="497.20" y2="341.50" stroke="#000" stroke-width="1"/>
<line x1="292.50" y1="308.39" x2="296.00" y2="308.39" stroke="#000" stroke-width="1"/>
<line x1="500.70" y1="308.39" x2="497.20" y2="308.39" stroke="#000" stroke-width="1"/>
<line x1="292.50" y1="275.28" x2="296.00" y2="275.28" stroke="#000" stroke-width="1"/>
<line x1="500.70" y1="275.28" x2="497.20" y2="275.28" stroke="#000" stroke-width="1"/>
<line x1="292.50" y1="242.17" x2="296.00" y2="242.17" stroke="#000" stroke-width="1"/>
<line x1="500.70" y1="242.17" x2="497.20" y2="242.17" stroke="#000" stroke-width="1"/>
<line x1="292.50" y1="209.06" x2="296.00" y2="209.06" stroke="#000" stroke-width="1"/>
<line x1="500.70" y1="209.06" x2="497.20" y2="209.06" stroke="#000" stroke-width="1"/>
<circle cx="313.40" cy="203.00" r="3.5" fill="#000"/>
<rect x="310.00" y="209.90" width="6.8" height="6.8" fill="#00ff00"/>
<path d="M308.70,227.20L318.10,227.20L313.40,218.80Z" fill="#ff0000"/>
<line x1="557.40" y1="233.60" x2="557.40" y2="239.60" stroke="#000" stroke-width="1"/>
<line x1="555.80" y1="233.60" x2="559.00" y2="233.60" stroke="#000" stroke-width="1"/>
<line x1="555.80" y1="239.60" x2="559.00" y2="239.60" stroke="#000" stroke-width="1"/>
<line x1="573.60" y1="214.40" x2="573.60" y2="218.40" stroke="#000" stroke-width="1"/>
<line x1="572.00" y1="214.40" x2="575.20" y2="214.40" stroke="#000" stroke-width="1"/>
<line x1="572.00" y1="218.40" x2="575.20" y2="218.40" stroke="#000" stroke-width="1"/>
<line x1="581.00" y1="216.90" x2="581.00" y2="220.90" stroke="#000" stroke-width="1"/>
<line x1="579.40" y1="216.90" x2="582.60" y2="216.90" stroke="#000" stroke-width="1"/>
<line x1="579.40" y1="220.90" x2="582.60" y2="220.90" stroke="#000" stroke-width="1"/>
<line x1="588.40" y1="216.10" x2="588.40" y2="220.10" stroke="#000" stroke-width="1"/>
<line x1="586.80" y1="216.10" x2="590.00" y2="216.10" stroke="#000" stroke-width="1"/>
<line x1="586.80" y1="220.10" x2="590.00" y2="220.10" stroke="#000" stroke-width="1"/>
<line x1="594.50" y1="220.70" x2="594.50" y2="224.70" stroke="#000" stroke-width="1"/>
<line x1="592.90" y1="220.70" x2="596.10" y2="220.70" stroke="#000" stroke-width="1"/>
<line x1="592.90" y1="224.70" x2="596.10" y2="224.70" stroke="#000" stroke-width="1"/>
<line x1="604.10" y1="226.80" x2="604.10" y2="230.80" stroke="#000" stroke-width="1"/>
<line x1="602.50" y1="226.80" x2="605.70" y2="226.80" stroke="#000" stroke-width="1"/>
<line x1="602.50" y1="230.80" x2="605.70" y2="230.80" stroke="#000" stroke-width="1"/>
<line x1="611.90" y1="224.30" x2="611.90" y2="228.30" stroke="#000" stroke-width="1"/>
<line x1="610.30" y1="224.30" x2="613.50" y2="224.30" stroke="#000" stroke-width="1"/>
<line x1="610.30" y1="228.30" x2="613.50" y2="228.30" stroke="#000" stroke-width="1"/>
<line x1="617.60" y1="228.00" x2="617.60" y2="232.00" stroke="#000" stroke-width="1"/>
<line x1="616.00" y1="228.00" x2="619.20" y2="228.00" stroke="#000" stroke-width="1"/>
<line x1="616.00" y1="232.00" x2="619.20" y2="232.00" stroke="#000" stroke-width="1"/>
<line x1="623.10" y1="228.30" x2="623.10" y2="232.30" stroke="#000" stroke-width="1"/>
<line x1="621.50" y1="228.30" x2="624.70" y2="228.30" stroke="#000" stroke-width="1"/>
<line x1="621.50" y1="232.30" x2="624.70" y2="232.30" stroke="#000" stroke-width="1"/>
<line x1="631.20" y1="233.60" x2="631.20" y2="237.60" stroke="#000" stroke-width="1"/>
<line x1="629.60" y1="233.60" x2="632.80" y2="233.60" stroke="#000" stroke-width="1"/>
<line x1="629.60" y1="237.60" x2="632.80" y2="237.60" stroke="#000" stroke-width="1"/>
<line x1="637.80" y1="234.10" x2="637.80" y2="238.10" stroke="#000" stroke-width="1"/>
<line x1="636.20" y1="234.10" x2="639.40" y2="234.10" stroke="#000" stroke-width="1"/>
<line x1="636.20" y1="238.10" x2="639.40" y2="238.10" stroke="#000" stroke-width="1"/>
<line x1="643.60" y1="234.10" x2="643.60" y2="238.10" stroke="#000" stroke-width="1"/>
<line x1="642.00" y1="234.10" x2="645.20" y2="234.10" stroke="#000" stroke-width="1"/>
<line x1="642.00" y1="238.10" x2="645.20" y2="238.10" stroke="#000" stroke-width="1"/>
<line x1="648.50" y1="238.10" x2="648.50" y2="242.10" stroke="#000" stroke-width="1"/>
<line x1="646.90" y1="238.10" x2="650.10" y2="238.10" stroke="#000" stroke-width="1"/>
<line x1="646.90" y1="242.10" x2="650.10" y2="242.10" stroke="#000" stroke-width="1"/>
<line x1="652.70" y1="241.90" x2="652.70" y2="245.90" stroke="#000" stroke-width="1"/>
<line x1="651.10" y1="241.90" x2="654.30" y2="241.90" stroke="#000" stroke-width="1"/>
<line x1="651.10" y1="245.90" x2="654.30" y2="245.90" stroke="#000" stroke-width="1"/>
<line x1="658.30" y1="242.70" x2="658.30" y2="246.70" stroke="#000" stroke-width="1"/>
<line x1="656.70" y1="242.70" x2="659.90" y2="242.70" stroke="#000" stroke-width="1"/>
<line x1="656.70" y1="246.70" x2="659.90" y2="246.70" stroke="#000" stroke-width="1"/>
<line x1="665.40" y1="246.00" x2="665.40" y2="250.00" stroke="#000" stroke-width="1"/>
<line x1="663.80" y1="246.00" x2="667.00" y2="246.00" stroke="#000" stroke-width="1"/>
<line x1="663.80" y1="250.00" x2="667.00" y2="250.00" stroke="#000" stroke-width="1"/>
<line x1="671.60" y1="250.60" x2="671.60" y2="254.60" stroke="#000" stroke-width="1"/>
<line x1="670.00" y1="250.60" x2="673.20" y2="250.60" stroke="#000" stroke-width="1"/>
<line x1="670.00" y1="254.60" x2="673.20" y2="254.60" stroke="#000" stroke-width="1"/>
<line x1="676.90" y1="253.90" x2="676.90" y2="257.90" stroke="#000" stroke-width="1"/>
<line x1="675.30" y1="253.90" x2="678.50" y2="253.90" stroke="#000" stroke-width="1"/>
<line x1="675.30" y1="257.90" x2="678.50" y2="257.90" stroke="#000" stroke-width="1"/>
<line x1="681.40" y1="257.20" x2="681.40" y2="261.20" stroke="#000" stroke-width="1"/>
<line x1="679.80" y1="257.20" x2="683.00" y2="257.20" stroke="#000" stroke-width="1"/>
<line x1="679.80" y1="261.20" x2="683.00" y2="261.20" stroke="#000" stroke-width="1"/>
<line x1="685.20" y1="260.80" x2="685.20" y2="264.80" stroke="#000" stroke-width="1"/>
<line x1="683.60" y1="260.80" x2="686.80" y2="260.80" stroke="#000" stroke-width="1"/>
<line x1="683.60" y1="264.80" x2="686.80" y2="264.80" stroke="#000" stroke-width="1"/>
<line x1="688.50" y1="262.00" x2="688.50" y2="266.00" stroke="#000" stroke-width="1"/>
<line x1="686.90" y1="262.00" x2="690.10" y2="262.00" stroke="#000" stroke-width="1"/>
<line x1="686.90" y1="266.00" x2="690.10" y2="266.00" stroke="#000" stroke-width="1"/>
<line x1="694.90" y1="270.20" x2="694.90" y2="274.20" stroke="#000" stroke-width="1"/>
<line x1="693.30" y1="270.20" x2="696.50" y2="270.20" stroke="#000" stroke-width="1"/>
<line x1="693.30" y1="274.20" x2="696.50" y2="274.20" stroke="#000" stroke-width="1"/>
<line x1="699.80" y1="274.90" x2="699.80" y2="278.90" stroke="#000" stroke-width="1"/>
<line x1="698.20" y1="274.90" x2="701.40" y2="274.90" stroke="#000" stroke-width="1"/>
<line x1="698.20" y1="278.90" x2="701.40" y2="278.90" stroke="#000" stroke-width="1"/>
<line x1="704.40" y1="278.50" x2="704.40" y2="282.50" stroke="#000" stroke-width="1"/>
<line x1="702.80" y1="278.50" x2="706.00" y2="278.50" stroke="#000" stroke-width="1"/>
<line x1="702.80" y1="282.50" x2="706.00" y2="282.50" stroke="#000" stroke-width="1"/>
<line x1="708.40" y1="282.50" x2="708.40" y2="286.50" stroke="#000" stroke-width="1"/>
<line x1="706.80" y1="282.50" x2="710.00" y2="282.50" stroke="#000" stroke-width="1"/>
<line x1="706.80" y1="286.50" x2="710.00" y2="286.50" stroke="#000" stroke-width="1"/>
<line x1="712.20" y1="285.40" x2="712.20" y2="289.40" stroke="#000" stroke-width="1"/>
<line x1="710.60" y1="285.40" x2="713.80" y2="285.40" stroke="#000" stroke-width="1"/>
<line x1="710.60" y1="289.40" x2="713.80" y2="289.40" stroke="#000" stroke-width="1"/>
<line x1="715.20" y1="287.00" x2="715.20" y2="291.00" stroke="#000" stroke-width="1"/>
<line x1="713.60" y1="287.00" x2="716.80" y2="287.00" stroke="#000" stroke-width="1"/>
<line x1="713.60" y1="291.00" x2="716.80" y2="291.00" stroke="#000" stroke-width="1"/>
<line x1="718.80" y1="290.00" x2="718.80" y2="294.00" stroke="#000" stroke-width="1"/>
<line x1="717.20" y1="290.00" x2="720.40" y2="290.00" stroke="#000" stroke-width="1"/>
<line x1="717.20" y1="294.00" x2="720.40" y2="294.00" stroke="#000" stroke-width="1"/>
<line x1="721.50" y1="291.80" x2="721.50" y2="295.80" stroke="#000" stroke-width="1"/>
<line x1="719.90" y1="291.80" x2="723.10" y2="291.80" stroke="#000" stroke-width="1"/>
<line x1="719.90" y1="295.80" x2="723.10" y2="295.80" stroke="#000" stroke-width="1"/>
<line x1="724.50" y1="293.60" x2="724.50" y2="297.60" stroke="#000" stroke-width="1"/>
<line x1="722.90" y1="293.60" x2="726.10" y2="293.60" stroke="#000" stroke-width="1"/>
<line x1="722.90" y1="297.60" x2="726.10" y2="297.60" stroke="#000" stroke-width="1"/>
<line x1="727.10" y1="295.20" x2="727.10" y2="299.20" stroke="#000" stroke-width="1"/>
<line x1="725.50" y1="295.20" x2="728.70" y2="295.20" stroke="#000" stroke-width="1"/>
<line x1="725.50" y1="299.20" x2="728.70" y2="299.20" stroke="#000" stroke-width="1"/>
<line x1="729.60" y1="297.20" x2="729.60" y2="301.20" stroke="#000" stroke-width="1"/>
<line x1="728.00" y1="297.20" x2="731.20" y2="297.20" stroke="#000" stroke-width="1"/>
<line x1="728.00" y1="301.20" x2="731.20" y2="301.20" stroke="#000" stroke-width="1"/>
<line x1="732.20" y1="299.50" x2="732.20" y2="303.50" stroke="#000" stroke-width="1"/>
<line x1="730.60" y1="299.50" x2="733.80" y2="299.50" stroke="#000" stroke-width="1"/>
<line x1="730.60" y1="303.50" x2="733.80" y2="303.50" stroke="#000" stroke-width="1"/>
<line x1="734.60" y1="301.90" x2="734.60" y2="305.90" stroke="#000" stroke-width="1"/>
<line x1="733.00" y1="301.90" x2="736.20" y2="301.90" stroke="#000" stroke-width="1"/>
<line x1="733.00" y1="305.90" x2="736.20" y2="305.90" stroke="#000" stroke-width="1"/>
<line x1="741.30" y1="306.50" x2="741.30" y2="312.50" stroke="#000" stroke-width="1"/>
<line x1="739.70" y1="306.50" x2="742.90" y2="306.50" stroke="#000" stroke-width="1"/>
<line x1="739.70" y1="312.50" x2="742.90" y2="312.50" stroke="#000" stroke-width="1"/>
<line x1="754.60" y1="302.00" x2="754.60" y2="308.00" stroke="#000" stroke-width="1"/>
<line x1="753.00" y1="302.00" x2="756.20" y2="302.00" stroke="#000" stroke-width="1"/>
<line x1="753.00" y1="308.00" x2="756.20" y2="308.00" stroke="#000" stroke-width="1"/>
<line x1="557.40" y1="218.70" x2="557.40" y2="226.70" stroke="#00ff00" stroke-width="1"/>
<line x1="555.80" y1="218.70" x2="559.00" y2="218.70" stroke="#00ff00" stroke-width="1"/>
<line x1="555.80" y1="226.70" x2="559.00" y2="226.70" stroke="#00ff00" stroke-width="1"/>
<line x1="573.60" y1="264.70" x2="573.60" y2="281.70" stroke="#00ff00" stroke-width="1"/>
<line x1="572.00" y1="264.70" x2="575.20" y2="264.70" stroke="#00ff00" stroke-width="1"/>
<line x1="581.00" y1="223.20" x2="581.00" y2="227.20" stroke="#00ff00" stroke-width="1"/>
<line x1="579.40" y1="223.20" x2="582.60" y2="223.20" stroke="#00ff00" stroke-width="1"/>
<line x1="579.40" y1="227.20" x2="582.60" y2="227.20" stroke="#00ff00" stroke-width="1"/>
<line x1="588.40" y1="215.30" x2="588.40" y2="219.30" stroke="#00ff00" stroke-width="1"/>
<line x1="586.80" y1="215.30" x2="590.00" y2="215.30" stroke="#00ff00" stroke-width="1"/>
<line x1="586.80" y1="219.30" x2="590.00" y2="219.30" stroke="#00ff00" stroke-width="1"/>
<line x1="594.50" y1="223.00" x2="594.50" y2="227.00" stroke="#00ff00" stroke-width="1"/>
<line x1="592.90" y1="223.00" x2="596.10" y2="223.00" stroke="#00ff00" stroke-width="1"/>
<line x1="592.90" y1="227.00" x2="596.10" y2="227.00" stroke="#00ff00" stroke-width="1"/>
<line x1="604.10" y1="223.50" x2="604.10" y2="227.50" stroke="#00ff00" stroke-width="1"/>
<line x1="602.50" y1="223.50" x2="605.70" y2="223.50" stroke="#00ff00" stroke-width="1"/>
<line x1="602.50" y1="227.50" x2="605.70" y2="227.50" stroke="#00ff00" stroke-width="1"/>
<line x1="611.90" y1="222.40" x2="611.90" y2="226.40" stroke="#00ff00" stroke-width="1"/>
<line x1="610.30" y1="222.40" x2="613.50" y2="222.40" stroke="#00ff00" stroke-width="1"/>
<line x1="610.30" y1="226.40" x2="613.50" y2="226.40" stroke="#00ff00" stroke-width="1"/>
<line x1="617.60" y1="227.60" x2="617.60" y2="231.60" stroke="#00ff00" stroke-width="1"/>
<line x1="616.00" y1="227.60" x2="619.20" y2="227.60" stroke="#00ff00" stroke-width="1"/>
<line x1="616.00" y1="231.60" x2="619.20" y2="231.60" stroke="#00ff00" stroke-width="1"/>
<line x1="623.10" y1="228.50" x2="623.10" y2="232.50" stroke="#00ff00" stroke-width="1"/>
<line x1="621.50" y1="228.50" x2="624.70" y2="228.50" stroke="#00ff00" stroke-width="1"/>
<line x1="621.50" y1="232.50" x2="624.70" y2="232.50" stroke="#00ff00" stroke-width="1"/>
<line x1="631.20" y1="228.20" x2="631.20" y2="232.20" stroke="#00ff00" stroke-width="1"/>
<line x1="629.60" y1="228.20" x2="632.80" y2="228.20" stroke="#00ff00" stroke-width="1"/>
<line x1="629.60" y1="232.20" x2="632.80" y2="232.20" stroke="#00ff00" stroke-width="1"/>
<line x1="637.80" y1="230.80" x2="637.80" y2="234.80" stroke="#00ff00" stroke-width="1"/>
<line x1="636.20" y1="230.80" x2="639.40" y2="230.80" stroke="#00ff00" stroke-width="1"/>
<line x1="636.20" y1="234.80" x2="639.40" y2="234.80" stroke="#00ff00" stroke-width="1"/>
<line x1="643.60" y1="232.50" x2="643.60" y2="236.50" stroke="#00ff00" stroke-width="1"/>
<line x1="642.00" y1="232.50" x2="645.20" y2="232.50" stroke="#00ff00" stroke-width="1"/>
<line x1="642.00" y1="236.50" x2="645.20" y2="236.50" stroke="#00ff00" stroke-width="1"/>
<line x1="648.50" y1="234.40" x2="648.50" y2="238.40" stroke="#00ff00" stroke-width="1"/>
<line x1="646.90" y1="234.40" x2="650.10" y2="234.40" stroke="#00ff00" stroke-width="1"/>
<line x1="646.90" y1="238.40" x2="650.10" y2="238.40" stroke="#00ff00" stroke-width="1"/>
<line x1="652.70" y1="243.50" x2="652.70" y2="247.50" stroke="#00ff00" stroke-width="1"/>
<line x1="651.10" y1="243.50" x2="654.30" y2="243.50" stroke="#00ff00" stroke-width="1"/>
<line x1="651.10" y1="247.50" x2="654.30" y2="247.50" stroke="#00ff00" stroke-width="1"/>
<line x1="658.30" y1="250.60" x2="658.30" y2="254.60" stroke="#00ff00" stroke-width="1"/>
<line x1="656.70" y1="250.60" x2="659.90" y2="250.60" stroke="#00ff00" stroke-width="1"/>
<line x1="656.70" y1="254.60" x2="659.90" y2="254.60" stroke="#00ff00" stroke-width="1"/>
<line x1="665.40" y1="256.70" x2="665.40" y2="260.70" stroke="#00ff00" stroke-width="1"/>
<line x1="663.80" y1="256.70" x2="667.00" y2="256.70" stroke="#00ff00" stroke-width="1"/>
<line x1="663.80" y1="260.70" x2="667.00" y2="260.70" stroke="#00ff00" stroke-width="1"/>
<line x1="671.60" y1="256.70" x2="671.60" y2="260.70" stroke="#00ff00" stroke-width="1"/>
<line x1="670.00" y1="256.70" x2="673.20" y2="256.70" stroke="#00ff00" stroke-width="1"/>
<line x1="670.00" y1="260.70" x2="673.20" y2="260.70" stroke="#00ff00" stroke-width="1"/>
<line x1="676.90" y1="255.10" x2="676.90" y2="259.10" stroke="#00ff00" stroke-width="1"/>
<line x1="675.30" y1="255.10" x2="678.50" y2="255.10" stroke="#00ff00" stroke-width="1"/>
<line x1="675.30" y1="259.10" x2="678.50" y2="259.10" stroke="#00ff00" stroke-width="1"/>
<line x1="681.40" y1="256.20" x2="681.40" y2="260.20" stroke="#00ff00" stroke-width="1"/>
<line x1="679.80" y1="256.20" x2="683.00" y2="256.20" stroke="#00ff00" stroke-width="1"/>
<line x1="679.80" y1="260.20" x2="683.00" y2="260.20" stroke="#00ff00" stroke-width="1"/>
<line x1="685.20" y1="258.90" x2="685.20" y2="262.90" stroke="#00ff00" stroke-width="1"/>
<line x1="683.60" y1="258.90" x2="686.80" y2="258.90" stroke="#00ff00" stroke-width="1"/>
<line x1="683.60" y1="262.90" x2="686.80" y2="262.90" stroke="#00ff00" stroke-width="1"/>
<line x1="688.50" y1="259.20" x2="688.50" y2="263.20" stroke="#00ff00" stroke-width="1"/>
<line x1="686.90" y1="259.20" x2="690.10" y2="259.20" stroke="#00ff00" stroke-width="1"/>
<line x1="686.90" y1="263.20" x2="690.10" y2="263.20" stroke="#00ff00" stroke-width="1"/>
<line x1="694.80" y1="261.30" x2="694.80" y2="265.30" stroke="#00ff00" stroke-width="1"/>
<line x1="693.20" y1="261.30" x2="696.40" y2="261.30" stroke="#00ff00" stroke-width="1"/>
<line x1="693.20" y1="265.30" x2="696.40" y2="265.30" stroke="#00ff00" stroke-width="1"/>
<line x1="699.80" y1="263.10" x2="699.80" y2="267.10" stroke="#00ff00" stroke-width="1"/>
<line x1="698.20" y1="263.10" x2="701.40" y2="263.10" stroke="#00ff00" stroke-width="1"/>
<line x1="698.20" y1="267.10" x2="701.40" y2="267.10" stroke="#00ff00" stroke-width="1"/>
<line x1="704.40" y1="264.30" x2="704.40" y2="268.30" stroke="#00ff00" stroke-width="1"/>
<line x1="702.80" y1="264.30" x2="706.00" y2="264.30" stroke="#00ff00" stroke-width="1"/>
<line x1="702.80" y1="268.30" x2="706.00" y2="268.30" stroke="#00ff00" stroke-width="1"/>
<line x1="708.40" y1="266.10" x2="708.40" y2="270.10" stroke="#00ff00" stroke-width="1"/>
<line x1="706.80" y1="266.10" x2="710.00" y2="266.10" stroke="#00ff00" stroke-width="1"/>
<line x1="706.80" y1="270.10" x2="710.00" y2="270.10" stroke="#00ff00" stroke-width="1"/>
<line x1="712.20" y1="270.70" x2="712.20" y2="274.70" stroke="#00ff00" stroke-width="1"/>
<line x1="710.60" y1="270.70" x2="713.80" y2="270.70" stroke="#00ff00" stroke-width="1"/>
<line x1="710.60" y1="274.70" x2="713.80" y2="274.70" stroke="#00ff00" stroke-width="1"/>
<line x1="715.20" y1="272.20" x2="715.20" y2="276.20" stroke="#00ff00" stroke-width="1"/>
<line x1="713.60" y1="272.20" x2="716.80" y2="272.20" stroke="#00ff00" stroke-width="1"/>
<line x1="713.60" y1="276.20" x2="716.80" y2="276.20" stroke="#00ff00" stroke-width="1"/>
<line x1="718.00" y1="275.50" x2="718.00" y2="279.50" stroke="#00ff00" stroke-width="1"/>
<line x1="716.40" y1="275.50" x2="719.60" y2="275.50" stroke="#00ff00" stroke-width="1"/>
<line x1="716.40" y1="279.50" x2="719.60" y2="279.50" stroke="#00ff00" stroke-width="1"/>
<line x1="721.00" y1="279.50" x2="721.00" y2="283.50" stroke="#00ff00" stroke-width="1"/>
<line x1="719.40" y1="279.50" x2="722.60" y2="279.50" stroke="#00ff00" stroke-width="1"/>
<line x1="719.40" y1="283.50" x2="722.60" y2="283.50" stroke="#00ff00" stroke-width="1"/>
<line x1="724.00" y1="280.10" x2="724.00" y2="284.10" stroke="#00ff00" stroke-width="1"/>
<line x1="722.40" y1="280.10" x2="725.60" y2="280.10" stroke="#00ff00" stroke-width="1"/>
<line x1="722.40" y1="284.10" x2="725.60" y2="284.10" stroke="#00ff00" stroke-width="1"/>
<line x1="727.00" y1="281.00" x2="727.00" y2="285.00" stroke="#00ff00" stroke-width="1"/>
<line x1="725.40" y1="281.00" x2="728.60" y2="281.00" stroke="#00ff00" stroke-width="1"/>
<line x1="725.40" y1="285.00" x2="728.60" y2="285.00" stroke="#00ff00" stroke-width="1"/>
<line x1="730.10" y1="282.00" x2="730.10" y2="286.00" stroke="#00ff00" stroke-width="1"/>
<line x1="728.50" y1="282.00" x2="731.70" y2="282.00" stroke="#00ff00" stroke-width="1"/>
<line x1="728.50" y1="286.00" x2="731.70" y2="286.00" stroke="#00ff00" stroke-width="1"/>
<line x1="733.10" y1="284.00" x2="733.10" y2="288.00" stroke="#00ff00" stroke-width="1"/>
<line x1="731.50" y1="284.00" x2="734.70" y2="284.00" stroke="#00ff00" stroke-width="1"/>
<line x1="731.50" y1="288.00" x2="734.70" y2="288.00" stroke="#00ff00" stroke-width="1"/>
<line x1="741.30" y1="292.20" x2="741.30" y2="300.20" stroke="#00ff00" stroke-width="1"/>
<line x1="739.70" y1="292.20" x2="742.90" y2="292.20" stroke="#00ff00" stroke-width="1"/>
<line x1="739.70" y1="300.20" x2="742.90" y2="300.20" stroke="#00ff00" stroke-width="1"/>
<line x1="748.50" y1="292.20" x2="748.50" y2="298.20" stroke="#00ff00" stroke-width="1"/>
<line x1="746.90" y1="292.20" x2="750.10" y2="292.20" stroke="#00ff00" stroke-width="1"/>
<line x1="746.90" y1="298.20" x2="750.10" y2="298.20" stroke="#00ff00" stroke-width="1"/>
<line x1="754.90" y1="287.30" x2="754.90" y2="293.30" stroke="#00ff00" stroke-width="1"/>
<line x1="753.30" y1="287.30" x2="756.50" y2="287.30" stroke="#00ff00" stroke-width="1"/>
<line x1="753.30" y1="293.30" x2="756.50" y2="293.30" stroke="#00ff00" stroke-width="1"/>
<line x1="758.50" y1="299.50" x2="758.50" y2="305.50" stroke="#00ff00" stroke-width="1"/>
<line x1="756.90" y1="299.50" x2="760.10" y2="299.50" stroke="#00ff00" stroke-width="1"/>
<line x1="756.90" y1="305.50" x2="760.10" y2="305.50" stroke="#00ff00" stroke-width="1"/>
<circle cx="557.40" cy="236.60" r="1.75" fill="#000"/>
<circle cx="573.60" cy="216.40" r="1.75" fill="#000"/>
<circle cx="581.00" cy="218.90" r="1.75" fill="#000"/>
<circle cx="588.40" cy="218.10" r="1.75" fill="#000"/>
<circle cx="594.50" cy="222.70" r="1.75" fill="#000"/>
<circle cx="604.10" cy="228.80" r="1.75" fill="#000"/>
<circle cx="611.90" cy="226.30" r="1.75" fill="#000"/>
<circle cx="617.60" cy="230.00" r="1.75" fill="#000"/>
<circle cx="623.10" cy="230.30" r="1.75" fill="#000"/>
<circle cx="631.20" cy="235.60" r="1.75" fill="#000"/>
<circle cx="637.80" cy="236.10" r="1.75" fill="#000"/>
<circle cx="643.60" cy="236.10" r="1.75" fill="#000"/>
<circle cx="648.50" cy="240.10" r="1.75" fill="#000"/>
<circle cx="652.70" cy="243.90" r="1.75" fill="#000"/>
<circle cx="658.30" cy="244.70" r="1.75" fill="#000"/>
<circle cx="665.40" cy="248.00" r="1.75" fill="#000"/>
<circle cx="671.60" cy="252.60" r="1.75" fill="#000"/>
<circle cx="676.90" cy="255.90" r="1.75" fill="#000"/>
<circle cx="681.40" cy="259.20" r="1.75" fill="#000"/>
<circle cx="685.20" cy="262.80" r="1.75" fill="#000"/>
<circle cx="688.50" cy="264.00" r="1.75" fill="#000"/>
<circle cx="694.90" cy="272.20" r="1.75" fill="#000"/>
<circle cx="699.80" cy="276.90" r="1.75" fill="#000"/>
<circle cx="704.40" cy="280.50" r="1.75" fill="#000"/>
<circle cx="708.40" cy="284.50" r="1.75" fill="#000"/>
<circle cx="712.20" cy="287.40" r="1.75" fill="#000"/>
<circle cx="715.20" cy="289.00" r="1.75" fill="#000"/>
<circle cx="718.80" cy="292.00" r="1.75" fill="#000"/>
<circle cx="721.50" cy="293.80" r="1.75" fill="#000"/>
<circle cx="724.50" cy="295.60" r="1.75" fill="#000"/>
<circle cx="727.10" cy="297.20" r="1.75" fill="#000"/>
<circle cx="729.60" cy="299.20" r="1.75" fill="#000"/>
<circle cx="732.20" cy="301.50" r="1.75" fill="#000"/>
<circle cx="734.60" cy="303.90" r="1.75" fill="#000"/>
<circle cx="741.30" cy="309.50" r="1.75" fill="#000"/>
<circle cx="754.60" cy="305.00" r="1.75" fill="#000"/>
<rect x="555.50" y="220.80" width="3.80" height="3.80" fill="#00ff00"/>
<rect x="571.70" y="279.80" width="3.80" height="3.80" fill="#00ff00"/>
<rect x="579.10" y="223.30" width="3.80" height="3.80" fill="#00ff00"/>
<rect x="586.50" y="215.40" width="3.80" height="3.80" fill="#00ff00"/>
<rect x="592.60" y="223.10" width="3.80" height="3.80" fill="#00ff00"/>
<rect x="602.20" y="223.60" width="3.80" height="3.80" fill="#00ff00"/>
<rect x="610.00" y="222.50" width="3.80" height="3.80" fill="#00ff00"/>
<rect x="615.70" y="227.70" width="3.80" height="3.80" fill="#00ff00"/>
<rect x="621.20" y="228.60" width="3.80" height="3.80" fill="#00ff00"/>
<rect x="629.30" y="228.30" width="3.80" height="3.80" fill="#00ff00"/>
<rect x="635.90" y="230.90" width="3.80" height="3.80" fill="#00ff00"/>
<rect x="641.70" y="232.60" width="3.80" height="3.80" fill="#00ff00"/>
<rect x="646.60" y="234.50" width="3.80" height="3.80" fill="#00ff00"/>
<rect x="650.80" y="243.60" width="3.80" height="3.80" fill="#00ff00"/>
<rect x="656.40" y="250.70" width="3.80" height="3.80" fill="#00ff00"/>
<rect x="663.50" y="256.80" width="3.80" height="3.80" fill="#00ff00"/>
<rect x="669.70" y="256.80" width="3.80" height="3.80" fill="#00ff00"/>
<rect x="675.00" y="255.20" width="3.80" height="3.80" fill="#00ff00"/>
<rect x="679.50" y="256.30" width="3.80" height="3.80" fill="#00ff00"/>
<rect x="683.30" y="259.00" width="3.80" height="3.80" fill="#00ff00"/>
<rect x="686.60" y="259.30" width="3.80" height="3.80" fill="#00ff00"/>
<rect x="692.90" y="261.40" width="3.80" height="3.80" fill="#00ff00"/>
<rect x="697.90" y="263.20" width="3.80" height="3.80" fill="#00ff00"/>
<rect x="702.50" y="264.40" width="3.80" height="3.80" fill="#00ff00"/>
<rect x="706.50" y="266.20" width="3.80" height="3.80" fill="#00ff00"/>
<rect x="710.30" y="270.80" width="3.80" height="3.80" fill="#00ff00"/>
<rect x="713.30" y="272.30" width="3.80" height="3.80" fill="#00ff00"/>
<rect x="716.10" y="275.60" width="3.80" height="3.80" fill="#00ff00"/>
<rect x="719.10" y="279.60" width="3.80" height="3.80" fill="#00ff00"/>
<rect x="722.10" y="280.20" width="3.80" height="3.80" fill="#00ff00"/>
<rect x="725.10" y="281.10" width="3.80" height="3.80" fill="#00ff00"/>
<rect x="728.20" y="282.10" width="3.80" height="3.80" fill="#00ff00"/>
<rect x="731.20" y="284.10" width="3.80" height="3.80" fill="#00ff00"/>
<rect x="739.40" y="294.30" width="3.80" height="3.80" fill="#00ff00"/>
<rect x="746.60" y="293.30" width="3.80" height="3.80" fill="#00ff00"/>
<rect x="753.00" y="288.40" width="3.80" height="3.80" fill="#00ff00"/>
<rect x="756.60" y="300.60" width="3.80" height="3.80" fill="#00ff00"/>
<path d="M555.50,214.10L560.30,214.10L557.90,209.27Z" fill="#ff0000"/>
<path d="M571.20,213.80L576.00,213.80L573.60,208.97Z" fill="#ff0000"/>
<path d="M578.60,216.30L583.40,216.30L581.00,211.47Z" fill="#ff0000"/>
<path d="M586.00,220.10L590.80,220.10L588.40,215.27Z" fill="#ff0000"/>
<path d="M592.10,221.20L596.90,221.20L594.50,216.37Z" fill="#ff0000"/>
<path d="M601.70,230.30L606.50,230.30L604.10,225.47Z" fill="#ff0000"/>
<path d="M609.50,230.30L614.30,230.30L611.90,225.47Z" fill="#ff0000"/>
<path d="M615.20,229.00L620.00,229.00L617.60,224.17Z" fill="#ff0000"/>
<path d="M620.70,236.70L625.50,236.70L623.10,231.87Z" fill="#ff0000"/>
<path d="M628.80,244.00L633.60,244.00L631.20,239.17Z" fill="#ff0000"/>
<path d="M635.40,244.00L640.20,244.00L637.80,239.17Z" fill="#ff0000"/>
<path d="M641.20,242.40L646.00,242.40L643.60,237.57Z" fill="#ff0000"/>
<path d="M646.10,246.70L650.90,246.70L648.50,241.87Z" fill="#ff0000"/>
<path d="M650.30,244.00L655.10,244.00L652.70,239.17Z" fill="#ff0000"/>
<path d="M655.90,246.70L660.70,246.70L658.30,241.87Z" fill="#ff0000"/>
<path d="M663.00,252.80L667.80,252.80L665.40,247.97Z" fill="#ff0000"/>
<path d="M669.20,253.60L674.00,253.60L671.60,248.77Z" fill="#ff0000"/>
<path d="M674.50,256.90L679.30,256.90L676.90,252.07Z" fill="#ff0000"/>
<path d="M679.00,259.40L683.80,259.40L681.40,254.57Z" fill="#ff0000"/>
<path d="M682.80,259.30L687.60,259.30L685.20,254.47Z" fill="#ff0000"/>
<path d="M686.40,269.70L691.20,269.70L688.80,264.87Z" fill="#ff0000"/>
<path d="M692.40,268.70L697.20,268.70L694.80,263.87Z" fill="#ff0000"/>
<path d="M697.40,271.70L702.20,271.70L699.80,266.87Z" fill="#ff0000"/>
<path d="M702.00,274.20L706.80,274.20L704.40,269.37Z" fill="#ff0000"/>
<path d="M706.00,280.30L710.80,280.30L708.40,275.47Z" fill="#ff0000"/>
<path d="M709.80,282.80L714.60,282.80L712.20,277.97Z" fill="#ff0000"/>
<path d="M712.80,277.70L717.60,277.70L715.20,272.87Z" fill="#ff0000"/>
<path d="M715.60,284.10L720.40,284.10L718.00,279.27Z" fill="#ff0000"/>
<path d="M718.60,284.10L723.40,284.10L721.00,279.27Z" fill="#ff0000"/>
<path d="M721.60,285.60L726.40,285.60L724.00,280.77Z" fill="#ff0000"/>
<path d="M724.60,286.80L729.40,286.80L727.00,281.97Z" fill="#ff0000"/>
<path d="M727.70,292.40L732.50,292.40L730.10,287.57Z" fill="#ff0000"/>
<path d="M730.70,287.80L735.50,287.80L733.10,282.97Z" fill="#ff0000"/>
<path d="M733.30,292.80L738.10,292.80L735.70,287.97Z" fill="#ff0000"/>
<path d="M738.90,288.80L743.70,288.80L741.30,283.97Z" fill="#ff0000"/>
<path d="M746.10,302.10L750.90,302.10L748.50,297.27Z" fill="#ff0000"/>
<path d="M752.50,305.10L757.30,305.10L754.90,300.27Z" fill="#ff0000"/>
<rect x="550.40" y="192.50" width="208.00" height="149.00" fill="none" stroke="#000" stroke-width="1"/>
<line x1="558.24" y1="341.50" x2="558.24" y2="339.50" stroke="#000" stroke-width="1"/>
<line x1="558.24" y1="192.50" x2="558.24" y2="194.50" stroke="#000" stroke-width="1"/>
<line x1="564.33" y1="341.50" x2="564.33" y2="339.50" stroke="#000" stroke-width="1"/>
<line x1="564.33" y1="192.50" x2="564.33" y2="194.50" stroke="#000" stroke-width="1"/>
<line x1="569.48" y1="341.50" x2="569.48" y2="339.50" stroke="#000" stroke-width="1"/>
<line x1="569.48" y1="192.50" x2="569.48" y2="194.50" stroke="#000" stroke-width="1"/>
<line x1="573.94" y1="341.50" x2="573.94" y2="339.50" stroke="#000" stroke-width="1"/>
<line x1="573.94" y1="192.50" x2="573.94" y2="194.50" stroke="#000" stroke-width="1"/>
<line x1="577.88" y1="341.50" x2="577.88" y2="339.50" stroke="#000" stroke-width="1"/>
<line x1="577.88" y1="192.50" x2="577.88" y2="194.50" stroke="#000" stroke-width="1"/>
<line x1="581.40" y1="341.50" x2="581.40" y2="338.00" stroke="#000" stroke-width="1"/>
<line x1="581.40" y1="192.50" x2="581.40" y2="196.00" stroke="#000" stroke-width="1"/>
<line x1="604.56" y1="341.50" x2="604.56" y2="339.50" stroke="#000" stroke-width="1"/>
<line x1="604.56" y1="192.50" x2="604.56" y2="194.50" stroke="#000" stroke-width="1"/>
<line x1="618.11" y1="341.50" x2="618.11" y2="339.50" stroke="#000" stroke-width="1"/>
<line x1="618.11" y1="192.50" x2="618.11" y2="194.50" stroke="#000" stroke-width="1"/>
<line x1="627.73" y1="341.50" x2="627.73" y2="339.50" stroke="#000" stroke-width="1"/>
<line x1="627.73" y1="192.50" x2="627.73" y2="194.50" stroke="#000" stroke-width="1"/>
<line x1="635.19" y1="341.50" x2="635.19" y2="339.50" stroke="#000" stroke-width="1"/>
<line x1="635.19" y1="192.50" x2="635.19" y2="194.50" stroke="#000" stroke-width="1"/>
<line x1="641.28" y1="341.50" x2="641.28" y2="339.50" stroke="#000" stroke-width="1"/>
<line x1="641.28" y1="192.50" x2="641.28" y2="194.50" stroke="#000" stroke-width="1"/>
<line x1="646.43" y1="341.50" x2="646.43" y2="339.50" stroke="#000" stroke-width="1"/>
<line x1="646.43" y1="192.50" x2="646.43" y2="194.50" stroke="#000" stroke-width="1"/>
<line x1="650.89" y1="341.50" x2="650.89" y2="339.50" stroke="#000" stroke-width="1"/>
<line x1="650.89" y1="192.50" x2="650.89" y2="194.50" stroke="#000" stroke-width="1"/>
<line x1="654.83" y1="341.50" x2="654.83" y2="339.50" stroke="#000" stroke-width="1"/>
<line x1="654.83" y1="192.50" x2="654.83" y2="194.50" stroke="#000" stroke-width="1"/>
<line x1="658.35" y1="341.50" x2="658.35" y2="338.00" stroke="#000" stroke-width="1"/>
<line x1="658.35" y1="192.50" x2="658.35" y2="196.00" stroke="#000" stroke-width="1"/>
<line x1="681.51" y1="341.50" x2="681.51" y2="339.50" stroke="#000" stroke-width="1"/>
<line x1="681.51" y1="192.50" x2="681.51" y2="194.50" stroke="#000" stroke-width="1"/>
<line x1="695.06" y1="341.50" x2="695.06" y2="339.50" stroke="#000" stroke-width="1"/>
<line x1="695.06" y1="192.50" x2="695.06" y2="194.50" stroke="#000" stroke-width="1"/>
<line x1="704.68" y1="341.50" x2="704.68" y2="339.50" stroke="#000" stroke-width="1"/>
<line x1="704.68" y1="192.50" x2="704.68" y2="194.50" stroke="#000" stroke-width="1"/>
<line x1="712.14" y1="341.50" x2="712.14" y2="339.50" stroke="#000" stroke-width="1"/>
<line x1="712.14" y1="192.50" x2="712.14" y2="194.50" stroke="#000" stroke-width="1"/>
<line x1="718.23" y1="341.50" x2="718.23" y2="339.50" stroke="#000" stroke-width="1"/>
<line x1="718.23" y1="192.50" x2="718.23" y2="194.50" stroke="#000" stroke-width="1"/>
<line x1="723.38" y1="341.50" x2="723.38" y2="339.50" stroke="#000" stroke-width="1"/>
<line x1="723.38" y1="192.50" x2="723.38" y2="194.50" stroke="#000" stroke-width="1"/>
<line x1="727.84" y1="341.50" x2="727.84" y2="339.50" stroke="#000" stroke-width="1"/>
<line x1="727.84" y1="192.50" x2="727.84" y2="194.50" stroke="#000" stroke-width="1"/>
<line x1="731.78" y1="341.50" x2="731.78" y2="339.50" stroke="#000" stroke-width="1"/>
<line x1="731.78" y1="192.50" x2="731.78" y2="194.50" stroke="#000" stroke-width="1"/>
<line x1="735.30" y1="341.50" x2="735.30" y2="338.00" stroke="#000" stroke-width="1"/>
<line x1="735.30" y1="192.50" x2="735.30" y2="196.00" stroke="#000" stroke-width="1"/>
<line x1="550.40" y1="341.50" x2="553.90" y2="341.50" stroke="#000" stroke-width="1"/>
<line x1="758.40" y1="341.50" x2="754.90" y2="341.50" stroke="#000" stroke-width="1"/>
<line x1="550.40" y1="327.91" x2="552.40" y2="327.91" stroke="#000" stroke-width="1"/>
<line x1="758.40" y1="327.91" x2="756.40" y2="327.91" stroke="#000" stroke-width="1"/>
<line x1="550.40" y1="319.96" x2="552.40" y2="319.96" stroke="#000" stroke-width="1"/>
<line x1="758.40" y1="319.96" x2="756.40" y2="319.96" stroke="#000" stroke-width="1"/>
<line x1="550.40" y1="314.32" x2="552.40" y2="314.32" stroke="#000" stroke-width="1"/>
<line x1="758.40" y1="314.32" x2="756.40" y2="314.32" stroke="#000" stroke-width="1"/>
<line x1="550.40" y1="309.95" x2="552.40" y2="309.95" stroke="#000" stroke-width="1"/>
<line x1="758.40" y1="309.95" x2="756.40" y2="309.95" stroke="#000" stroke-width="1"/>
<line x1="550.40" y1="306.38" x2="552.40" y2="306.38" stroke="#000" stroke-width="1"/>
<line x1="758.40" y1="306.38" x2="756.40" y2="306.38" stroke="#000" stroke-width="1"/>
<line x1="550.40" y1="303.35" x2="552.40" y2="303.35" stroke="#000" stroke-width="1"/>
<line x1="758.40" y1="303.35" x2="756.40" y2="303.35" stroke="#000" stroke-width="1"/>
<line x1="550.40" y1="300.74" x2="552.40" y2="300.74" stroke="#000" stroke-width="1"/>
<line x1="758.40" y1="300.74" x2="756.40" y2="300.74" stroke="#000" stroke-width="1"/>
<line x1="550.40" y1="298.43" x2="552.40" y2="298.43" stroke="#000" stroke-width="1"/>
<line x1="758.40" y1="298.43" x2="756.40" y2="298.43" stroke="#000" stroke-width="1"/>
<line x1="550.40" y1="296.36" x2="553.90" y2="296.36" stroke="#000" stroke-width="1"/>
<line x1="758.40" y1="296.36" x2="754.90" y2="296.36" stroke="#000" stroke-width="1"/>
<line x1="550.40" y1="282.77" x2="552.40" y2="282.77" stroke="#000" stroke-width="1"/>
<line x1="758.40" y1="282.77" x2="756.40" y2="282.77" stroke="#000" stroke-width="1"/>
<line x1="550.40" y1="274.83" x2="552.40" y2="274.83" stroke="#000" stroke-width="1"/>
<line x1="758.40" y1="274.83" x2="756.40" y2="274.83" stroke="#000" stroke-width="1"/>
<line x1="550.40" y1="269.19" x2="552.40" y2="269.19" stroke="#000" stroke-width="1"/>
<line x1="758.40" y1="269.19" x2="756.40" y2="269.19" stroke="#000" stroke-width="1"/>
<line x1="550.40" y1="264.81" x2="552.40" y2="264.81" stroke="#000" stroke-width="1"/>
<line x1="758.40" y1="264.81" x2="756.40" y2="264.81" stroke="#000" stroke-width="1"/>
<line x1="550.40" y1="261.24" x2="552.40" y2="261.24" stroke="#000" stroke-width="1"/>
<line x1="758.40" y1="261.24" x2="756.40" y2="261.24" stroke="#000" stroke-width="1"/>
<line x1="550.40" y1="258.22" x2="552.40" y2="258.22" stroke="#000" stroke-width="1"/>
<line x1="758.40" y1="258.22" x2="756.40" y2="258.22" stroke="#000" stroke-width="1"/>
<line x1="550.40" y1="255.60" x2="552.40" y2="255.60" stroke="#000" stroke-width="1"/>
<line x1="758.40" y1="255.60" x2="756.40" y2="255.60" stroke="#000" stroke-width="1"/>
<line x1="550.40" y1="253.29" x2="552.40" y2="253.29" stroke="#000" stroke-width="1"/>
<line x1="758.40" y1="253.29" x2="756.40" y2="253.29" stroke="#000" stroke-width="1"/>
<line x1="550.40" y1="251.23" x2="553.90" y2="251.23" stroke="#000" stroke-width="1"/>
<line x1="758.40" y1="251.23" x2="754.90" y2="251.23" stroke="#000" stroke-width="1"/>
<line x1="550.40" y1="237.64" x2="552.40" y2="237.64" stroke="#000" stroke-width="1"/>
<line x1="758.40" y1="237.64" x2="756.40" y2="237.64" stroke="#000" stroke-width="1"/>
<line x1="550.40" y1="229.69" x2="552.40" y2="229.69" stroke="#000" stroke-width="1"/>
<line x1="758.40" y1="229.69" x2="756.40" y2="229.69" stroke="#000" stroke-width="1"/>
<line x1="550.40" y1="224.05" x2="552.40" y2="224.05" stroke="#000" stroke-width="1"/>
<line x1="758.40" y1="224.05" x2="756.40" y2="224.05" stroke="#000" stroke-width="1"/>
<line x1="550.40" y1="219.68" x2="552.40" y2="219.68" stroke="#000" stroke-width="1"/>
<line x1="758.40" y1="219.68" x2="756.40" y2="219.68" stroke="#000" stroke-width="1"/>
<line x1="550.40" y1="216.10" x2="552.40" y2="216.10" stroke="#000" stroke-width="1"/>
<line x1="758.40" y1="216.10" x2="756.40" y2="216.10" stroke="#000" stroke-width="1"/>
<line x1="550.40" y1="213.08" x2="552.40" y2="213.08" stroke="#000" stroke-width="1"/>
<line x1="758.40" y1="213.08" x2="756.40" y2="213.08" stroke="#000" stroke-width="1"/>
<line x1="550.40" y1="210.46" x2="552.40" y2="210.46" stroke="#000" stroke-width="1"/>
<line x1="758.40" y1="210.46" x2="756.40" y2="210.46" stroke="#000" stroke-width="1"/>
<line x1="550.40" y1="208.15" x2="552.40" y2="208.15" stroke="#000" stroke-width="1"/>
<line x1="758.40" y1="208.15" x2="756.40" y2="208.15" stroke="#000" stroke-width="1"/>
<line x1="550.40" y1="206.09" x2="553.90" y2="206.09" stroke="#000" stroke-width="1"/>
<line x1="758.40" y1="206.09" x2="754.90" y2="206.09" stroke="#000" stroke-width="1"/>
<line x1="550.40" y1="192.50" x2="552.40" y2="192.50" stroke="#000" stroke-width="1"/>
<line x1="758.40" y1="192.50" x2="756.40" y2="192.50" stroke="#000" stroke-width="1"/>
<circle cx="570.50" cy="303.80" r="3.5" fill="#000"/>
<rect x="567.10" y="310.80" width="6.8" height="6.8" fill="#00ff00"/>
<path d="M565.80,328.20L575.20,328.20L570.50,319.80Z" fill="#ff0000"/>
</g>
<text x="65.50" y="164.70" font-size="9" text-anchor="middle" >0.1</text>
<text x="142.45" y="164.70" font-size="9" text-anchor="middle" >1</text>
<text x="219.40" y="164.70" font-size="9" text-anchor="middle" >10</text>
<text x="139.00" y="175.10" font-size="9" text-anchor="middle" >Frequency (Hz)</text>
<text x="30.50" y="156.20" font-size="9" text-anchor="end" >2</text>
<text x="30.50" y="138.67" font-size="9" text-anchor="end" >3</text>
<text x="30.50" y="121.14" font-size="9" text-anchor="end" >4</text>
<text x="30.50" y="103.61" font-size="9" text-anchor="end" >5</text>
<text x="30.50" y="86.08" font-size="9" text-anchor="end" >6</text>
<text x="30.50" y="68.55" font-size="9" text-anchor="end" >7</text>
<text x="30.50" y="51.02" font-size="9" text-anchor="end" >8</text>
<text x="30.50" y="33.49" font-size="9" text-anchor="end" >9</text>
<text x="30.50" y="15.96" font-size="9" text-anchor="end" >10</text>
<text transform="translate(12.40,86.60) rotate(-90)" font-size="9.5" text-anchor="middle">A (f)</text>
<text x="158.30" y="20.00" font-size="6.8" text-anchor="start" textLength="84" lengthAdjust="spacingAndGlyphs" stroke="#000" stroke-width="0.25">MAXI J1820+070 , March 2018</text>
<text x="158.60" y="30.30" font-size="6.8" text-anchor="start" textLength="70" lengthAdjust="spacingAndGlyphs" stroke="#000" stroke-width="0.25">Cygnus X-1 , January 2016</text>
<text x="158.60" y="40.60" font-size="6.8" text-anchor="start" textLength="60.8" lengthAdjust="spacingAndGlyphs" stroke="#000" stroke-width="0.25">Cygnus X-1 , June 2016</text>
<text x="323.50" y="164.70" font-size="9" text-anchor="middle" >0.1</text>
<text x="400.45" y="164.70" font-size="9" text-anchor="middle" >1</text>
<text x="477.40" y="164.70" font-size="9" text-anchor="middle" >10</text>
<text x="396.60" y="175.10" font-size="9" text-anchor="middle" >Frequency (Hz)</text>
<text x="288.50" y="7.20" font-size="9" text-anchor="end" >0.2</text>
<text x="288.50" y="37.00" font-size="9" text-anchor="end" >0.1</text>
<text x="288.50" y="66.80" font-size="9" text-anchor="end" >0.0</text>
<text x="288.50" y="96.60" font-size="9" text-anchor="end" >-0.1</text>
<text x="288.50" y="126.40" font-size="9" text-anchor="end" >-0.2</text>
<text x="288.50" y="156.20" font-size="9" text-anchor="end" >-0.3</text>
<text transform="translate(265.00,87.30) rotate(-90)" font-size="9.5" text-anchor="middle">p (f)</text>
<text x="319.10" y="23.90" font-size="6.8" text-anchor="start" textLength="84" lengthAdjust="spacingAndGlyphs" stroke="#000" stroke-width="0.25">MAXI J1820+070, March 2018</text>
<text x="319.10" y="34.20" font-size="6.8" text-anchor="start" textLength="70" lengthAdjust="spacingAndGlyphs" stroke="#000" stroke-width="0.25">Cygnus X-1, January 2016</text>
<text x="319.10" y="44.50" font-size="6.8" text-anchor="start" textLength="60.8" lengthAdjust="spacingAndGlyphs" stroke="#000" stroke-width="0.25">Cygnus X-1, June 2016</text>
<text x="581.40" y="164.70" font-size="9" text-anchor="middle" >0.1</text>
<text x="658.35" y="164.70" font-size="9" text-anchor="middle" >1</text>
<text x="735.30" y="164.70" font-size="9" text-anchor="middle" >10</text>
<text x="654.40" y="175.10" font-size="9" text-anchor="middle" >Frequency (Hz)</text>
<text x="546.40" y="121.48" font-size="9" text-anchor="end" >1</text>
<text x="546.40" y="71.82" font-size="9" text-anchor="end" >10</text>
<text x="546.40" y="22.15" font-size="9" text-anchor="end" >100</text>
<text transform="translate(522.70,87.00) rotate(-90)" font-size="9.5" text-anchor="middle">T<tspan font-size="6.5" dy="2">d</tspan><tspan dy="-2"> (f)</tspan></text>
<text x="668.80" y="19.80" font-size="6.8" text-anchor="start" textLength="84" lengthAdjust="spacingAndGlyphs" stroke="#000" stroke-width="0.25">MAXI J1820+070 , March 2018</text>
<text x="671.40" y="30.20" font-size="6.8" text-anchor="start" textLength="70" lengthAdjust="spacingAndGlyphs" stroke="#000" stroke-width="0.25">Cygnus X-1 , January 2016</text>
<text x="671.40" y="40.60" font-size="6.8" text-anchor="start" textLength="60.8" lengthAdjust="spacingAndGlyphs" stroke="#000" stroke-width="0.25">Cygnus X-1 , June 2016</text>
<text x="65.50" y="351.70" font-size="9" text-anchor="middle" >0.1</text>
<text x="142.45" y="351.70" font-size="9" text-anchor="middle" >1</text>
<text x="219.40" y="351.70" font-size="9" text-anchor="middle" >10</text>
<text x="139.00" y="361.60" font-size="9" text-anchor="middle" >Frequency (Hz)</text>
<text x="30.50" y="328.30" font-size="9" text-anchor="end" >0.4</text>
<text x="30.50" y="298.50" font-size="9" text-anchor="end" >0.8</text>
<text x="30.50" y="268.70" font-size="9" text-anchor="end" >1.2</text>
<text x="30.50" y="238.90" font-size="9" text-anchor="end" >1.6</text>
<text x="30.50" y="209.10" font-size="9" text-anchor="end" >2.0</text>
<text transform="translate(7.50,276.00) rotate(-90)" font-size="9.5" text-anchor="middle">δT<tspan font-size="6.5" dy="2">c</tspan><tspan dy="-2">/δT</tspan><tspan font-size="6.5" dy="2">s</tspan></text>
<text x="159.90" y="210.80" font-size="6.8" text-anchor="start" textLength="84" lengthAdjust="spacingAndGlyphs" stroke="#000" stroke-width="0.25">MAXI J1820+070, March 2018</text>
<text x="159.90" y="221.30" font-size="6.8" text-anchor="start" textLength="70" lengthAdjust="spacingAndGlyphs" stroke="#000" stroke-width="0.25">Cygnus X-1, January 2016</text>
<text x="159.90" y="231.80" font-size="6.8" text-anchor="start" textLength="60.8" lengthAdjust="spacingAndGlyphs" stroke="#000" stroke-width="0.25">Cygnus X-1, June 2016</text>
<text x="323.50" y="351.70" font-size="9" text-anchor="middle" >0.1</text>
<text x="400.45" y="351.70" font-size="9" text-anchor="middle" >1</text>
<text x="477.40" y="351.70" font-size="9" text-anchor="middle" >10</text>
<text x="396.60" y="361.60" font-size="9" text-anchor="middle" >Frequency (Hz)</text>
<text x="288.50" y="343.20" font-size="9" text-anchor="end" >0.00</text>
<text x="288.50" y="310.09" font-size="9" text-anchor="end" >0.02</text>
<text x="288.50" y="276.98" font-size="9" text-anchor="end" >0.04</text>
<text x="288.50" y="243.87" font-size="9" text-anchor="end" >0.06</text>
<text x="288.50" y="210.76" font-size="9" text-anchor="end" >0.08</text>
<text transform="translate(262.00,273.70) rotate(-90)" font-size="9.5" text-anchor="middle">δT<tspan font-size="6.5" dy="2">s</tspan></text>
<text x="322.80" y="206.10" font-size="6.8" text-anchor="start" textLength="84" lengthAdjust="spacingAndGlyphs" stroke="#000" stroke-width="0.25">MAXI J1820+070, March 2018</text>
<text x="322.80" y="216.40" font-size="6.8" text-anchor="start" textLength="70" lengthAdjust="spacingAndGlyphs" stroke="#000" stroke-width="0.25">Cygnus X-1, January 2016</text>
<text x="322.80" y="226.70" font-size="6.8" text-anchor="start" textLength="60.8" lengthAdjust="spacingAndGlyphs" stroke="#000" stroke-width="0.25">Cygnus X-1, June 2016</text>
<text x="581.40" y="351.70" font-size="9" text-anchor="middle" >0.1</text>
<text x="658.35" y="351.70" font-size="9" text-anchor="middle" >1</text>
<text x="735.30" y="351.70" font-size="9" text-anchor="middle" >10</text>
<text x="654.40" y="361.60" font-size="9" text-anchor="middle" >Frequency (Hz)</text>
<text x="546.40" y="343.20" font-size="9" text-anchor="end" >1</text>
<text x="546.40" y="298.06" font-size="9" text-anchor="end" >10</text>
<text x="546.40" y="252.93" font-size="9" text-anchor="end" >100</text>
<text x="546.40" y="207.79" font-size="9" text-anchor="end" >1000</text>
<text transform="translate(518.00,273.80) rotate(-90)" font-size="9.5" text-anchor="middle">τ<tspan font-size="6.5" dy="2">D</tspan><tspan dy="-2"> (ms)</tspan></text>
<text x="580.40" y="306.90" font-size="6.8" text-anchor="start" textLength="84" lengthAdjust="spacingAndGlyphs" stroke="#000" stroke-width="0.25">MAXI J1820+070, March 2018</text>
<text x="580.40" y="317.30" font-size="6.8" text-anchor="start" textLength="70" lengthAdjust="spacingAndGlyphs" stroke="#000" stroke-width="0.25">Cygnus X-1, January 2016</text>
<text x="580.40" y="327.70" font-size="6.8" text-anchor="start" textLength="60.8" lengthAdjust="spacingAndGlyphs" stroke="#000" stroke-width="0.25">Cygnus X-1, June 2016</text>
</svg></body></html>
